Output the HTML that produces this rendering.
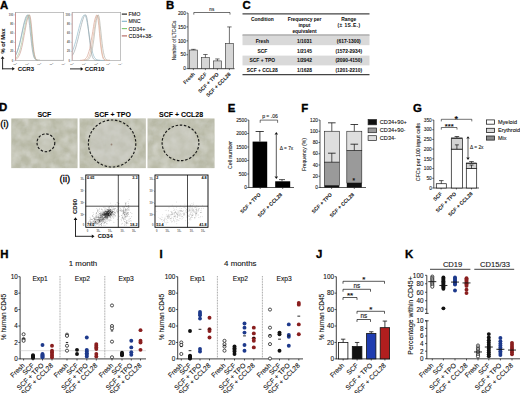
<!DOCTYPE html>
<html><head><meta charset="utf-8"><style>
html,body{margin:0;padding:0;background:#fff;}
svg{display:block;font-family:"Liberation Sans", sans-serif;}
</style></head><body>
<svg width="520" height="393" viewBox="0 0 520 393">
<rect width="520" height="393" fill="#fff"/>
<defs>
<filter id="tex" x="0" y="0" width="100%" height="100%">
<feTurbulence type="fractalNoise" baseFrequency="0.14" numOctaves="3" seed="7" result="n"/>
<feColorMatrix in="n" type="matrix" values="0 0 0 0 0.60  0 0 0 0 0.61  0 0 0 0 0.55  0 0 0 1.3 -0.5"/>
<feComposite in2="SourceGraphic" operator="in"/>
</filter>
<filter id="tex2" x="0" y="0" width="100%" height="100%">
<feTurbulence type="fractalNoise" baseFrequency="0.10" numOctaves="2" seed="21" result="n"/>
<feColorMatrix in="n" type="matrix" values="0 0 0 0 0.80  0 0 0 0 0.80  0 0 0 0 0.76  0 0 0 0.9 -0.3"/>
<feComposite in2="SourceGraphic" operator="in"/>
</filter>
<linearGradient id="ph" x1="0" y1="0" x2="1" y2="1">
<stop offset="0" stop-color="#b8bba6"/><stop offset="1" stop-color="#bec1ad"/>
</linearGradient>
</defs>
<text x="0.1" y="8.5" font-size="11.4" font-weight="bold" fill="#000" stroke="#000" stroke-width="0.35">A</text>
<rect x="15.3" y="12.6" width="48.400000000000006" height="48.1" fill="none" stroke="#9a9a9a" stroke-width="0.6"/>
<text x="13.3" y="15.8" font-size="2.7" text-anchor="end" font-weight="bold" fill="#555">100</text>
<line x1="13.9" y1="14.9" x2="15.3" y2="14.9" stroke="#999" stroke-width="0.4"/>
<text x="13.3" y="24.9" font-size="2.7" text-anchor="end" font-weight="bold" fill="#555">80</text>
<line x1="13.9" y1="24.0" x2="15.3" y2="24.0" stroke="#999" stroke-width="0.4"/>
<text x="13.3" y="34.1" font-size="2.7" text-anchor="end" font-weight="bold" fill="#555">60</text>
<line x1="13.9" y1="33.2" x2="15.3" y2="33.2" stroke="#999" stroke-width="0.4"/>
<text x="13.3" y="43.3" font-size="2.7" text-anchor="end" font-weight="bold" fill="#555">40</text>
<line x1="13.9" y1="42.4" x2="15.3" y2="42.4" stroke="#999" stroke-width="0.4"/>
<text x="13.3" y="52.4" font-size="2.7" text-anchor="end" font-weight="bold" fill="#555">20</text>
<line x1="13.9" y1="51.5" x2="15.3" y2="51.5" stroke="#999" stroke-width="0.4"/>
<text x="13.3" y="61.6" font-size="2.7" text-anchor="end" font-weight="bold" fill="#555">0</text>
<line x1="13.9" y1="60.7" x2="15.3" y2="60.7" stroke="#999" stroke-width="0.4"/>
<text x="15.0" y="64.6" font-size="2.5" text-anchor="middle" font-weight="bold" fill="#777">10<tspan dy="-0.8" font-size="1.6">0</tspan></text>
<text x="27.099999999999998" y="64.6" font-size="2.5" text-anchor="middle" font-weight="bold" fill="#777">10<tspan dy="-0.8" font-size="1.6">1</tspan></text>
<text x="39.2" y="64.6" font-size="2.5" text-anchor="middle" font-weight="bold" fill="#777">10<tspan dy="-0.8" font-size="1.6">2</tspan></text>
<text x="51.3" y="64.6" font-size="2.5" text-anchor="middle" font-weight="bold" fill="#777">10<tspan dy="-0.8" font-size="1.6">3</tspan></text>
<text x="63.400000000000006" y="64.6" font-size="2.5" text-anchor="middle" font-weight="bold" fill="#777">10<tspan dy="-0.8" font-size="1.6">4</tspan></text>
<rect x="72.1" y="12.6" width="48.60000000000001" height="48.1" fill="none" stroke="#9a9a9a" stroke-width="0.6"/>
<text x="70.1" y="15.8" font-size="2.7" text-anchor="end" font-weight="bold" fill="#555">100</text>
<line x1="70.69999999999999" y1="14.9" x2="72.1" y2="14.9" stroke="#999" stroke-width="0.4"/>
<text x="70.1" y="24.9" font-size="2.7" text-anchor="end" font-weight="bold" fill="#555">80</text>
<line x1="70.69999999999999" y1="24.0" x2="72.1" y2="24.0" stroke="#999" stroke-width="0.4"/>
<text x="70.1" y="34.1" font-size="2.7" text-anchor="end" font-weight="bold" fill="#555">60</text>
<line x1="70.69999999999999" y1="33.2" x2="72.1" y2="33.2" stroke="#999" stroke-width="0.4"/>
<text x="70.1" y="43.3" font-size="2.7" text-anchor="end" font-weight="bold" fill="#555">40</text>
<line x1="70.69999999999999" y1="42.4" x2="72.1" y2="42.4" stroke="#999" stroke-width="0.4"/>
<text x="70.1" y="52.4" font-size="2.7" text-anchor="end" font-weight="bold" fill="#555">20</text>
<line x1="70.69999999999999" y1="51.5" x2="72.1" y2="51.5" stroke="#999" stroke-width="0.4"/>
<text x="70.1" y="61.6" font-size="2.7" text-anchor="end" font-weight="bold" fill="#555">0</text>
<line x1="70.69999999999999" y1="60.7" x2="72.1" y2="60.7" stroke="#999" stroke-width="0.4"/>
<text x="71.8" y="64.6" font-size="2.5" text-anchor="middle" font-weight="bold" fill="#777">10<tspan dy="-0.8" font-size="1.6">0</tspan></text>
<text x="83.89999999999999" y="64.6" font-size="2.5" text-anchor="middle" font-weight="bold" fill="#777">10<tspan dy="-0.8" font-size="1.6">1</tspan></text>
<text x="96.0" y="64.6" font-size="2.5" text-anchor="middle" font-weight="bold" fill="#777">10<tspan dy="-0.8" font-size="1.6">2</tspan></text>
<text x="108.1" y="64.6" font-size="2.5" text-anchor="middle" font-weight="bold" fill="#777">10<tspan dy="-0.8" font-size="1.6">3</tspan></text>
<text x="120.2" y="64.6" font-size="2.5" text-anchor="middle" font-weight="bold" fill="#777">10<tspan dy="-0.8" font-size="1.6">4</tspan></text>
<path d="M15.6,55.6 L16.2,54.4 L16.8,53.0 L17.4,51.4 L18.0,49.5 L18.6,47.4 L19.3,45.1 L19.9,42.5 L20.5,39.8 L21.1,36.9 L21.7,34.0 L22.3,31.0 L22.9,28.1 L23.5,25.3 L24.1,22.7 L24.8,20.3 L25.4,18.3 L26.0,16.8 L26.6,15.6 L27.2,15.0 L27.8,15.0 L28.4,16.8 L29.0,20.5 L29.6,25.7 L30.2,31.6 L30.9,37.7 L31.5,43.3 L32.1,48.2 L32.7,52.1 L33.3,55.0 L33.9,57.1 L34.5,58.4 L35.1,59.3 L35.7,59.8 L36.3,60.1 L37.0,60.3 L37.6,60.3 L38.2,60.4 L38.8,60.4 L39.4,60.4 L40.0,60.4" stroke="#9aa0a4" stroke-width="0.8" fill="none" stroke-linejoin="round" opacity="0.85"/>
<path d="M15.6,54.9 L16.2,53.7 L16.8,52.3 L17.4,50.8 L18.0,49.0 L18.6,47.1 L19.3,44.9 L19.9,42.6 L20.5,40.2 L21.1,37.6 L21.7,34.9 L22.3,32.2 L22.9,29.5 L23.5,26.9 L24.1,24.4 L24.8,22.1 L25.4,20.0 L26.0,18.2 L26.6,16.8 L27.2,15.8 L27.8,15.1 L28.4,14.9 L29.0,16.1 L29.6,19.4 L30.2,24.4 L30.9,30.4 L31.5,36.6 L32.1,42.5 L32.7,47.6 L33.3,51.7 L33.9,54.8 L34.5,57.0 L35.1,58.4 L35.7,59.3 L36.3,59.8 L37.0,60.1 L37.6,60.3 L38.2,60.3 L38.8,60.4 L39.4,60.4 L40.0,60.4" stroke="#8fb8c8" stroke-width="0.8" fill="none" stroke-linejoin="round" opacity="0.85"/>
<path d="M15.6,58.5 L16.2,57.9 L16.8,57.1 L17.4,56.2 L18.0,55.0 L18.6,53.6 L19.3,52.0 L19.9,50.1 L20.5,47.9 L21.1,45.4 L21.7,42.8 L22.3,39.9 L22.9,36.8 L23.5,33.7 L24.1,30.5 L24.8,27.4 L25.4,24.4 L26.0,21.8 L26.6,19.4 L27.2,17.5 L27.8,16.1 L28.4,15.2 L29.0,14.9 L29.6,16.3 L30.2,20.0 L30.9,25.5 L31.5,31.9 L32.1,38.4 L32.7,44.4 L33.3,49.4 L33.9,53.3 L34.5,56.0 L35.1,57.9 L35.7,59.0 L36.3,59.7 L37.0,60.1 L37.6,60.2 L38.2,60.3 L38.8,60.4 L39.4,60.4 L40.0,60.4" stroke="#a9c9a0" stroke-width="0.8" fill="none" stroke-linejoin="round" opacity="0.85"/>
<path d="M15.6,59.6 L16.2,59.2 L16.8,58.8 L17.4,58.2 L18.0,57.4 L18.6,56.5 L19.3,55.3 L19.9,53.8 L20.5,52.1 L21.1,50.0 L21.7,47.7 L22.3,45.0 L22.9,42.1 L23.5,38.9 L24.1,35.6 L24.8,32.2 L25.4,28.9 L26.0,25.6 L26.6,22.6 L27.2,20.0 L27.8,17.8 L28.4,16.2 L29.0,15.2 L29.6,14.9 L30.2,16.5 L30.9,20.7 L31.5,26.7 L32.1,33.6 L32.7,40.4 L33.3,46.4 L33.9,51.2 L34.5,54.7 L35.1,57.1 L35.7,58.6 L36.3,59.5 L37.0,60.0 L37.6,60.2 L38.2,60.3 L38.8,60.4 L39.4,60.4 L40.0,60.4" stroke="#c99a90" stroke-width="0.8" fill="none" stroke-linejoin="round" opacity="0.85"/>
<line x1="63.7" y1="60.4" x2="38" y2="60.4" stroke="#bbb" stroke-width="0.8"/>
<line x1="15.5" y1="13" x2="15.5" y2="60.5" stroke="#c88" stroke-width="0.8"/>
<path d="M72.4,51.4 L73.2,49.3 L74.0,46.9 L74.8,44.2 L75.7,41.3 L76.5,38.2 L77.3,34.9 L78.1,31.6 L78.9,28.3 L79.7,25.2 L80.6,22.3 L81.4,19.8 L82.2,17.7 L83.0,16.2 L83.8,15.2 L84.6,14.9 L85.4,15.8 L86.3,18.2 L87.1,22.0 L87.9,26.7 L88.7,31.9 L89.5,37.1 L90.3,42.1 L91.1,46.6 L92.0,50.3 L92.8,53.3 L93.6,55.6 L94.4,57.3 L95.2,58.4 L96.0,59.2 L96.8,59.7 L97.7,60.0 L98.5,60.2 L99.3,60.3 L100.1,60.3 L100.9,60.4 L101.7,60.4 L102.6,60.4 L103.4,60.4 L104.2,60.4 L105.0,60.4" stroke="#8fb8c8" stroke-width="0.8" fill="none" stroke-linejoin="round" opacity="0.85"/>
<path d="M72.4,55.4 L73.1,54.2 L73.8,52.8 L74.5,51.1 L75.2,49.2 L75.9,47.0 L76.5,44.6 L77.2,42.0 L77.9,39.3 L78.6,36.4 L79.3,33.4 L80.0,30.4 L80.7,27.5 L81.4,24.7 L82.1,22.1 L82.8,19.8 L83.4,17.9 L84.1,16.4 L84.8,15.4 L85.5,14.9 L86.2,15.3 L86.9,17.9 L87.6,22.4 L88.3,28.2 L89.0,34.6 L89.7,40.8 L90.3,46.3 L91.0,50.7 L91.7,54.2 L92.4,56.6 L93.1,58.2 L93.8,59.2 L94.5,59.8 L95.2,60.1 L95.9,60.3 L96.5,60.3 L97.2,60.4 L97.9,60.4 L98.6,60.4 L99.3,60.4 L100.0,60.4" stroke="#9aa3a8" stroke-width="0.8" fill="none" stroke-linejoin="round" opacity="0.85"/>
<path d="M80.0,60.4 L80.8,60.3 L81.5,60.3 L82.2,60.2 L83.0,60.1 L83.8,59.9 L84.5,59.6 L85.2,59.1 L86.0,58.3 L86.8,57.3 L87.5,55.8 L88.2,53.9 L89.0,51.4 L89.8,48.4 L90.5,44.7 L91.2,40.6 L92.0,36.0 L92.8,31.3 L93.5,26.7 L94.2,22.5 L95.0,19.0 L95.8,16.4 L96.5,15.1 L97.2,15.3 L98.0,19.0 L98.8,25.5 L99.5,33.4 L100.2,41.3 L101.0,48.0 L101.8,53.0 L102.5,56.4 L103.2,58.4 L104.0,59.5 L104.8,60.0 L105.5,60.2 L106.2,60.3 L107.0,60.4 L107.8,60.4 L108.5,60.4 L109.2,60.4 L110.0,60.4" stroke="#d5a090" stroke-width="0.8" fill="none" stroke-linejoin="round" opacity="0.85"/>
<path d="M82.0,60.4 L82.7,60.4 L83.4,60.3 L84.1,60.3 L84.8,60.2 L85.5,60.0 L86.2,59.8 L86.9,59.4 L87.6,58.7 L88.3,57.8 L89.0,56.5 L89.7,54.6 L90.4,52.2 L91.1,49.1 L91.8,45.4 L92.5,41.1 L93.2,36.4 L93.9,31.5 L94.6,26.6 L95.3,22.2 L96.0,18.6 L96.7,16.1 L97.4,15.0 L98.1,15.9 L98.8,20.2 L99.5,27.1 L100.2,35.0 L100.9,42.7 L101.6,49.0 L102.3,53.7 L103.0,56.7 L103.7,58.6 L104.4,59.6 L105.1,60.0 L105.8,60.3 L106.5,60.4 L107.2,60.4 L107.9,60.4 L108.6,60.4 L109.3,60.4 L110.0,60.4" stroke="#e0b8a0" stroke-width="0.8" fill="none" stroke-linejoin="round" opacity="0.85"/>
<path d="M84.0,60.4 L84.7,60.4 L85.3,60.3 L86.0,60.3 L86.6,60.2 L87.2,60.0 L87.9,59.7 L88.5,59.3 L89.2,58.6 L89.8,57.6 L90.5,56.2 L91.2,54.2 L91.8,51.6 L92.5,48.3 L93.1,44.3 L93.8,39.8 L94.4,34.9 L95.0,29.8 L95.7,25.0 L96.3,20.7 L97.0,17.4 L97.7,15.4 L98.3,14.9 L99.0,16.5 L99.6,20.1 L100.2,25.4 L100.9,31.6 L101.5,37.8 L102.2,43.7 L102.8,48.6 L103.5,52.5 L104.2,55.4 L104.8,57.4 L105.5,58.7 L106.1,59.5 L106.8,59.9 L107.4,60.2 L108.0,60.3 L108.7,60.4 L109.3,60.4 L110.0,60.4" stroke="#b0b0a8" stroke-width="0.8" fill="none" stroke-linejoin="round" opacity="0.85"/>
<line x1="72.3" y1="13" x2="72.3" y2="60.5" stroke="#c99" stroke-width="0.6"/>
<line x1="121.8" y1="14.1" x2="127.0" y2="14.1" stroke="#111" stroke-width="1.1"/>
<text x="128.6" y="16.0" font-size="5.3" text-anchor="start" font-weight="normal" fill="#111" stroke="#111" stroke-width="0.1">FMO</text>
<line x1="121.8" y1="21.3" x2="127.0" y2="21.3" stroke="#7fb3c8" stroke-width="1.1"/>
<text x="128.6" y="23.2" font-size="5.3" text-anchor="start" font-weight="normal" fill="#111" stroke="#111" stroke-width="0.1">MNC</text>
<line x1="121.8" y1="28.6" x2="127.0" y2="28.6" stroke="#7cc66f" stroke-width="1.1"/>
<text x="128.6" y="30.5" font-size="5.3" text-anchor="start" font-weight="normal" fill="#111" stroke="#111" stroke-width="0.1">CD34+</text>
<line x1="121.8" y1="35.9" x2="127.0" y2="35.9" stroke="#b0605a" stroke-width="1.1"/>
<text x="128.6" y="37.8" font-size="5.3" text-anchor="start" font-weight="normal" fill="#111" stroke="#111" stroke-width="0.1">CD34+38-</text>
<text x="5.2" y="41" font-size="5.8" text-anchor="middle" font-weight="bold" fill="#111" stroke="#111" stroke-width="0.05" transform="rotate(-90 5.2 41)">% of Max</text>
<line x1="2.6" y1="69.3" x2="2.6" y2="58.5" stroke="#111" stroke-width="0.9"/>
<path d="M2.6,56.2 L0.7800000000000002,58.800000000000004 L4.42,58.800000000000004 Z" fill="#111"/>
<line x1="2.2" y1="68.8" x2="12.8" y2="68.8" stroke="#111" stroke-width="0.9"/>
<path d="M14.8,68.8 L12.200000000000001,66.98 L12.200000000000001,70.61999999999999 Z" fill="#111"/>
<text x="17.7" y="71.1" font-size="6.0" text-anchor="start" font-weight="bold" fill="#111" stroke="#111" stroke-width="0.05">CCR3</text>
<line x1="70.0" y1="68.9" x2="81.5" y2="68.9" stroke="#111" stroke-width="0.9"/>
<path d="M83.3,68.9 L80.7,67.08000000000001 L80.7,70.72 Z" fill="#111"/>
<text x="84.7" y="71.2" font-size="6.0" text-anchor="start" font-weight="bold" fill="#111" stroke="#111" stroke-width="0.05">CCR10</text>
<text x="166.0" y="8.5" font-size="11.4" font-weight="bold" fill="#000" stroke="#000" stroke-width="0.35">B</text>
<line x1="188" y1="13.0" x2="188" y2="69.0" stroke="#111" stroke-width="0.7"/>
<line x1="188" y1="68.7" x2="234.5" y2="68.7" stroke="#111" stroke-width="0.8"/>
<line x1="186.4" y1="68.7" x2="188" y2="68.7" stroke="#111" stroke-width="0.6"/>
<text x="185.9" y="70.4" font-size="4.8" text-anchor="end" font-weight="normal" fill="#222" stroke="#222" stroke-width="0.1">0</text>
<line x1="186.4" y1="54.775000000000006" x2="188" y2="54.775000000000006" stroke="#111" stroke-width="0.6"/>
<text x="185.9" y="56.47500000000001" font-size="4.8" text-anchor="end" font-weight="normal" fill="#222" stroke="#222" stroke-width="0.1">50</text>
<line x1="186.4" y1="40.85" x2="188" y2="40.85" stroke="#111" stroke-width="0.6"/>
<text x="185.9" y="42.550000000000004" font-size="4.8" text-anchor="end" font-weight="normal" fill="#222" stroke="#222" stroke-width="0.1">100</text>
<line x1="186.4" y1="26.925000000000004" x2="188" y2="26.925000000000004" stroke="#111" stroke-width="0.6"/>
<text x="185.9" y="28.625000000000004" font-size="4.8" text-anchor="end" font-weight="normal" fill="#222" stroke="#222" stroke-width="0.1">150</text>
<line x1="186.4" y1="13.0" x2="188" y2="13.0" stroke="#111" stroke-width="0.6"/>
<text x="185.9" y="14.7" font-size="4.8" text-anchor="end" font-weight="normal" fill="#222" stroke="#222" stroke-width="0.1">200</text>
<text x="175.5" y="40.5" font-size="4.6" text-anchor="middle" font-weight="normal" fill="#222" stroke="#222" stroke-width="0.1" transform="rotate(-90 175.5 40.5)">Number of LTC-ICs</text>
<rect x="189.3" y="50.0405" width="8.199999999999989" height="18.6595" fill="#d6d6d6" stroke="#333" stroke-width="0.6"/>
<line x1="193.4" y1="50.0405" x2="193.4" y2="49.34425" stroke="#111" stroke-width="0.6"/>
<line x1="191.20000000000002" y1="49.34425" x2="195.6" y2="49.34425" stroke="#111" stroke-width="0.6"/>
<rect x="201.3" y="57.56" width="8.199999999999989" height="11.14" fill="#d6d6d6" stroke="#333" stroke-width="0.6"/>
<line x1="205.4" y1="57.56" x2="205.4" y2="54.4965" stroke="#111" stroke-width="0.6"/>
<line x1="203.20000000000002" y1="54.4965" x2="207.6" y2="54.4965" stroke="#111" stroke-width="0.6"/>
<rect x="213.3" y="60.902" width="8.199999999999989" height="7.798000000000002" fill="#d6d6d6" stroke="#333" stroke-width="0.6"/>
<line x1="217.4" y1="60.902" x2="217.4" y2="58.9525" stroke="#111" stroke-width="0.6"/>
<line x1="215.20000000000002" y1="58.9525" x2="219.6" y2="58.9525" stroke="#111" stroke-width="0.6"/>
<rect x="225.3" y="43.356500000000004" width="8.199999999999989" height="25.3435" fill="#d6d6d6" stroke="#333" stroke-width="0.6"/>
<line x1="229.4" y1="43.356500000000004" x2="229.4" y2="26.925000000000004" stroke="#111" stroke-width="0.6"/>
<line x1="227.20000000000002" y1="26.925000000000004" x2="231.6" y2="26.925000000000004" stroke="#111" stroke-width="0.6"/>
<path d="M193.8,14.6 L193.8,12.5 L230,12.5 L230,14.6" stroke="#111" stroke-width="0.6" fill="none"/>
<text x="211.8" y="11.2" font-size="4.6" text-anchor="middle" font-weight="normal" fill="#222" stroke="#222" stroke-width="0.1">ns</text>
<text x="195.1" y="74.6" font-size="5.1" text-anchor="end" font-weight="bold" fill="#222" stroke="#222" stroke-width="0.05" transform="rotate(-45 195.1 74.6)">Fresh</text>
<text x="207.1" y="74.6" font-size="5.1" text-anchor="end" font-weight="bold" fill="#222" stroke="#222" stroke-width="0.05" transform="rotate(-45 207.1 74.6)">SCF</text>
<text x="219.1" y="74.6" font-size="5.1" text-anchor="end" font-weight="bold" fill="#222" stroke="#222" stroke-width="0.05" transform="rotate(-45 219.1 74.6)">SCF + TPO</text>
<text x="231.1" y="74.6" font-size="5.1" text-anchor="end" font-weight="bold" fill="#222" stroke="#222" stroke-width="0.05" transform="rotate(-45 231.1 74.6)">SCF + CCL28</text>
<line x1="193.4" y1="68.7" x2="193.4" y2="70.10000000000001" stroke="#111" stroke-width="0.6"/>
<line x1="205.4" y1="68.7" x2="205.4" y2="70.10000000000001" stroke="#111" stroke-width="0.6"/>
<line x1="217.4" y1="68.7" x2="217.4" y2="70.10000000000001" stroke="#111" stroke-width="0.6"/>
<line x1="229.4" y1="68.7" x2="229.4" y2="70.10000000000001" stroke="#111" stroke-width="0.6"/>
<text x="242.4" y="8.6" font-size="11.4" font-weight="bold" fill="#000" stroke="#000" stroke-width="0.35">C</text>
<line x1="242.5" y1="13.8" x2="369.5" y2="13.8" stroke="#444" stroke-width="1.3"/>
<text x="262.3" y="20.9" font-size="4.9" text-anchor="middle" font-weight="bold" fill="#111" stroke="#111" stroke-width="0.05">Condition</text>
<text x="304.5" y="20.9" font-size="4.9" text-anchor="middle" font-weight="bold" fill="#111" stroke="#111" stroke-width="0.05">Frequency per</text>
<text x="304.5" y="26.6" font-size="4.9" text-anchor="middle" font-weight="bold" fill="#111" stroke="#111" stroke-width="0.05">input</text>
<text x="304.5" y="32.8" font-size="4.9" text-anchor="middle" font-weight="bold" fill="#111" stroke="#111" stroke-width="0.05">equivalent</text>
<text x="348.8" y="20.9" font-size="4.9" text-anchor="middle" font-weight="bold" fill="#111" stroke="#111" stroke-width="0.05">Range</text>
<text x="348.8" y="26.6" font-size="4.9" text-anchor="middle" font-weight="bold" fill="#111" stroke="#111" stroke-width="0.05" textLength="22.5" lengthAdjust="spacing">(± 1S.E.)</text>
<line x1="242.5" y1="35.1" x2="369.5" y2="35.1" stroke="#555" stroke-width="0.9"/>
<rect x="242.5" y="35.6" width="127" height="9.6" fill="#d9d9d9" stroke="none" stroke-width="0.6"/>
<rect x="242.5" y="55.6" width="127" height="9.8" fill="#d9d9d9" stroke="none" stroke-width="0.6"/>
<text x="262.3" y="42.599999999999994" font-size="4.9" text-anchor="middle" font-weight="bold" fill="#111" stroke="#111" stroke-width="0.05">Fresh</text>
<text x="304.5" y="42.599999999999994" font-size="4.9" text-anchor="middle" font-weight="bold" fill="#111" stroke="#111" stroke-width="0.05">1/1031</text>
<text x="348.8" y="42.599999999999994" font-size="4.9" text-anchor="middle" font-weight="bold" fill="#111" stroke="#111" stroke-width="0.05">(617-1300)</text>
<text x="262.3" y="52.5" font-size="4.9" text-anchor="middle" font-weight="bold" fill="#111" stroke="#111" stroke-width="0.05">SCF</text>
<text x="304.5" y="52.5" font-size="4.9" text-anchor="middle" font-weight="bold" fill="#111" stroke="#111" stroke-width="0.05">1/2145</text>
<text x="348.8" y="52.5" font-size="4.9" text-anchor="middle" font-weight="bold" fill="#111" stroke="#111" stroke-width="0.05">(1572-2934)</text>
<text x="262.3" y="62.3" font-size="4.9" text-anchor="middle" font-weight="bold" fill="#111" stroke="#111" stroke-width="0.05">SCF + TPO</text>
<text x="304.5" y="62.3" font-size="4.9" text-anchor="middle" font-weight="bold" fill="#111" stroke="#111" stroke-width="0.05">1/2942</text>
<text x="348.8" y="62.3" font-size="4.9" text-anchor="middle" font-weight="bold" fill="#111" stroke="#111" stroke-width="0.05">(2090-4150)</text>
<text x="262.3" y="72.1" font-size="4.9" text-anchor="middle" font-weight="bold" fill="#111" stroke="#111" stroke-width="0.05">SCF + CCL28</text>
<text x="304.5" y="72.1" font-size="4.9" text-anchor="middle" font-weight="bold" fill="#111" stroke="#111" stroke-width="0.05">1/1628</text>
<text x="348.8" y="72.1" font-size="4.9" text-anchor="middle" font-weight="bold" fill="#111" stroke="#111" stroke-width="0.05">(1201-2210)</text>
<line x1="242.5" y1="74.6" x2="369.5" y2="74.6" stroke="#444" stroke-width="1.2"/>
<text x="-1.0" y="111.3" font-size="11.4" font-weight="bold" fill="#000" stroke="#000" stroke-width="0.35">D</text>
<text x="0.2" y="127.0" font-size="9.6" fill="#000" stroke="#000" stroke-width="0.3">(i)</text>
<text x="59.6" y="181.8" font-size="9.6" fill="#000" stroke="#000" stroke-width="0.3">(ii)</text>
<rect x="11.3" y="118.5" width="66.20" height="49.6" fill="#b8b9a6"/>
<rect x="11.3" y="118.5" width="66.20" height="49.6" fill="#b9bca8" filter="url(#tex)"/>
<rect x="11.3" y="118.5" width="66.20" height="49.6" fill="#b9bca8" filter="url(#tex2)"/>
<text x="44.4" y="116.8" font-size="7.0" text-anchor="middle" font-weight="bold" fill="#000" stroke="#000" stroke-width="0.05">SCF</text>
<rect x="79.6" y="118.5" width="66.20" height="49.6" fill="#b8b9a6"/>
<rect x="79.6" y="118.5" width="66.20" height="49.6" fill="#b9bca8" filter="url(#tex)"/>
<rect x="79.6" y="118.5" width="66.20" height="49.6" fill="#b9bca8" filter="url(#tex2)"/>
<text x="112.7" y="116.8" font-size="7.0" text-anchor="middle" font-weight="bold" fill="#000" stroke="#000" stroke-width="0.05">SCF + TPO</text>
<rect x="147.6" y="118.5" width="66.90" height="49.6" fill="#b8b9a6"/>
<rect x="147.6" y="118.5" width="66.90" height="49.6" fill="#b9bca8" filter="url(#tex)"/>
<rect x="147.6" y="118.5" width="66.90" height="49.6" fill="#b9bca8" filter="url(#tex2)"/>
<text x="181.05" y="116.8" font-size="7.0" text-anchor="middle" font-weight="bold" fill="#000" stroke="#000" stroke-width="0.05">SCF + CCL28</text>
<circle cx="112.1" cy="143.5" r="22" fill="#cfcfc9" opacity="0.45"/>
<circle cx="180.5" cy="142.9" r="17" fill="#cfd0c9" opacity="0.4"/>
<circle cx="45.9" cy="142.8" r="8" fill="#cfd0c9" opacity="0.3"/>
<circle cx="111.5" cy="144.5" r="0.9" fill="#7a5a4a" opacity="0.6"/>
<ellipse cx="45.9" cy="142.8" rx="8.9" ry="8.9" fill="none" stroke="#1a1a1a" stroke-width="1.15" stroke-dasharray="2.5 1.7"/>
<ellipse cx="112.1" cy="143.5" rx="23.7" ry="23.5" fill="none" stroke="#1a1a1a" stroke-width="1.15" stroke-dasharray="2.5 1.7"/>
<ellipse cx="180.5" cy="142.9" rx="18.4" ry="17.8" fill="none" stroke="#1a1a1a" stroke-width="1.15" stroke-dasharray="2.5 1.7"/>
<circle cx="105.6" cy="219.7" r="0.45" fill="#111" opacity="0.3"/>
<circle cx="98.9" cy="221.1" r="0.45" fill="#111" opacity="0.3"/>
<circle cx="103.3" cy="215.2" r="0.45" fill="#111" opacity="0.3"/>
<circle cx="117.3" cy="211.7" r="0.45" fill="#111" opacity="0.3"/>
<circle cx="104.7" cy="218.2" r="0.45" fill="#111" opacity="0.3"/>
<circle cx="112.3" cy="212.8" r="0.45" fill="#111" opacity="0.3"/>
<circle cx="108.8" cy="210.7" r="0.45" fill="#111" opacity="0.3"/>
<circle cx="102.6" cy="214.8" r="0.45" fill="#111" opacity="0.3"/>
<circle cx="96.3" cy="213.3" r="0.45" fill="#111" opacity="0.3"/>
<circle cx="94.4" cy="218.4" r="0.45" fill="#111" opacity="0.3"/>
<circle cx="103.9" cy="214.8" r="0.45" fill="#111" opacity="0.3"/>
<circle cx="105.4" cy="210.7" r="0.45" fill="#111" opacity="0.3"/>
<circle cx="104.5" cy="216.5" r="0.45" fill="#111" opacity="0.3"/>
<circle cx="109.9" cy="210.8" r="0.45" fill="#111" opacity="0.3"/>
<circle cx="102.4" cy="209.4" r="0.45" fill="#111" opacity="0.3"/>
<circle cx="101.7" cy="209.0" r="0.45" fill="#111" opacity="0.3"/>
<circle cx="95.8" cy="222.6" r="0.45" fill="#111" opacity="0.3"/>
<circle cx="90.7" cy="223.4" r="0.45" fill="#111" opacity="0.3"/>
<circle cx="107.1" cy="213.6" r="0.45" fill="#111" opacity="0.3"/>
<circle cx="108.0" cy="216.3" r="0.45" fill="#111" opacity="0.3"/>
<circle cx="111.8" cy="212.3" r="0.45" fill="#111" opacity="0.3"/>
<circle cx="101.2" cy="214.7" r="0.45" fill="#111" opacity="0.3"/>
<circle cx="98.6" cy="217.6" r="0.45" fill="#111" opacity="0.3"/>
<circle cx="99.9" cy="221.1" r="0.45" fill="#111" opacity="0.3"/>
<circle cx="92.8" cy="216.0" r="0.45" fill="#111" opacity="0.3"/>
<circle cx="98.8" cy="210.4" r="0.45" fill="#111" opacity="0.3"/>
<circle cx="117.4" cy="202.7" r="0.45" fill="#111" opacity="0.3"/>
<circle cx="103.2" cy="214.3" r="0.45" fill="#111" opacity="0.3"/>
<circle cx="115.8" cy="204.7" r="0.45" fill="#111" opacity="0.3"/>
<circle cx="112.0" cy="210.5" r="0.45" fill="#111" opacity="0.3"/>
<circle cx="104.0" cy="213.5" r="0.45" fill="#111" opacity="0.3"/>
<circle cx="109.2" cy="210.0" r="0.45" fill="#111" opacity="0.3"/>
<circle cx="104.5" cy="216.9" r="0.45" fill="#111" opacity="0.3"/>
<circle cx="117.0" cy="202.8" r="0.45" fill="#111" opacity="0.3"/>
<circle cx="114.9" cy="215.3" r="0.45" fill="#111" opacity="0.3"/>
<circle cx="101.9" cy="217.7" r="0.45" fill="#111" opacity="0.3"/>
<circle cx="102.0" cy="222.4" r="0.45" fill="#111" opacity="0.3"/>
<circle cx="106.4" cy="214.3" r="0.45" fill="#111" opacity="0.3"/>
<circle cx="103.5" cy="215.3" r="0.45" fill="#111" opacity="0.3"/>
<circle cx="103.9" cy="212.8" r="0.45" fill="#111" opacity="0.3"/>
<circle cx="118.4" cy="204.0" r="0.45" fill="#111" opacity="0.3"/>
<circle cx="104.0" cy="217.1" r="0.45" fill="#111" opacity="0.3"/>
<circle cx="103.7" cy="215.5" r="0.45" fill="#111" opacity="0.3"/>
<circle cx="107.2" cy="218.1" r="0.45" fill="#111" opacity="0.3"/>
<circle cx="102.1" cy="215.2" r="0.45" fill="#111" opacity="0.3"/>
<circle cx="117.6" cy="212.9" r="0.45" fill="#111" opacity="0.3"/>
<circle cx="98.6" cy="225.9" r="0.45" fill="#111" opacity="0.3"/>
<circle cx="110.0" cy="211.6" r="0.45" fill="#111" opacity="0.3"/>
<circle cx="97.4" cy="219.3" r="0.45" fill="#111" opacity="0.3"/>
<circle cx="99.6" cy="213.7" r="0.45" fill="#111" opacity="0.3"/>
<circle cx="96.6" cy="216.7" r="0.45" fill="#111" opacity="0.3"/>
<circle cx="112.2" cy="211.4" r="0.45" fill="#111" opacity="0.3"/>
<circle cx="95.6" cy="221.2" r="0.45" fill="#111" opacity="0.3"/>
<circle cx="105.4" cy="218.3" r="0.45" fill="#111" opacity="0.3"/>
<circle cx="112.8" cy="212.1" r="0.45" fill="#111" opacity="0.3"/>
<circle cx="104.1" cy="215.7" r="0.45" fill="#111" opacity="0.3"/>
<circle cx="97.6" cy="220.5" r="0.45" fill="#111" opacity="0.3"/>
<circle cx="113.9" cy="212.9" r="0.45" fill="#111" opacity="0.3"/>
<circle cx="103.5" cy="215.1" r="0.45" fill="#111" opacity="0.3"/>
<circle cx="99.9" cy="214.5" r="0.45" fill="#111" opacity="0.3"/>
<circle cx="102.4" cy="213.5" r="0.45" fill="#111" opacity="0.3"/>
<circle cx="102.2" cy="211.0" r="0.45" fill="#111" opacity="0.3"/>
<circle cx="107.3" cy="214.9" r="0.45" fill="#111" opacity="0.3"/>
<circle cx="97.5" cy="210.1" r="0.45" fill="#111" opacity="0.3"/>
<circle cx="104.9" cy="219.4" r="0.45" fill="#111" opacity="0.3"/>
<circle cx="100.2" cy="215.5" r="0.45" fill="#111" opacity="0.3"/>
<circle cx="101.3" cy="219.1" r="0.45" fill="#111" opacity="0.3"/>
<circle cx="99.0" cy="221.1" r="0.45" fill="#111" opacity="0.3"/>
<circle cx="103.0" cy="219.4" r="0.45" fill="#111" opacity="0.3"/>
<circle cx="105.2" cy="214.6" r="0.45" fill="#111" opacity="0.3"/>
<circle cx="95.4" cy="216.5" r="0.45" fill="#111" opacity="0.3"/>
<circle cx="103.3" cy="218.4" r="0.45" fill="#111" opacity="0.3"/>
<circle cx="106.6" cy="212.5" r="0.45" fill="#111" opacity="0.3"/>
<circle cx="107.7" cy="218.0" r="0.45" fill="#111" opacity="0.3"/>
<circle cx="104.0" cy="214.3" r="0.45" fill="#111" opacity="0.3"/>
<circle cx="102.4" cy="219.3" r="0.45" fill="#111" opacity="0.3"/>
<circle cx="108.5" cy="211.0" r="0.45" fill="#111" opacity="0.3"/>
<circle cx="107.4" cy="213.0" r="0.45" fill="#111" opacity="0.3"/>
<circle cx="100.1" cy="221.6" r="0.45" fill="#111" opacity="0.3"/>
<circle cx="110.3" cy="211.1" r="0.45" fill="#111" opacity="0.3"/>
<circle cx="105.5" cy="217.1" r="0.45" fill="#111" opacity="0.3"/>
<circle cx="100.8" cy="216.6" r="0.45" fill="#111" opacity="0.3"/>
<circle cx="109.3" cy="207.7" r="0.45" fill="#111" opacity="0.3"/>
<circle cx="107.1" cy="217.3" r="0.45" fill="#111" opacity="0.3"/>
<circle cx="108.3" cy="209.6" r="0.45" fill="#111" opacity="0.3"/>
<circle cx="107.1" cy="211.7" r="0.45" fill="#111" opacity="0.3"/>
<circle cx="108.7" cy="216.3" r="0.45" fill="#111" opacity="0.3"/>
<circle cx="106.4" cy="212.3" r="0.45" fill="#111" opacity="0.3"/>
<circle cx="101.2" cy="219.9" r="0.45" fill="#111" opacity="0.3"/>
<circle cx="99.2" cy="219.3" r="0.45" fill="#111" opacity="0.3"/>
<circle cx="108.3" cy="213.3" r="0.45" fill="#111" opacity="0.3"/>
<circle cx="120.6" cy="210.2" r="0.45" fill="#111" opacity="0.3"/>
<circle cx="119.0" cy="203.5" r="0.45" fill="#111" opacity="0.3"/>
<circle cx="90.4" cy="224.1" r="0.45" fill="#111" opacity="0.3"/>
<circle cx="109.1" cy="212.9" r="0.45" fill="#111" opacity="0.3"/>
<circle cx="104.7" cy="208.9" r="0.45" fill="#111" opacity="0.3"/>
<circle cx="100.9" cy="213.3" r="0.45" fill="#111" opacity="0.3"/>
<circle cx="103.6" cy="219.1" r="0.45" fill="#111" opacity="0.3"/>
<circle cx="105.3" cy="216.7" r="0.45" fill="#111" opacity="0.3"/>
<circle cx="100.5" cy="215.6" r="0.45" fill="#111" opacity="0.3"/>
<circle cx="105.7" cy="214.3" r="0.45" fill="#111" opacity="0.3"/>
<circle cx="113.2" cy="209.5" r="0.45" fill="#111" opacity="0.3"/>
<circle cx="117.3" cy="207.7" r="0.45" fill="#111" opacity="0.3"/>
<circle cx="111.9" cy="210.3" r="0.45" fill="#111" opacity="0.3"/>
<circle cx="115.7" cy="212.2" r="0.45" fill="#111" opacity="0.3"/>
<circle cx="107.6" cy="217.2" r="0.45" fill="#111" opacity="0.3"/>
<circle cx="100.9" cy="213.3" r="0.45" fill="#111" opacity="0.3"/>
<circle cx="91.8" cy="224.5" r="0.45" fill="#111" opacity="0.3"/>
<circle cx="100.5" cy="215.0" r="0.45" fill="#111" opacity="0.3"/>
<circle cx="104.8" cy="222.5" r="0.45" fill="#111" opacity="0.3"/>
<circle cx="93.8" cy="220.4" r="0.45" fill="#111" opacity="0.3"/>
<circle cx="102.4" cy="218.3" r="0.45" fill="#111" opacity="0.3"/>
<circle cx="93.3" cy="218.3" r="0.45" fill="#111" opacity="0.3"/>
<circle cx="110.5" cy="219.0" r="0.45" fill="#111" opacity="0.3"/>
<circle cx="115.4" cy="208.8" r="0.45" fill="#111" opacity="0.3"/>
<circle cx="105.4" cy="215.0" r="0.45" fill="#111" opacity="0.3"/>
<circle cx="96.1" cy="213.6" r="0.45" fill="#111" opacity="0.3"/>
<circle cx="109.9" cy="214.6" r="0.45" fill="#111" opacity="0.3"/>
<circle cx="104.1" cy="220.1" r="0.45" fill="#111" opacity="0.3"/>
<circle cx="98.5" cy="219.7" r="0.45" fill="#111" opacity="0.3"/>
<circle cx="105.1" cy="215.3" r="0.45" fill="#111" opacity="0.3"/>
<circle cx="108.2" cy="215.0" r="0.45" fill="#111" opacity="0.3"/>
<circle cx="106.7" cy="215.8" r="0.45" fill="#111" opacity="0.3"/>
<circle cx="117.6" cy="209.9" r="0.45" fill="#111" opacity="0.3"/>
<circle cx="111.6" cy="215.3" r="0.45" fill="#111" opacity="0.3"/>
<circle cx="102.7" cy="219.1" r="0.45" fill="#111" opacity="0.3"/>
<circle cx="99.4" cy="221.6" r="0.45" fill="#111" opacity="0.3"/>
<circle cx="99.7" cy="215.7" r="0.45" fill="#111" opacity="0.3"/>
<circle cx="107.1" cy="217.7" r="0.45" fill="#111" opacity="0.3"/>
<circle cx="110.9" cy="216.5" r="0.45" fill="#111" opacity="0.3"/>
<circle cx="103.7" cy="212.6" r="0.45" fill="#111" opacity="0.3"/>
<circle cx="108.6" cy="215.3" r="0.45" fill="#111" opacity="0.3"/>
<circle cx="98.8" cy="221.1" r="0.45" fill="#111" opacity="0.3"/>
<circle cx="106.3" cy="211.7" r="0.45" fill="#111" opacity="0.3"/>
<circle cx="107.9" cy="209.8" r="0.45" fill="#111" opacity="0.3"/>
<circle cx="99.3" cy="218.9" r="0.45" fill="#111" opacity="0.3"/>
<circle cx="94.9" cy="219.2" r="0.45" fill="#111" opacity="0.3"/>
<circle cx="96.2" cy="221.2" r="0.45" fill="#111" opacity="0.3"/>
<circle cx="100.3" cy="217.8" r="0.45" fill="#111" opacity="0.3"/>
<circle cx="95.2" cy="217.8" r="0.45" fill="#111" opacity="0.3"/>
<circle cx="111.2" cy="214.9" r="0.45" fill="#111" opacity="0.3"/>
<circle cx="93.0" cy="223.0" r="0.45" fill="#111" opacity="0.3"/>
<circle cx="110.8" cy="212.1" r="0.45" fill="#111" opacity="0.3"/>
<circle cx="114.2" cy="208.5" r="0.45" fill="#111" opacity="0.3"/>
<circle cx="104.4" cy="219.6" r="0.45" fill="#111" opacity="0.3"/>
<circle cx="113.5" cy="217.0" r="0.45" fill="#111" opacity="0.3"/>
<circle cx="97.9" cy="211.8" r="0.45" fill="#111" opacity="0.3"/>
<circle cx="107.5" cy="209.6" r="0.45" fill="#111" opacity="0.3"/>
<circle cx="104.1" cy="211.3" r="0.45" fill="#111" opacity="0.3"/>
<circle cx="111.9" cy="215.9" r="0.45" fill="#111" opacity="0.3"/>
<circle cx="108.6" cy="214.3" r="0.45" fill="#111" opacity="0.3"/>
<circle cx="105.3" cy="214.4" r="0.45" fill="#111" opacity="0.3"/>
<circle cx="107.5" cy="215.5" r="0.45" fill="#111" opacity="0.3"/>
<circle cx="108.0" cy="212.9" r="0.45" fill="#111" opacity="0.3"/>
<circle cx="117.3" cy="212.1" r="0.45" fill="#111" opacity="0.3"/>
<circle cx="114.1" cy="216.9" r="0.45" fill="#111" opacity="0.3"/>
<circle cx="99.3" cy="211.6" r="0.45" fill="#111" opacity="0.3"/>
<circle cx="113.2" cy="211.2" r="0.45" fill="#111" opacity="0.3"/>
<circle cx="105.5" cy="214.4" r="0.45" fill="#111" opacity="0.3"/>
<circle cx="105.8" cy="211.0" r="0.45" fill="#111" opacity="0.3"/>
<circle cx="104.3" cy="214.1" r="0.45" fill="#111" opacity="0.3"/>
<circle cx="104.9" cy="207.3" r="0.45" fill="#111" opacity="0.3"/>
<circle cx="110.3" cy="214.8" r="0.45" fill="#111" opacity="0.3"/>
<circle cx="93.8" cy="216.9" r="0.45" fill="#111" opacity="0.3"/>
<circle cx="105.2" cy="217.6" r="0.45" fill="#111" opacity="0.3"/>
<circle cx="105.0" cy="220.4" r="0.45" fill="#111" opacity="0.3"/>
<circle cx="105.1" cy="211.9" r="0.45" fill="#111" opacity="0.3"/>
<circle cx="100.6" cy="219.7" r="0.45" fill="#111" opacity="0.3"/>
<circle cx="101.0" cy="219.9" r="0.45" fill="#111" opacity="0.3"/>
<circle cx="111.6" cy="215.2" r="0.45" fill="#111" opacity="0.3"/>
<circle cx="111.6" cy="212.5" r="0.45" fill="#111" opacity="0.3"/>
<circle cx="104.9" cy="213.4" r="0.45" fill="#111" opacity="0.3"/>
<circle cx="101.0" cy="211.4" r="0.45" fill="#111" opacity="0.3"/>
<circle cx="101.4" cy="213.0" r="0.45" fill="#111" opacity="0.3"/>
<circle cx="95.7" cy="219.3" r="0.45" fill="#111" opacity="0.3"/>
<circle cx="108.0" cy="213.3" r="0.45" fill="#111" opacity="0.3"/>
<circle cx="113.9" cy="215.6" r="0.45" fill="#111" opacity="0.3"/>
<circle cx="111.8" cy="211.0" r="0.45" fill="#111" opacity="0.3"/>
<circle cx="95.3" cy="220.9" r="0.45" fill="#111" opacity="0.3"/>
<circle cx="107.0" cy="217.3" r="0.45" fill="#111" opacity="0.3"/>
<circle cx="107.7" cy="219.0" r="0.45" fill="#111" opacity="0.3"/>
<circle cx="103.1" cy="218.5" r="0.45" fill="#111" opacity="0.3"/>
<circle cx="99.2" cy="209.5" r="0.45" fill="#111" opacity="0.3"/>
<circle cx="102.1" cy="221.8" r="0.45" fill="#111" opacity="0.3"/>
<circle cx="94.1" cy="222.9" r="0.45" fill="#111" opacity="0.3"/>
<circle cx="100.6" cy="215.7" r="0.45" fill="#111" opacity="0.3"/>
<circle cx="105.3" cy="216.1" r="0.45" fill="#111" opacity="0.3"/>
<circle cx="98.7" cy="218.2" r="0.45" fill="#111" opacity="0.3"/>
<circle cx="107.9" cy="217.4" r="0.45" fill="#111" opacity="0.3"/>
<circle cx="100.1" cy="222.7" r="0.45" fill="#111" opacity="0.3"/>
<circle cx="117.4" cy="219.6" r="0.45" fill="#111" opacity="0.3"/>
<circle cx="96.3" cy="219.2" r="0.45" fill="#111" opacity="0.3"/>
<circle cx="92.9" cy="221.1" r="0.45" fill="#111" opacity="0.3"/>
<circle cx="108.6" cy="210.2" r="0.45" fill="#111" opacity="0.3"/>
<circle cx="94.7" cy="219.8" r="0.45" fill="#111" opacity="0.3"/>
<circle cx="109.1" cy="211.3" r="0.45" fill="#111" opacity="0.3"/>
<circle cx="103.3" cy="207.2" r="0.45" fill="#111" opacity="0.3"/>
<circle cx="100.4" cy="217.6" r="0.45" fill="#111" opacity="0.3"/>
<circle cx="106.0" cy="220.7" r="0.45" fill="#111" opacity="0.3"/>
<circle cx="97.6" cy="210.2" r="0.45" fill="#111" opacity="0.3"/>
<circle cx="107.9" cy="212.4" r="0.45" fill="#111" opacity="0.3"/>
<circle cx="106.9" cy="217.4" r="0.45" fill="#111" opacity="0.3"/>
<circle cx="108.9" cy="219.2" r="0.45" fill="#111" opacity="0.3"/>
<circle cx="113.8" cy="206.5" r="0.45" fill="#111" opacity="0.3"/>
<circle cx="104.6" cy="222.7" r="0.45" fill="#111" opacity="0.3"/>
<circle cx="102.4" cy="219.8" r="0.45" fill="#111" opacity="0.3"/>
<circle cx="104.6" cy="214.2" r="0.45" fill="#111" opacity="0.3"/>
<circle cx="115.3" cy="215.5" r="0.45" fill="#111" opacity="0.3"/>
<circle cx="103.4" cy="219.2" r="0.45" fill="#111" opacity="0.3"/>
<circle cx="96.5" cy="216.0" r="0.45" fill="#111" opacity="0.3"/>
<circle cx="110.9" cy="213.6" r="0.45" fill="#111" opacity="0.3"/>
<circle cx="98.1" cy="219.5" r="0.45" fill="#111" opacity="0.3"/>
<circle cx="107.1" cy="219.2" r="0.45" fill="#111" opacity="0.3"/>
<circle cx="111.2" cy="212.3" r="0.45" fill="#111" opacity="0.3"/>
<circle cx="101.9" cy="216.1" r="0.45" fill="#111" opacity="0.3"/>
<circle cx="103.5" cy="221.2" r="0.45" fill="#111" opacity="0.3"/>
<circle cx="115.3" cy="216.6" r="0.45" fill="#111" opacity="0.3"/>
<circle cx="107.5" cy="213.8" r="0.45" fill="#111" opacity="0.3"/>
<circle cx="110.9" cy="212.2" r="0.45" fill="#111" opacity="0.3"/>
<circle cx="106.5" cy="209.1" r="0.45" fill="#111" opacity="0.3"/>
<circle cx="102.2" cy="221.5" r="0.45" fill="#111" opacity="0.3"/>
<circle cx="98.3" cy="212.6" r="0.45" fill="#111" opacity="0.3"/>
<circle cx="103.9" cy="221.7" r="0.45" fill="#111" opacity="0.3"/>
<circle cx="114.4" cy="210.9" r="0.45" fill="#111" opacity="0.3"/>
<circle cx="101.9" cy="216.2" r="0.45" fill="#111" opacity="0.3"/>
<circle cx="98.9" cy="217.8" r="0.45" fill="#111" opacity="0.3"/>
<circle cx="103.0" cy="211.0" r="0.45" fill="#111" opacity="0.3"/>
<circle cx="101.2" cy="215.9" r="0.45" fill="#111" opacity="0.3"/>
<circle cx="99.4" cy="213.6" r="0.45" fill="#111" opacity="0.3"/>
<circle cx="110.9" cy="220.1" r="0.45" fill="#111" opacity="0.3"/>
<circle cx="103.1" cy="214.7" r="0.45" fill="#111" opacity="0.3"/>
<circle cx="108.3" cy="213.5" r="0.45" fill="#111" opacity="0.3"/>
<circle cx="99.9" cy="222.2" r="0.45" fill="#111" opacity="0.3"/>
<circle cx="98.2" cy="215.3" r="0.45" fill="#111" opacity="0.3"/>
<circle cx="100.7" cy="213.9" r="0.45" fill="#111" opacity="0.3"/>
<circle cx="103.5" cy="218.1" r="0.45" fill="#111" opacity="0.3"/>
<circle cx="114.4" cy="214.5" r="0.45" fill="#111" opacity="0.3"/>
<circle cx="105.2" cy="211.0" r="0.45" fill="#111" opacity="0.3"/>
<circle cx="104.6" cy="212.3" r="0.45" fill="#111" opacity="0.3"/>
<circle cx="104.4" cy="219.2" r="0.45" fill="#111" opacity="0.3"/>
<circle cx="106.3" cy="214.3" r="0.45" fill="#111" opacity="0.3"/>
<circle cx="100.1" cy="217.2" r="0.45" fill="#111" opacity="0.3"/>
<circle cx="105.7" cy="212.0" r="0.45" fill="#111" opacity="0.3"/>
<circle cx="101.7" cy="219.8" r="0.45" fill="#111" opacity="0.3"/>
<circle cx="94.2" cy="217.8" r="0.45" fill="#111" opacity="0.3"/>
<circle cx="97.4" cy="223.6" r="0.45" fill="#111" opacity="0.3"/>
<circle cx="108.9" cy="215.9" r="0.45" fill="#111" opacity="0.3"/>
<circle cx="107.6" cy="215.6" r="0.45" fill="#111" opacity="0.3"/>
<circle cx="106.9" cy="209.3" r="0.45" fill="#111" opacity="0.3"/>
<circle cx="106.7" cy="217.0" r="0.45" fill="#111" opacity="0.3"/>
<circle cx="95.7" cy="221.7" r="0.45" fill="#111" opacity="0.3"/>
<circle cx="109.3" cy="208.6" r="0.45" fill="#111" opacity="0.3"/>
<circle cx="101.9" cy="215.5" r="0.45" fill="#111" opacity="0.3"/>
<circle cx="101.6" cy="218.1" r="0.45" fill="#111" opacity="0.3"/>
<circle cx="96.7" cy="217.7" r="0.45" fill="#111" opacity="0.3"/>
<circle cx="106.5" cy="217.5" r="0.45" fill="#111" opacity="0.3"/>
<circle cx="105.3" cy="214.5" r="0.45" fill="#111" opacity="0.3"/>
<circle cx="109.5" cy="206.9" r="0.45" fill="#111" opacity="0.3"/>
<circle cx="111.1" cy="212.3" r="0.45" fill="#111" opacity="0.3"/>
<circle cx="96.9" cy="216.9" r="0.45" fill="#111" opacity="0.3"/>
<circle cx="93.1" cy="212.6" r="0.45" fill="#111" opacity="0.3"/>
<circle cx="102.9" cy="213.5" r="0.45" fill="#111" opacity="0.3"/>
<circle cx="109.8" cy="210.7" r="0.45" fill="#111" opacity="0.3"/>
<circle cx="96.6" cy="215.1" r="0.45" fill="#111" opacity="0.3"/>
<circle cx="116.2" cy="211.6" r="0.45" fill="#111" opacity="0.3"/>
<circle cx="101.0" cy="213.4" r="0.45" fill="#111" opacity="0.3"/>
<circle cx="97.9" cy="217.5" r="0.45" fill="#111" opacity="0.3"/>
<circle cx="107.8" cy="218.6" r="0.45" fill="#111" opacity="0.3"/>
<circle cx="112.5" cy="213.8" r="0.45" fill="#111" opacity="0.3"/>
<circle cx="100.7" cy="214.0" r="0.45" fill="#111" opacity="0.3"/>
<circle cx="90.0" cy="217.3" r="0.45" fill="#111" opacity="0.3"/>
<circle cx="107.7" cy="213.3" r="0.45" fill="#111" opacity="0.3"/>
<circle cx="107.4" cy="209.9" r="0.45" fill="#111" opacity="0.3"/>
<circle cx="110.8" cy="214.5" r="0.45" fill="#111" opacity="0.3"/>
<circle cx="105.3" cy="216.8" r="0.45" fill="#111" opacity="0.3"/>
<circle cx="90.5" cy="218.7" r="0.45" fill="#111" opacity="0.3"/>
<circle cx="99.2" cy="223.9" r="0.45" fill="#111" opacity="0.3"/>
<circle cx="103.8" cy="214.2" r="0.45" fill="#111" opacity="0.3"/>
<circle cx="110.5" cy="209.8" r="0.45" fill="#111" opacity="0.3"/>
<circle cx="114.2" cy="209.7" r="0.45" fill="#111" opacity="0.3"/>
<circle cx="104.6" cy="212.4" r="0.45" fill="#111" opacity="0.3"/>
<circle cx="110.3" cy="206.0" r="0.45" fill="#111" opacity="0.3"/>
<circle cx="109.5" cy="211.0" r="0.45" fill="#111" opacity="0.3"/>
<circle cx="105.3" cy="211.3" r="0.45" fill="#111" opacity="0.3"/>
<circle cx="106.5" cy="215.6" r="0.45" fill="#111" opacity="0.3"/>
<circle cx="108.8" cy="215.2" r="0.45" fill="#111" opacity="0.3"/>
<circle cx="109.1" cy="217.5" r="0.45" fill="#111" opacity="0.3"/>
<circle cx="102.5" cy="212.3" r="0.45" fill="#111" opacity="0.3"/>
<circle cx="96.7" cy="220.8" r="0.45" fill="#111" opacity="0.3"/>
<circle cx="102.6" cy="220.1" r="0.45" fill="#111" opacity="0.3"/>
<circle cx="105.3" cy="211.8" r="0.45" fill="#111" opacity="0.3"/>
<circle cx="110.9" cy="220.2" r="0.45" fill="#111" opacity="0.3"/>
<circle cx="103.8" cy="212.6" r="0.45" fill="#111" opacity="0.3"/>
<circle cx="99.5" cy="220.6" r="0.45" fill="#111" opacity="0.3"/>
<circle cx="101.2" cy="215.4" r="0.45" fill="#111" opacity="0.3"/>
<circle cx="109.5" cy="214.0" r="0.45" fill="#111" opacity="0.3"/>
<circle cx="105.7" cy="213.3" r="0.45" fill="#111" opacity="0.3"/>
<circle cx="100.8" cy="217.6" r="0.45" fill="#111" opacity="0.3"/>
<circle cx="106.0" cy="217.2" r="0.45" fill="#111" opacity="0.3"/>
<circle cx="101.8" cy="217.9" r="0.45" fill="#111" opacity="0.3"/>
<circle cx="108.1" cy="214.7" r="0.45" fill="#111" opacity="0.3"/>
<circle cx="108.7" cy="217.7" r="0.45" fill="#111" opacity="0.3"/>
<circle cx="106.3" cy="215.3" r="0.45" fill="#111" opacity="0.3"/>
<circle cx="98.7" cy="218.9" r="0.45" fill="#111" opacity="0.3"/>
<circle cx="104.4" cy="214.6" r="0.45" fill="#111" opacity="0.3"/>
<circle cx="99.6" cy="219.4" r="0.45" fill="#111" opacity="0.3"/>
<circle cx="121.6" cy="211.1" r="0.45" fill="#111" opacity="0.3"/>
<circle cx="105.6" cy="216.8" r="0.45" fill="#111" opacity="0.3"/>
<circle cx="101.1" cy="217.2" r="0.45" fill="#111" opacity="0.3"/>
<circle cx="100.7" cy="214.8" r="0.45" fill="#111" opacity="0.3"/>
<circle cx="106.5" cy="215.8" r="0.45" fill="#111" opacity="0.3"/>
<circle cx="104.3" cy="213.0" r="0.45" fill="#111" opacity="0.3"/>
<circle cx="106.7" cy="211.1" r="0.45" fill="#111" opacity="0.3"/>
<circle cx="110.0" cy="212.5" r="0.45" fill="#111" opacity="0.3"/>
<circle cx="105.0" cy="218.3" r="0.45" fill="#111" opacity="0.3"/>
<circle cx="108.6" cy="209.7" r="0.45" fill="#111" opacity="0.3"/>
<circle cx="103.4" cy="217.4" r="0.45" fill="#111" opacity="0.3"/>
<circle cx="97.9" cy="209.6" r="0.45" fill="#111" opacity="0.3"/>
<circle cx="104.5" cy="215.5" r="0.45" fill="#111" opacity="0.3"/>
<circle cx="107.8" cy="214.8" r="0.45" fill="#111" opacity="0.3"/>
<circle cx="105.9" cy="216.0" r="0.45" fill="#111" opacity="0.3"/>
<circle cx="113.9" cy="214.0" r="0.45" fill="#111" opacity="0.3"/>
<circle cx="108.5" cy="212.9" r="0.45" fill="#111" opacity="0.3"/>
<circle cx="112.3" cy="212.3" r="0.45" fill="#111" opacity="0.3"/>
<circle cx="109.8" cy="206.4" r="0.45" fill="#111" opacity="0.3"/>
<circle cx="106.6" cy="214.6" r="0.45" fill="#111" opacity="0.3"/>
<circle cx="102.0" cy="221.1" r="0.45" fill="#111" opacity="0.3"/>
<circle cx="107.6" cy="214.1" r="0.45" fill="#111" opacity="0.3"/>
<circle cx="101.6" cy="223.3" r="0.45" fill="#111" opacity="0.3"/>
<circle cx="109.9" cy="216.1" r="0.45" fill="#111" opacity="0.3"/>
<circle cx="100.0" cy="221.8" r="0.45" fill="#111" opacity="0.3"/>
<circle cx="108.6" cy="213.3" r="0.45" fill="#111" opacity="0.3"/>
<circle cx="104.3" cy="210.0" r="0.45" fill="#111" opacity="0.3"/>
<circle cx="109.2" cy="210.2" r="0.45" fill="#111" opacity="0.3"/>
<circle cx="110.5" cy="212.0" r="0.45" fill="#111" opacity="0.3"/>
<circle cx="101.0" cy="218.2" r="0.45" fill="#111" opacity="0.3"/>
<circle cx="106.4" cy="211.1" r="0.45" fill="#111" opacity="0.3"/>
<circle cx="104.5" cy="217.8" r="0.45" fill="#111" opacity="0.3"/>
<circle cx="103.4" cy="211.4" r="0.45" fill="#111" opacity="0.3"/>
<circle cx="103.4" cy="212.7" r="0.45" fill="#111" opacity="0.3"/>
<circle cx="101.3" cy="217.0" r="0.45" fill="#111" opacity="0.3"/>
<circle cx="104.7" cy="214.9" r="0.45" fill="#111" opacity="0.3"/>
<circle cx="94.3" cy="220.5" r="0.45" fill="#111" opacity="0.3"/>
<circle cx="103.7" cy="214.5" r="0.45" fill="#111" opacity="0.3"/>
<circle cx="106.0" cy="221.9" r="0.45" fill="#111" opacity="0.3"/>
<circle cx="96.6" cy="212.9" r="0.45" fill="#111" opacity="0.3"/>
<circle cx="109.9" cy="211.0" r="0.45" fill="#111" opacity="0.3"/>
<circle cx="113.4" cy="209.1" r="0.45" fill="#111" opacity="0.3"/>
<circle cx="101.9" cy="219.5" r="0.45" fill="#111" opacity="0.3"/>
<circle cx="110.9" cy="215.0" r="0.45" fill="#111" opacity="0.3"/>
<circle cx="107.9" cy="214.0" r="0.45" fill="#111" opacity="0.3"/>
<circle cx="102.1" cy="215.8" r="0.45" fill="#111" opacity="0.3"/>
<circle cx="113.2" cy="215.0" r="0.45" fill="#111" opacity="0.3"/>
<circle cx="105.1" cy="216.6" r="0.45" fill="#111" opacity="0.3"/>
<circle cx="110.4" cy="217.7" r="0.45" fill="#111" opacity="0.3"/>
<circle cx="104.1" cy="215.5" r="0.45" fill="#111" opacity="0.3"/>
<circle cx="107.1" cy="223.8" r="0.45" fill="#111" opacity="0.3"/>
<circle cx="106.6" cy="219.4" r="0.45" fill="#111" opacity="0.3"/>
<circle cx="95.1" cy="222.0" r="0.45" fill="#111" opacity="0.3"/>
<circle cx="95.9" cy="215.0" r="0.45" fill="#111" opacity="0.3"/>
<circle cx="100.9" cy="216.5" r="0.45" fill="#111" opacity="0.3"/>
<circle cx="106.2" cy="216.4" r="0.45" fill="#111" opacity="0.3"/>
<circle cx="106.5" cy="213.5" r="0.45" fill="#111" opacity="0.3"/>
<circle cx="121.7" cy="210.9" r="0.45" fill="#111" opacity="0.3"/>
<circle cx="109.3" cy="221.0" r="0.45" fill="#111" opacity="0.3"/>
<circle cx="111.2" cy="215.3" r="0.45" fill="#111" opacity="0.3"/>
<circle cx="107.1" cy="221.3" r="0.45" fill="#111" opacity="0.3"/>
<circle cx="98.0" cy="214.6" r="0.45" fill="#111" opacity="0.3"/>
<circle cx="105.9" cy="208.1" r="0.45" fill="#111" opacity="0.3"/>
<circle cx="100.0" cy="221.2" r="0.45" fill="#111" opacity="0.3"/>
<circle cx="102.0" cy="217.1" r="0.45" fill="#111" opacity="0.3"/>
<circle cx="109.5" cy="209.9" r="0.45" fill="#111" opacity="0.3"/>
<circle cx="106.7" cy="212.7" r="0.45" fill="#111" opacity="0.3"/>
<circle cx="98.0" cy="217.0" r="0.45" fill="#111" opacity="0.3"/>
<circle cx="104.6" cy="214.2" r="0.45" fill="#111" opacity="0.3"/>
<circle cx="100.7" cy="220.3" r="0.45" fill="#111" opacity="0.3"/>
<circle cx="112.4" cy="214.8" r="0.45" fill="#111" opacity="0.3"/>
<circle cx="104.4" cy="212.1" r="0.45" fill="#111" opacity="0.3"/>
<circle cx="99.7" cy="213.5" r="0.45" fill="#111" opacity="0.3"/>
<circle cx="106.3" cy="218.2" r="0.45" fill="#111" opacity="0.3"/>
<circle cx="110.9" cy="213.3" r="0.45" fill="#111" opacity="0.3"/>
<circle cx="102.5" cy="217.0" r="0.45" fill="#111" opacity="0.3"/>
<circle cx="105.8" cy="217.3" r="0.45" fill="#111" opacity="0.3"/>
<circle cx="114.5" cy="209.8" r="0.45" fill="#111" opacity="0.3"/>
<circle cx="118.5" cy="203.4" r="0.45" fill="#111" opacity="0.3"/>
<circle cx="93.5" cy="214.3" r="0.45" fill="#111" opacity="0.3"/>
<circle cx="98.4" cy="217.0" r="0.45" fill="#111" opacity="0.3"/>
<circle cx="118.3" cy="208.3" r="0.45" fill="#111" opacity="0.3"/>
<circle cx="112.1" cy="211.7" r="0.45" fill="#111" opacity="0.3"/>
<circle cx="106.0" cy="211.6" r="0.45" fill="#111" opacity="0.3"/>
<circle cx="119.6" cy="210.2" r="0.45" fill="#111" opacity="0.3"/>
<circle cx="101.0" cy="224.8" r="0.45" fill="#111" opacity="0.3"/>
<circle cx="106.2" cy="216.5" r="0.45" fill="#111" opacity="0.3"/>
<circle cx="104.1" cy="212.9" r="0.45" fill="#111" opacity="0.3"/>
<circle cx="95.8" cy="218.2" r="0.45" fill="#111" opacity="0.3"/>
<circle cx="115.4" cy="213.3" r="0.45" fill="#111" opacity="0.3"/>
<circle cx="103.9" cy="219.6" r="0.45" fill="#111" opacity="0.3"/>
<circle cx="99.0" cy="222.4" r="0.45" fill="#111" opacity="0.3"/>
<circle cx="104.9" cy="212.7" r="0.45" fill="#111" opacity="0.3"/>
<circle cx="109.4" cy="215.7" r="0.45" fill="#111" opacity="0.3"/>
<circle cx="102.8" cy="217.0" r="0.45" fill="#111" opacity="0.3"/>
<circle cx="111.3" cy="218.1" r="0.45" fill="#111" opacity="0.3"/>
<circle cx="99.5" cy="208.3" r="0.45" fill="#111" opacity="0.3"/>
<circle cx="118.2" cy="209.9" r="0.45" fill="#111" opacity="0.3"/>
<circle cx="102.3" cy="217.9" r="0.45" fill="#111" opacity="0.3"/>
<circle cx="102.2" cy="220.1" r="0.45" fill="#111" opacity="0.3"/>
<circle cx="97.0" cy="217.6" r="0.45" fill="#111" opacity="0.3"/>
<circle cx="96.9" cy="223.7" r="0.45" fill="#111" opacity="0.3"/>
<circle cx="103.4" cy="219.9" r="0.45" fill="#111" opacity="0.3"/>
<circle cx="113.9" cy="208.2" r="0.45" fill="#111" opacity="0.3"/>
<circle cx="103.6" cy="218.5" r="0.45" fill="#111" opacity="0.3"/>
<circle cx="105.3" cy="214.9" r="0.45" fill="#111" opacity="0.3"/>
<circle cx="110.4" cy="216.7" r="0.45" fill="#111" opacity="0.3"/>
<circle cx="101.2" cy="216.4" r="0.45" fill="#111" opacity="0.3"/>
<circle cx="109.2" cy="214.8" r="0.45" fill="#111" opacity="0.3"/>
<circle cx="105.9" cy="211.3" r="0.45" fill="#111" opacity="0.3"/>
<circle cx="116.3" cy="210.7" r="0.45" fill="#111" opacity="0.3"/>
<circle cx="106.7" cy="214.8" r="0.45" fill="#111" opacity="0.3"/>
<circle cx="105.4" cy="215.9" r="0.45" fill="#111" opacity="0.3"/>
<circle cx="99.6" cy="218.7" r="0.45" fill="#111" opacity="0.3"/>
<circle cx="112.7" cy="214.1" r="0.45" fill="#111" opacity="0.3"/>
<circle cx="109.7" cy="215.5" r="0.45" fill="#111" opacity="0.3"/>
<circle cx="105.2" cy="221.7" r="0.45" fill="#111" opacity="0.3"/>
<circle cx="100.6" cy="218.4" r="0.45" fill="#111" opacity="0.3"/>
<circle cx="111.6" cy="214.2" r="0.45" fill="#111" opacity="0.3"/>
<circle cx="98.2" cy="214.1" r="0.45" fill="#111" opacity="0.3"/>
<circle cx="115.1" cy="208.6" r="0.45" fill="#111" opacity="0.3"/>
<circle cx="105.1" cy="217.4" r="0.45" fill="#111" opacity="0.3"/>
<circle cx="105.6" cy="209.1" r="0.45" fill="#111" opacity="0.3"/>
<circle cx="92.8" cy="219.5" r="0.45" fill="#111" opacity="0.3"/>
<circle cx="100.0" cy="216.4" r="0.45" fill="#111" opacity="0.3"/>
<circle cx="105.6" cy="215.9" r="0.45" fill="#111" opacity="0.3"/>
<circle cx="96.4" cy="212.7" r="0.45" fill="#111" opacity="0.3"/>
<circle cx="111.1" cy="211.2" r="0.45" fill="#111" opacity="0.3"/>
<circle cx="97.4" cy="211.2" r="0.45" fill="#111" opacity="0.3"/>
<circle cx="108.5" cy="209.9" r="0.45" fill="#111" opacity="0.3"/>
<circle cx="98.3" cy="220.1" r="0.45" fill="#111" opacity="0.3"/>
<circle cx="107.0" cy="216.8" r="0.45" fill="#111" opacity="0.3"/>
<circle cx="96.8" cy="208.4" r="0.45" fill="#111" opacity="0.3"/>
<circle cx="98.6" cy="216.7" r="0.45" fill="#111" opacity="0.3"/>
<circle cx="100.7" cy="220.1" r="0.45" fill="#111" opacity="0.3"/>
<circle cx="107.3" cy="211.0" r="0.45" fill="#111" opacity="0.3"/>
<circle cx="108.7" cy="213.7" r="0.45" fill="#111" opacity="0.3"/>
<circle cx="101.9" cy="220.5" r="0.45" fill="#111" opacity="0.3"/>
<circle cx="94.2" cy="222.9" r="0.45" fill="#111" opacity="0.3"/>
<circle cx="112.0" cy="205.8" r="0.45" fill="#111" opacity="0.3"/>
<circle cx="103.8" cy="215.4" r="0.45" fill="#111" opacity="0.3"/>
<circle cx="97.7" cy="216.1" r="0.45" fill="#111" opacity="0.3"/>
<circle cx="99.7" cy="217.6" r="0.45" fill="#111" opacity="0.3"/>
<circle cx="101.4" cy="209.3" r="0.45" fill="#111" opacity="0.3"/>
<circle cx="112.7" cy="215.9" r="0.45" fill="#111" opacity="0.3"/>
<circle cx="99.6" cy="220.5" r="0.45" fill="#111" opacity="0.3"/>
<circle cx="118.1" cy="205.4" r="0.45" fill="#111" opacity="0.3"/>
<circle cx="102.3" cy="214.6" r="0.45" fill="#111" opacity="0.3"/>
<circle cx="108.6" cy="213.2" r="0.45" fill="#111" opacity="0.3"/>
<circle cx="95.9" cy="223.1" r="0.45" fill="#111" opacity="0.3"/>
<circle cx="102.9" cy="218.8" r="0.45" fill="#111" opacity="0.3"/>
<circle cx="119.8" cy="207.6" r="0.45" fill="#111" opacity="0.3"/>
<circle cx="102.3" cy="219.6" r="0.45" fill="#111" opacity="0.3"/>
<circle cx="104.3" cy="217.6" r="0.45" fill="#111" opacity="0.3"/>
<circle cx="105.0" cy="225.3" r="0.45" fill="#111" opacity="0.3"/>
<circle cx="109.1" cy="215.2" r="0.45" fill="#111" opacity="0.3"/>
<circle cx="105.8" cy="216.6" r="0.45" fill="#111" opacity="0.3"/>
<circle cx="94.4" cy="218.3" r="0.45" fill="#111" opacity="0.3"/>
<circle cx="109.8" cy="209.6" r="0.45" fill="#111" opacity="0.3"/>
<circle cx="105.3" cy="215.1" r="0.45" fill="#111" opacity="0.3"/>
<circle cx="101.7" cy="225.4" r="0.45" fill="#111" opacity="0.3"/>
<circle cx="109.7" cy="215.0" r="0.45" fill="#111" opacity="0.3"/>
<circle cx="99.9" cy="217.6" r="0.45" fill="#111" opacity="0.3"/>
<circle cx="103.1" cy="215.9" r="0.45" fill="#111" opacity="0.3"/>
<circle cx="106.4" cy="223.8" r="0.45" fill="#111" opacity="0.3"/>
<circle cx="113.7" cy="218.4" r="0.45" fill="#111" opacity="0.3"/>
<circle cx="113.9" cy="222.2" r="0.45" fill="#111" opacity="0.3"/>
<circle cx="100.7" cy="212.5" r="0.45" fill="#111" opacity="0.3"/>
<circle cx="106.4" cy="215.9" r="0.45" fill="#111" opacity="0.3"/>
<circle cx="105.2" cy="213.2" r="0.45" fill="#111" opacity="0.3"/>
<circle cx="109.5" cy="220.0" r="0.45" fill="#111" opacity="0.3"/>
<circle cx="106.5" cy="214.2" r="0.45" fill="#111" opacity="0.3"/>
<circle cx="112.8" cy="211.7" r="0.45" fill="#111" opacity="0.3"/>
<circle cx="102.7" cy="217.4" r="0.45" fill="#111" opacity="0.3"/>
<circle cx="104.3" cy="217.6" r="0.45" fill="#111" opacity="0.3"/>
<circle cx="107.1" cy="216.2" r="0.45" fill="#111" opacity="0.3"/>
<circle cx="96.3" cy="224.8" r="0.45" fill="#111" opacity="0.3"/>
<circle cx="108.8" cy="215.2" r="0.45" fill="#111" opacity="0.3"/>
<circle cx="125.5" cy="203.8" r="0.45" fill="#111" opacity="0.3"/>
<circle cx="109.8" cy="213.4" r="0.45" fill="#111" opacity="0.3"/>
<circle cx="95.3" cy="225.8" r="0.45" fill="#111" opacity="0.3"/>
<circle cx="94.9" cy="219.6" r="0.45" fill="#111" opacity="0.3"/>
<circle cx="104.5" cy="216.4" r="0.45" fill="#111" opacity="0.3"/>
<circle cx="98.9" cy="222.5" r="0.45" fill="#111" opacity="0.3"/>
<circle cx="106.7" cy="210.4" r="0.45" fill="#111" opacity="0.3"/>
<circle cx="97.1" cy="219.3" r="0.45" fill="#111" opacity="0.3"/>
<circle cx="97.5" cy="219.7" r="0.45" fill="#111" opacity="0.3"/>
<circle cx="107.2" cy="212.7" r="0.45" fill="#111" opacity="0.3"/>
<circle cx="92.5" cy="215.4" r="0.45" fill="#111" opacity="0.3"/>
<circle cx="107.4" cy="212.9" r="0.45" fill="#111" opacity="0.3"/>
<circle cx="117.1" cy="209.7" r="0.45" fill="#111" opacity="0.3"/>
<circle cx="107.5" cy="217.0" r="0.45" fill="#111" opacity="0.3"/>
<circle cx="105.6" cy="216.4" r="0.45" fill="#111" opacity="0.3"/>
<circle cx="111.6" cy="212.7" r="0.45" fill="#111" opacity="0.3"/>
<circle cx="107.2" cy="213.5" r="0.45" fill="#111" opacity="0.3"/>
<circle cx="118.1" cy="211.5" r="0.45" fill="#111" opacity="0.3"/>
<circle cx="110.5" cy="203.1" r="0.45" fill="#111" opacity="0.3"/>
<circle cx="101.9" cy="212.7" r="0.45" fill="#111" opacity="0.3"/>
<circle cx="105.3" cy="213.9" r="0.45" fill="#111" opacity="0.3"/>
<circle cx="98.2" cy="217.0" r="0.45" fill="#111" opacity="0.3"/>
<circle cx="110.3" cy="217.4" r="0.45" fill="#111" opacity="0.3"/>
<circle cx="101.6" cy="220.5" r="0.45" fill="#111" opacity="0.3"/>
<circle cx="101.0" cy="219.1" r="0.45" fill="#111" opacity="0.3"/>
<circle cx="99.5" cy="221.2" r="0.45" fill="#111" opacity="0.3"/>
<circle cx="120.1" cy="209.1" r="0.45" fill="#111" opacity="0.3"/>
<circle cx="113.0" cy="207.6" r="0.45" fill="#111" opacity="0.3"/>
<circle cx="104.6" cy="217.4" r="0.45" fill="#111" opacity="0.3"/>
<circle cx="94.4" cy="219.2" r="0.45" fill="#111" opacity="0.3"/>
<circle cx="99.9" cy="221.5" r="0.45" fill="#111" opacity="0.3"/>
<circle cx="101.6" cy="225.7" r="0.45" fill="#111" opacity="0.3"/>
<circle cx="97.9" cy="219.2" r="0.45" fill="#111" opacity="0.3"/>
<circle cx="102.4" cy="214.5" r="0.45" fill="#111" opacity="0.45"/>
<circle cx="111.4" cy="212.2" r="0.45" fill="#111" opacity="0.45"/>
<circle cx="104.4" cy="215.6" r="0.45" fill="#111" opacity="0.45"/>
<circle cx="110.7" cy="213.6" r="0.45" fill="#111" opacity="0.45"/>
<circle cx="110.8" cy="209.8" r="0.45" fill="#111" opacity="0.45"/>
<circle cx="113.1" cy="213.3" r="0.45" fill="#111" opacity="0.45"/>
<circle cx="102.1" cy="219.1" r="0.45" fill="#111" opacity="0.45"/>
<circle cx="106.7" cy="215.0" r="0.45" fill="#111" opacity="0.45"/>
<circle cx="102.5" cy="214.0" r="0.45" fill="#111" opacity="0.45"/>
<circle cx="102.9" cy="216.8" r="0.45" fill="#111" opacity="0.45"/>
<circle cx="107.4" cy="211.8" r="0.45" fill="#111" opacity="0.45"/>
<circle cx="107.0" cy="216.1" r="0.45" fill="#111" opacity="0.45"/>
<circle cx="105.8" cy="215.3" r="0.45" fill="#111" opacity="0.45"/>
<circle cx="104.7" cy="211.2" r="0.45" fill="#111" opacity="0.45"/>
<circle cx="106.6" cy="213.4" r="0.45" fill="#111" opacity="0.45"/>
<circle cx="108.5" cy="215.2" r="0.45" fill="#111" opacity="0.45"/>
<circle cx="106.8" cy="213.1" r="0.45" fill="#111" opacity="0.45"/>
<circle cx="110.1" cy="213.7" r="0.45" fill="#111" opacity="0.45"/>
<circle cx="107.9" cy="214.0" r="0.45" fill="#111" opacity="0.45"/>
<circle cx="101.9" cy="214.3" r="0.45" fill="#111" opacity="0.45"/>
<circle cx="103.5" cy="214.2" r="0.45" fill="#111" opacity="0.45"/>
<circle cx="110.5" cy="209.3" r="0.45" fill="#111" opacity="0.45"/>
<circle cx="110.6" cy="211.6" r="0.45" fill="#111" opacity="0.45"/>
<circle cx="107.4" cy="212.8" r="0.45" fill="#111" opacity="0.45"/>
<circle cx="110.0" cy="211.5" r="0.45" fill="#111" opacity="0.45"/>
<circle cx="102.2" cy="216.0" r="0.45" fill="#111" opacity="0.45"/>
<circle cx="107.6" cy="214.9" r="0.45" fill="#111" opacity="0.45"/>
<circle cx="109.7" cy="210.5" r="0.45" fill="#111" opacity="0.45"/>
<circle cx="108.6" cy="213.6" r="0.45" fill="#111" opacity="0.45"/>
<circle cx="107.8" cy="213.8" r="0.45" fill="#111" opacity="0.45"/>
<circle cx="108.9" cy="212.1" r="0.45" fill="#111" opacity="0.45"/>
<circle cx="107.6" cy="215.6" r="0.45" fill="#111" opacity="0.45"/>
<circle cx="105.0" cy="214.3" r="0.45" fill="#111" opacity="0.45"/>
<circle cx="105.2" cy="212.3" r="0.45" fill="#111" opacity="0.45"/>
<circle cx="106.8" cy="214.2" r="0.45" fill="#111" opacity="0.45"/>
<circle cx="112.3" cy="211.8" r="0.45" fill="#111" opacity="0.45"/>
<circle cx="110.6" cy="213.8" r="0.45" fill="#111" opacity="0.45"/>
<circle cx="108.2" cy="207.2" r="0.45" fill="#111" opacity="0.45"/>
<circle cx="108.4" cy="213.5" r="0.45" fill="#111" opacity="0.45"/>
<circle cx="105.1" cy="214.7" r="0.45" fill="#111" opacity="0.45"/>
<circle cx="112.1" cy="209.9" r="0.45" fill="#111" opacity="0.45"/>
<circle cx="106.6" cy="215.8" r="0.45" fill="#111" opacity="0.45"/>
<circle cx="103.0" cy="213.0" r="0.45" fill="#111" opacity="0.45"/>
<circle cx="108.8" cy="215.2" r="0.45" fill="#111" opacity="0.45"/>
<circle cx="111.4" cy="214.0" r="0.45" fill="#111" opacity="0.45"/>
<circle cx="114.5" cy="212.3" r="0.45" fill="#111" opacity="0.45"/>
<circle cx="104.4" cy="214.2" r="0.45" fill="#111" opacity="0.45"/>
<circle cx="109.8" cy="213.7" r="0.45" fill="#111" opacity="0.45"/>
<circle cx="102.6" cy="216.0" r="0.45" fill="#111" opacity="0.45"/>
<circle cx="105.8" cy="213.8" r="0.45" fill="#111" opacity="0.45"/>
<circle cx="112.1" cy="211.9" r="0.45" fill="#111" opacity="0.45"/>
<circle cx="106.1" cy="213.8" r="0.45" fill="#111" opacity="0.45"/>
<circle cx="106.2" cy="218.2" r="0.45" fill="#111" opacity="0.45"/>
<circle cx="110.3" cy="214.6" r="0.45" fill="#111" opacity="0.45"/>
<circle cx="106.1" cy="212.8" r="0.45" fill="#111" opacity="0.45"/>
<circle cx="108.7" cy="208.9" r="0.45" fill="#111" opacity="0.45"/>
<circle cx="110.9" cy="210.0" r="0.45" fill="#111" opacity="0.45"/>
<circle cx="108.3" cy="214.1" r="0.45" fill="#111" opacity="0.45"/>
<circle cx="105.8" cy="214.9" r="0.45" fill="#111" opacity="0.45"/>
<circle cx="110.0" cy="216.7" r="0.45" fill="#111" opacity="0.45"/>
<circle cx="109.1" cy="216.8" r="0.45" fill="#111" opacity="0.45"/>
<circle cx="109.3" cy="212.7" r="0.45" fill="#111" opacity="0.45"/>
<circle cx="110.4" cy="211.7" r="0.45" fill="#111" opacity="0.45"/>
<circle cx="108.4" cy="214.6" r="0.45" fill="#111" opacity="0.45"/>
<circle cx="111.2" cy="213.1" r="0.45" fill="#111" opacity="0.45"/>
<circle cx="103.9" cy="217.4" r="0.45" fill="#111" opacity="0.45"/>
<circle cx="108.5" cy="212.8" r="0.45" fill="#111" opacity="0.45"/>
<circle cx="105.7" cy="215.4" r="0.45" fill="#111" opacity="0.45"/>
<circle cx="108.9" cy="214.6" r="0.45" fill="#111" opacity="0.45"/>
<circle cx="107.6" cy="216.7" r="0.45" fill="#111" opacity="0.45"/>
<circle cx="107.3" cy="214.6" r="0.45" fill="#111" opacity="0.45"/>
<circle cx="108.6" cy="215.5" r="0.45" fill="#111" opacity="0.45"/>
<circle cx="106.1" cy="213.5" r="0.45" fill="#111" opacity="0.45"/>
<circle cx="107.4" cy="212.4" r="0.45" fill="#111" opacity="0.45"/>
<circle cx="106.2" cy="211.6" r="0.45" fill="#111" opacity="0.45"/>
<circle cx="110.1" cy="215.8" r="0.45" fill="#111" opacity="0.45"/>
<circle cx="105.3" cy="215.9" r="0.45" fill="#111" opacity="0.45"/>
<circle cx="104.8" cy="212.9" r="0.45" fill="#111" opacity="0.45"/>
<circle cx="107.1" cy="214.0" r="0.45" fill="#111" opacity="0.45"/>
<circle cx="109.3" cy="209.2" r="0.45" fill="#111" opacity="0.45"/>
<circle cx="104.3" cy="214.8" r="0.45" fill="#111" opacity="0.45"/>
<circle cx="107.3" cy="218.0" r="0.45" fill="#111" opacity="0.45"/>
<circle cx="107.2" cy="212.4" r="0.45" fill="#111" opacity="0.45"/>
<circle cx="111.4" cy="207.1" r="0.45" fill="#111" opacity="0.45"/>
<circle cx="102.8" cy="220.6" r="0.45" fill="#111" opacity="0.45"/>
<circle cx="106.3" cy="214.2" r="0.45" fill="#111" opacity="0.45"/>
<circle cx="107.5" cy="211.9" r="0.45" fill="#111" opacity="0.45"/>
<circle cx="107.6" cy="211.0" r="0.45" fill="#111" opacity="0.45"/>
<circle cx="110.7" cy="214.2" r="0.45" fill="#111" opacity="0.45"/>
<circle cx="109.9" cy="211.1" r="0.45" fill="#111" opacity="0.45"/>
<circle cx="102.6" cy="214.2" r="0.45" fill="#111" opacity="0.45"/>
<circle cx="104.9" cy="215.2" r="0.45" fill="#111" opacity="0.45"/>
<circle cx="103.5" cy="213.1" r="0.45" fill="#111" opacity="0.45"/>
<circle cx="108.4" cy="214.2" r="0.45" fill="#111" opacity="0.45"/>
<circle cx="108.2" cy="210.9" r="0.45" fill="#111" opacity="0.45"/>
<circle cx="106.1" cy="218.1" r="0.45" fill="#111" opacity="0.45"/>
<circle cx="110.6" cy="211.0" r="0.45" fill="#111" opacity="0.45"/>
<circle cx="113.3" cy="211.6" r="0.45" fill="#111" opacity="0.45"/>
<circle cx="108.0" cy="211.8" r="0.45" fill="#111" opacity="0.45"/>
<circle cx="112.2" cy="212.4" r="0.45" fill="#111" opacity="0.45"/>
<circle cx="107.8" cy="211.7" r="0.45" fill="#111" opacity="0.45"/>
<circle cx="104.4" cy="215.0" r="0.45" fill="#111" opacity="0.45"/>
<circle cx="108.0" cy="216.6" r="0.45" fill="#111" opacity="0.45"/>
<circle cx="105.4" cy="213.5" r="0.45" fill="#111" opacity="0.45"/>
<circle cx="110.7" cy="214.3" r="0.45" fill="#111" opacity="0.45"/>
<circle cx="106.1" cy="217.0" r="0.45" fill="#111" opacity="0.45"/>
<circle cx="109.3" cy="214.9" r="0.45" fill="#111" opacity="0.45"/>
<circle cx="109.0" cy="215.1" r="0.45" fill="#111" opacity="0.45"/>
<circle cx="106.8" cy="213.4" r="0.45" fill="#111" opacity="0.45"/>
<circle cx="111.0" cy="213.3" r="0.45" fill="#111" opacity="0.45"/>
<circle cx="109.0" cy="215.5" r="0.45" fill="#111" opacity="0.45"/>
<circle cx="108.6" cy="214.1" r="0.45" fill="#111" opacity="0.45"/>
<circle cx="101.8" cy="214.4" r="0.45" fill="#111" opacity="0.45"/>
<circle cx="110.3" cy="211.0" r="0.45" fill="#111" opacity="0.45"/>
<circle cx="107.2" cy="214.2" r="0.45" fill="#111" opacity="0.45"/>
<circle cx="107.6" cy="215.4" r="0.45" fill="#111" opacity="0.45"/>
<circle cx="109.3" cy="212.7" r="0.45" fill="#111" opacity="0.45"/>
<circle cx="111.0" cy="211.8" r="0.45" fill="#111" opacity="0.45"/>
<circle cx="106.0" cy="214.8" r="0.45" fill="#111" opacity="0.45"/>
<circle cx="109.7" cy="212.6" r="0.45" fill="#111" opacity="0.45"/>
<circle cx="105.0" cy="213.4" r="0.45" fill="#111" opacity="0.45"/>
<circle cx="108.6" cy="214.7" r="0.45" fill="#111" opacity="0.45"/>
<circle cx="112.9" cy="211.6" r="0.45" fill="#111" opacity="0.45"/>
<circle cx="107.4" cy="209.4" r="0.45" fill="#111" opacity="0.45"/>
<circle cx="111.6" cy="214.2" r="0.45" fill="#111" opacity="0.45"/>
<circle cx="108.0" cy="212.1" r="0.45" fill="#111" opacity="0.45"/>
<circle cx="100.7" cy="217.3" r="0.45" fill="#111" opacity="0.45"/>
<circle cx="105.8" cy="217.2" r="0.45" fill="#111" opacity="0.45"/>
<circle cx="110.1" cy="215.4" r="0.45" fill="#111" opacity="0.45"/>
<circle cx="107.6" cy="216.0" r="0.45" fill="#111" opacity="0.45"/>
<circle cx="104.1" cy="217.7" r="0.45" fill="#111" opacity="0.45"/>
<circle cx="107.9" cy="211.1" r="0.45" fill="#111" opacity="0.45"/>
<circle cx="106.9" cy="211.9" r="0.45" fill="#111" opacity="0.45"/>
<circle cx="108.7" cy="211.8" r="0.45" fill="#111" opacity="0.45"/>
<circle cx="104.4" cy="213.9" r="0.45" fill="#111" opacity="0.45"/>
<circle cx="107.3" cy="214.1" r="0.45" fill="#111" opacity="0.45"/>
<circle cx="109.9" cy="215.4" r="0.45" fill="#111" opacity="0.45"/>
<circle cx="109.1" cy="216.4" r="0.45" fill="#111" opacity="0.45"/>
<circle cx="101.1" cy="215.5" r="0.45" fill="#111" opacity="0.45"/>
<circle cx="110.6" cy="210.0" r="0.45" fill="#111" opacity="0.45"/>
<circle cx="107.4" cy="214.1" r="0.45" fill="#111" opacity="0.45"/>
<circle cx="103.7" cy="213.7" r="0.45" fill="#111" opacity="0.45"/>
<circle cx="109.7" cy="212.3" r="0.45" fill="#111" opacity="0.45"/>
<circle cx="112.3" cy="216.9" r="0.45" fill="#111" opacity="0.45"/>
<circle cx="107.8" cy="211.3" r="0.45" fill="#111" opacity="0.45"/>
<circle cx="107.9" cy="212.4" r="0.45" fill="#111" opacity="0.45"/>
<circle cx="104.0" cy="213.9" r="0.45" fill="#111" opacity="0.45"/>
<circle cx="106.7" cy="213.2" r="0.45" fill="#111" opacity="0.45"/>
<circle cx="110.6" cy="214.8" r="0.45" fill="#111" opacity="0.45"/>
<circle cx="109.1" cy="212.4" r="0.45" fill="#111" opacity="0.45"/>
<circle cx="109.2" cy="213.2" r="0.45" fill="#111" opacity="0.45"/>
<circle cx="108.6" cy="211.3" r="0.45" fill="#111" opacity="0.45"/>
<circle cx="99.4" cy="218.0" r="0.45" fill="#111" opacity="0.45"/>
<circle cx="106.3" cy="213.0" r="0.45" fill="#111" opacity="0.45"/>
<circle cx="107.9" cy="213.4" r="0.45" fill="#111" opacity="0.45"/>
<circle cx="107.1" cy="216.8" r="0.45" fill="#111" opacity="0.45"/>
<circle cx="108.3" cy="213.8" r="0.45" fill="#111" opacity="0.45"/>
<circle cx="105.5" cy="214.1" r="0.45" fill="#111" opacity="0.45"/>
<circle cx="109.3" cy="212.9" r="0.45" fill="#111" opacity="0.45"/>
<circle cx="108.9" cy="211.3" r="0.45" fill="#111" opacity="0.45"/>
<circle cx="109.0" cy="211.1" r="0.45" fill="#111" opacity="0.45"/>
<circle cx="106.8" cy="212.3" r="0.45" fill="#111" opacity="0.45"/>
<circle cx="108.5" cy="215.5" r="0.45" fill="#111" opacity="0.45"/>
<circle cx="108.8" cy="211.5" r="0.45" fill="#111" opacity="0.45"/>
<circle cx="108.4" cy="215.5" r="0.45" fill="#111" opacity="0.45"/>
<circle cx="110.0" cy="213.9" r="0.45" fill="#111" opacity="0.45"/>
<circle cx="104.8" cy="213.4" r="0.45" fill="#111" opacity="0.45"/>
<circle cx="106.1" cy="213.1" r="0.45" fill="#111" opacity="0.45"/>
<circle cx="108.6" cy="213.4" r="0.45" fill="#111" opacity="0.45"/>
<circle cx="107.0" cy="214.9" r="0.45" fill="#111" opacity="0.45"/>
<circle cx="106.0" cy="213.5" r="0.45" fill="#111" opacity="0.45"/>
<circle cx="108.3" cy="210.7" r="0.45" fill="#111" opacity="0.45"/>
<circle cx="105.6" cy="211.4" r="0.45" fill="#111" opacity="0.45"/>
<circle cx="105.1" cy="214.1" r="0.45" fill="#111" opacity="0.45"/>
<circle cx="107.6" cy="214.3" r="0.45" fill="#111" opacity="0.45"/>
<circle cx="108.9" cy="210.9" r="0.45" fill="#111" opacity="0.45"/>
<circle cx="113.2" cy="214.6" r="0.45" fill="#111" opacity="0.45"/>
<circle cx="104.6" cy="213.2" r="0.45" fill="#111" opacity="0.45"/>
<circle cx="106.7" cy="214.3" r="0.45" fill="#111" opacity="0.45"/>
<circle cx="109.7" cy="213.0" r="0.45" fill="#111" opacity="0.45"/>
<circle cx="100.9" cy="221.5" r="0.45" fill="#111" opacity="0.45"/>
<circle cx="110.4" cy="214.4" r="0.45" fill="#111" opacity="0.45"/>
<circle cx="105.9" cy="214.4" r="0.45" fill="#111" opacity="0.45"/>
<circle cx="110.6" cy="211.7" r="0.45" fill="#111" opacity="0.45"/>
<circle cx="111.2" cy="212.7" r="0.45" fill="#111" opacity="0.45"/>
<circle cx="112.4" cy="212.2" r="0.45" fill="#111" opacity="0.45"/>
<circle cx="112.1" cy="209.0" r="0.45" fill="#111" opacity="0.45"/>
<circle cx="112.0" cy="213.1" r="0.45" fill="#111" opacity="0.45"/>
<circle cx="106.9" cy="216.0" r="0.45" fill="#111" opacity="0.45"/>
<circle cx="107.3" cy="215.4" r="0.45" fill="#111" opacity="0.45"/>
<circle cx="110.6" cy="214.8" r="0.45" fill="#111" opacity="0.45"/>
<circle cx="114.1" cy="214.3" r="0.45" fill="#111" opacity="0.45"/>
<circle cx="114.9" cy="212.7" r="0.45" fill="#111" opacity="0.45"/>
<circle cx="108.4" cy="214.2" r="0.45" fill="#111" opacity="0.45"/>
<circle cx="107.9" cy="211.1" r="0.45" fill="#111" opacity="0.45"/>
<circle cx="108.4" cy="211.0" r="0.45" fill="#111" opacity="0.45"/>
<circle cx="107.2" cy="213.1" r="0.45" fill="#111" opacity="0.45"/>
<circle cx="106.5" cy="211.8" r="0.45" fill="#111" opacity="0.45"/>
<circle cx="108.3" cy="213.4" r="0.45" fill="#111" opacity="0.45"/>
<circle cx="111.8" cy="213.6" r="0.45" fill="#111" opacity="0.45"/>
<circle cx="100.7" cy="219.9" r="0.45" fill="#111" opacity="0.3"/>
<circle cx="94.4" cy="219.1" r="0.45" fill="#111" opacity="0.3"/>
<circle cx="91.7" cy="223.6" r="0.45" fill="#111" opacity="0.3"/>
<circle cx="95.0" cy="221.3" r="0.45" fill="#111" opacity="0.3"/>
<circle cx="93.2" cy="225.1" r="0.45" fill="#111" opacity="0.3"/>
<circle cx="95.7" cy="223.9" r="0.45" fill="#111" opacity="0.3"/>
<circle cx="95.8" cy="223.5" r="0.45" fill="#111" opacity="0.3"/>
<circle cx="91.2" cy="219.3" r="0.45" fill="#111" opacity="0.3"/>
<circle cx="101.5" cy="220.1" r="0.45" fill="#111" opacity="0.3"/>
<circle cx="97.3" cy="223.1" r="0.45" fill="#111" opacity="0.3"/>
<circle cx="99.5" cy="221.6" r="0.45" fill="#111" opacity="0.3"/>
<circle cx="90.1" cy="220.8" r="0.45" fill="#111" opacity="0.3"/>
<circle cx="96.2" cy="222.8" r="0.45" fill="#111" opacity="0.3"/>
<circle cx="98.6" cy="221.9" r="0.45" fill="#111" opacity="0.3"/>
<circle cx="92.2" cy="222.0" r="0.45" fill="#111" opacity="0.3"/>
<circle cx="100.8" cy="219.1" r="0.45" fill="#111" opacity="0.3"/>
<circle cx="93.1" cy="223.8" r="0.45" fill="#111" opacity="0.3"/>
<circle cx="103.9" cy="221.3" r="0.45" fill="#111" opacity="0.3"/>
<circle cx="96.0" cy="219.5" r="0.45" fill="#111" opacity="0.3"/>
<circle cx="95.4" cy="219.9" r="0.45" fill="#111" opacity="0.3"/>
<circle cx="96.7" cy="222.9" r="0.45" fill="#111" opacity="0.3"/>
<circle cx="98.2" cy="223.9" r="0.45" fill="#111" opacity="0.3"/>
<circle cx="90.9" cy="219.5" r="0.45" fill="#111" opacity="0.3"/>
<circle cx="102.8" cy="222.8" r="0.45" fill="#111" opacity="0.3"/>
<circle cx="91.2" cy="222.4" r="0.45" fill="#111" opacity="0.3"/>
<circle cx="90.7" cy="222.2" r="0.45" fill="#111" opacity="0.3"/>
<circle cx="97.5" cy="223.3" r="0.45" fill="#111" opacity="0.3"/>
<circle cx="91.2" cy="219.5" r="0.45" fill="#111" opacity="0.3"/>
<circle cx="98.8" cy="220.4" r="0.45" fill="#111" opacity="0.3"/>
<circle cx="103.0" cy="218.2" r="0.45" fill="#111" opacity="0.3"/>
<circle cx="92.8" cy="216.2" r="0.45" fill="#111" opacity="0.3"/>
<circle cx="101.6" cy="223.5" r="0.45" fill="#111" opacity="0.3"/>
<circle cx="98.1" cy="220.6" r="0.45" fill="#111" opacity="0.3"/>
<circle cx="93.4" cy="225.8" r="0.45" fill="#111" opacity="0.3"/>
<circle cx="100.4" cy="219.7" r="0.45" fill="#111" opacity="0.3"/>
<circle cx="98.1" cy="222.4" r="0.45" fill="#111" opacity="0.3"/>
<circle cx="98.5" cy="219.2" r="0.45" fill="#111" opacity="0.3"/>
<circle cx="93.8" cy="223.9" r="0.45" fill="#111" opacity="0.3"/>
<circle cx="99.4" cy="220.3" r="0.45" fill="#111" opacity="0.3"/>
<circle cx="108.1" cy="220.5" r="0.45" fill="#111" opacity="0.3"/>
<circle cx="94.0" cy="223.7" r="0.45" fill="#111" opacity="0.3"/>
<circle cx="100.0" cy="220.7" r="0.45" fill="#111" opacity="0.3"/>
<circle cx="105.0" cy="222.6" r="0.45" fill="#111" opacity="0.3"/>
<circle cx="96.1" cy="223.0" r="0.45" fill="#111" opacity="0.3"/>
<circle cx="99.3" cy="220.5" r="0.45" fill="#111" opacity="0.3"/>
<circle cx="99.7" cy="219.9" r="0.45" fill="#111" opacity="0.3"/>
<circle cx="94.9" cy="223.0" r="0.45" fill="#111" opacity="0.3"/>
<circle cx="89.8" cy="221.6" r="0.45" fill="#111" opacity="0.3"/>
<circle cx="91.2" cy="223.6" r="0.45" fill="#111" opacity="0.3"/>
<circle cx="93.2" cy="225.7" r="0.45" fill="#111" opacity="0.3"/>
<circle cx="103.7" cy="219.1" r="0.45" fill="#111" opacity="0.3"/>
<circle cx="96.8" cy="220.7" r="0.45" fill="#111" opacity="0.3"/>
<circle cx="96.0" cy="222.9" r="0.45" fill="#111" opacity="0.3"/>
<circle cx="103.4" cy="225.1" r="0.45" fill="#111" opacity="0.3"/>
<circle cx="105.2" cy="217.7" r="0.45" fill="#111" opacity="0.3"/>
<circle cx="93.7" cy="221.4" r="0.45" fill="#111" opacity="0.3"/>
<circle cx="94.5" cy="222.0" r="0.45" fill="#111" opacity="0.3"/>
<circle cx="99.2" cy="220.1" r="0.45" fill="#111" opacity="0.3"/>
<circle cx="99.5" cy="225.6" r="0.45" fill="#111" opacity="0.3"/>
<circle cx="93.2" cy="224.7" r="0.45" fill="#111" opacity="0.3"/>
<circle cx="104.4" cy="223.2" r="0.45" fill="#111" opacity="0.3"/>
<circle cx="92.3" cy="223.1" r="0.45" fill="#111" opacity="0.3"/>
<circle cx="92.2" cy="219.7" r="0.45" fill="#111" opacity="0.3"/>
<circle cx="96.0" cy="222.6" r="0.45" fill="#111" opacity="0.3"/>
<circle cx="95.0" cy="221.4" r="0.45" fill="#111" opacity="0.3"/>
<circle cx="99.2" cy="219.7" r="0.45" fill="#111" opacity="0.3"/>
<circle cx="98.2" cy="222.9" r="0.45" fill="#111" opacity="0.3"/>
<circle cx="99.3" cy="222.3" r="0.45" fill="#111" opacity="0.3"/>
<circle cx="91.1" cy="221.6" r="0.45" fill="#111" opacity="0.3"/>
<circle cx="93.9" cy="223.3" r="0.45" fill="#111" opacity="0.3"/>
<circle cx="87.3" cy="223.0" r="0.45" fill="#111" opacity="0.3"/>
<circle cx="88.1" cy="223.9" r="0.45" fill="#111" opacity="0.3"/>
<circle cx="93.5" cy="221.9" r="0.45" fill="#111" opacity="0.3"/>
<circle cx="100.7" cy="224.5" r="0.45" fill="#111" opacity="0.3"/>
<circle cx="91.1" cy="222.4" r="0.45" fill="#111" opacity="0.3"/>
<circle cx="92.6" cy="223.3" r="0.45" fill="#111" opacity="0.3"/>
<circle cx="95.5" cy="221.8" r="0.45" fill="#111" opacity="0.3"/>
<circle cx="90.5" cy="221.6" r="0.45" fill="#111" opacity="0.3"/>
<circle cx="90.5" cy="222.3" r="0.45" fill="#111" opacity="0.3"/>
<circle cx="88.2" cy="223.1" r="0.45" fill="#111" opacity="0.3"/>
<circle cx="103.5" cy="223.3" r="0.45" fill="#111" opacity="0.3"/>
<circle cx="100.0" cy="224.3" r="0.45" fill="#111" opacity="0.3"/>
<circle cx="95.9" cy="222.4" r="0.45" fill="#111" opacity="0.3"/>
<circle cx="101.8" cy="217.2" r="0.45" fill="#111" opacity="0.3"/>
<circle cx="97.6" cy="221.2" r="0.45" fill="#111" opacity="0.3"/>
<circle cx="94.3" cy="222.4" r="0.45" fill="#111" opacity="0.3"/>
<circle cx="96.2" cy="219.2" r="0.45" fill="#111" opacity="0.3"/>
<circle cx="95.7" cy="217.8" r="0.45" fill="#111" opacity="0.3"/>
<circle cx="103.5" cy="220.5" r="0.45" fill="#111" opacity="0.3"/>
<circle cx="100.5" cy="219.0" r="0.45" fill="#111" opacity="0.3"/>
<circle cx="105.2" cy="222.4" r="0.45" fill="#111" opacity="0.3"/>
<circle cx="97.8" cy="221.7" r="0.45" fill="#111" opacity="0.3"/>
<circle cx="98.0" cy="219.8" r="0.45" fill="#111" opacity="0.3"/>
<circle cx="95.4" cy="221.2" r="0.45" fill="#111" opacity="0.3"/>
<circle cx="97.9" cy="224.5" r="0.45" fill="#111" opacity="0.3"/>
<circle cx="101.8" cy="221.3" r="0.45" fill="#111" opacity="0.3"/>
<circle cx="99.2" cy="220.5" r="0.45" fill="#111" opacity="0.3"/>
<circle cx="93.7" cy="218.5" r="0.45" fill="#111" opacity="0.3"/>
<circle cx="89.8" cy="219.9" r="0.45" fill="#111" opacity="0.3"/>
<circle cx="95.7" cy="221.2" r="0.45" fill="#111" opacity="0.3"/>
<circle cx="98.2" cy="223.6" r="0.45" fill="#111" opacity="0.3"/>
<circle cx="99.4" cy="220.8" r="0.45" fill="#111" opacity="0.3"/>
<circle cx="93.8" cy="221.2" r="0.45" fill="#111" opacity="0.3"/>
<circle cx="99.1" cy="219.2" r="0.45" fill="#111" opacity="0.3"/>
<circle cx="88.6" cy="222.0" r="0.45" fill="#111" opacity="0.3"/>
<circle cx="101.3" cy="223.4" r="0.45" fill="#111" opacity="0.3"/>
<circle cx="99.1" cy="217.1" r="0.45" fill="#111" opacity="0.3"/>
<circle cx="95.3" cy="223.1" r="0.45" fill="#111" opacity="0.3"/>
<circle cx="101.5" cy="224.7" r="0.45" fill="#111" opacity="0.3"/>
<circle cx="91.4" cy="222.9" r="0.45" fill="#111" opacity="0.3"/>
<circle cx="88.3" cy="222.1" r="0.45" fill="#111" opacity="0.3"/>
<circle cx="94.1" cy="223.5" r="0.45" fill="#111" opacity="0.3"/>
<circle cx="96.9" cy="217.8" r="0.45" fill="#111" opacity="0.3"/>
<circle cx="95.4" cy="222.4" r="0.45" fill="#111" opacity="0.3"/>
<circle cx="103.3" cy="219.1" r="0.45" fill="#111" opacity="0.3"/>
<circle cx="123.5" cy="210.9" r="0.45" fill="#111" opacity="0.3"/>
<circle cx="128.0" cy="212.5" r="0.45" fill="#111" opacity="0.3"/>
<circle cx="125.7" cy="216.5" r="0.45" fill="#111" opacity="0.3"/>
<circle cx="123.6" cy="220.0" r="0.45" fill="#111" opacity="0.3"/>
<circle cx="121.7" cy="224.0" r="0.45" fill="#111" opacity="0.3"/>
<circle cx="123.9" cy="209.1" r="0.45" fill="#111" opacity="0.3"/>
<circle cx="123.8" cy="207.7" r="0.45" fill="#111" opacity="0.3"/>
<circle cx="123.4" cy="209.7" r="0.45" fill="#111" opacity="0.3"/>
<circle cx="122.7" cy="213.1" r="0.45" fill="#111" opacity="0.3"/>
<circle cx="126.3" cy="210.9" r="0.45" fill="#111" opacity="0.3"/>
<circle cx="125.9" cy="209.5" r="0.45" fill="#111" opacity="0.3"/>
<circle cx="126.0" cy="212.3" r="0.45" fill="#111" opacity="0.3"/>
<circle cx="122.9" cy="214.6" r="0.45" fill="#111" opacity="0.3"/>
<circle cx="125.1" cy="210.4" r="0.45" fill="#111" opacity="0.3"/>
<circle cx="125.4" cy="216.9" r="0.45" fill="#111" opacity="0.3"/>
<circle cx="122.6" cy="211.3" r="0.45" fill="#111" opacity="0.3"/>
<circle cx="127.0" cy="214.0" r="0.45" fill="#111" opacity="0.3"/>
<circle cx="122.5" cy="216.0" r="0.45" fill="#111" opacity="0.3"/>
<circle cx="124.6" cy="221.8" r="0.45" fill="#111" opacity="0.3"/>
<circle cx="126.9" cy="206.4" r="0.45" fill="#111" opacity="0.3"/>
<circle cx="128.1" cy="214.1" r="0.45" fill="#111" opacity="0.3"/>
<circle cx="124.8" cy="214.1" r="0.45" fill="#111" opacity="0.3"/>
<circle cx="126.0" cy="209.3" r="0.45" fill="#111" opacity="0.3"/>
<circle cx="124.6" cy="221.4" r="0.45" fill="#111" opacity="0.3"/>
<circle cx="123.1" cy="210.7" r="0.45" fill="#111" opacity="0.3"/>
<circle cx="127.3" cy="208.9" r="0.45" fill="#111" opacity="0.3"/>
<circle cx="125.0" cy="215.7" r="0.45" fill="#111" opacity="0.3"/>
<circle cx="123.3" cy="212.3" r="0.45" fill="#111" opacity="0.3"/>
<circle cx="123.3" cy="212.8" r="0.45" fill="#111" opacity="0.3"/>
<circle cx="126.2" cy="214.1" r="0.45" fill="#111" opacity="0.3"/>
<circle cx="126.1" cy="216.0" r="0.45" fill="#111" opacity="0.3"/>
<circle cx="127.4" cy="208.2" r="0.45" fill="#111" opacity="0.3"/>
<circle cx="125.8" cy="222.6" r="0.45" fill="#111" opacity="0.3"/>
<circle cx="124.9" cy="212.5" r="0.45" fill="#111" opacity="0.3"/>
<circle cx="125.5" cy="210.0" r="0.45" fill="#111" opacity="0.3"/>
<circle cx="126.8" cy="213.9" r="0.45" fill="#111" opacity="0.3"/>
<circle cx="125.1" cy="218.1" r="0.45" fill="#111" opacity="0.3"/>
<circle cx="128.4" cy="206.3" r="0.45" fill="#111" opacity="0.3"/>
<circle cx="124.3" cy="212.5" r="0.45" fill="#111" opacity="0.3"/>
<circle cx="122.1" cy="217.7" r="0.45" fill="#111" opacity="0.3"/>
<circle cx="130.6" cy="218.4" r="0.45" fill="#111" opacity="0.3"/>
<circle cx="128.5" cy="203.3" r="0.45" fill="#111" opacity="0.3"/>
<circle cx="124.4" cy="206.8" r="0.45" fill="#111" opacity="0.3"/>
<circle cx="127.4" cy="213.3" r="0.45" fill="#111" opacity="0.3"/>
<circle cx="125.1" cy="216.7" r="0.45" fill="#111" opacity="0.3"/>
<circle cx="127.3" cy="222.9" r="0.45" fill="#111" opacity="0.3"/>
<circle cx="128.8" cy="219.1" r="0.45" fill="#111" opacity="0.3"/>
<circle cx="121.6" cy="220.8" r="0.45" fill="#111" opacity="0.3"/>
<circle cx="125.7" cy="205.6" r="0.45" fill="#111" opacity="0.3"/>
<circle cx="125.9" cy="212.7" r="0.45" fill="#111" opacity="0.3"/>
<circle cx="125.3" cy="219.2" r="0.45" fill="#111" opacity="0.3"/>
<circle cx="122.3" cy="217.5" r="0.45" fill="#111" opacity="0.3"/>
<circle cx="128.4" cy="207.8" r="0.45" fill="#111" opacity="0.3"/>
<circle cx="128.8" cy="210.3" r="0.45" fill="#111" opacity="0.3"/>
<circle cx="123.7" cy="219.1" r="0.45" fill="#111" opacity="0.3"/>
<circle cx="125.5" cy="203.9" r="0.45" fill="#111" opacity="0.3"/>
<circle cx="124.0" cy="217.8" r="0.45" fill="#111" opacity="0.3"/>
<circle cx="124.2" cy="211.4" r="0.45" fill="#111" opacity="0.3"/>
<circle cx="125.5" cy="214.0" r="0.45" fill="#111" opacity="0.3"/>
<circle cx="123.9" cy="208.9" r="0.45" fill="#111" opacity="0.3"/>
<circle cx="126.6" cy="220.7" r="0.45" fill="#111" opacity="0.3"/>
<circle cx="119.4" cy="216.3" r="0.45" fill="#111" opacity="0.3"/>
<circle cx="127.9" cy="209.2" r="0.45" fill="#111" opacity="0.3"/>
<circle cx="128.9" cy="205.8" r="0.45" fill="#111" opacity="0.3"/>
<circle cx="127.8" cy="222.9" r="0.45" fill="#111" opacity="0.3"/>
<circle cx="129.2" cy="199.4" r="0.45" fill="#111" opacity="0.3"/>
<circle cx="125.6" cy="208.5" r="0.45" fill="#111" opacity="0.3"/>
<circle cx="126.4" cy="221.7" r="0.45" fill="#111" opacity="0.3"/>
<circle cx="126.5" cy="223.0" r="0.45" fill="#111" opacity="0.3"/>
<circle cx="121.5" cy="209.4" r="0.45" fill="#111" opacity="0.3"/>
<circle cx="124.2" cy="217.7" r="0.45" fill="#111" opacity="0.3"/>
<circle cx="128.4" cy="209.4" r="0.45" fill="#111" opacity="0.3"/>
<circle cx="123.3" cy="218.9" r="0.45" fill="#111" opacity="0.3"/>
<circle cx="122.3" cy="217.1" r="0.45" fill="#111" opacity="0.3"/>
<circle cx="123.5" cy="213.5" r="0.45" fill="#111" opacity="0.3"/>
<circle cx="130.5" cy="212.5" r="0.45" fill="#111" opacity="0.3"/>
<circle cx="125.6" cy="209.6" r="0.45" fill="#111" opacity="0.3"/>
<circle cx="126.8" cy="222.4" r="0.45" fill="#111" opacity="0.3"/>
<circle cx="127.0" cy="206.8" r="0.45" fill="#111" opacity="0.3"/>
<circle cx="126.4" cy="222.6" r="0.45" fill="#111" opacity="0.3"/>
<circle cx="123.2" cy="213.2" r="0.45" fill="#111" opacity="0.3"/>
<circle cx="123.3" cy="210.8" r="0.45" fill="#111" opacity="0.3"/>
<circle cx="123.1" cy="206.6" r="0.45" fill="#111" opacity="0.3"/>
<circle cx="126.7" cy="213.7" r="0.45" fill="#111" opacity="0.3"/>
<circle cx="120.3" cy="208.3" r="0.45" fill="#111" opacity="0.3"/>
<circle cx="123.8" cy="208.0" r="0.45" fill="#111" opacity="0.3"/>
<circle cx="125.9" cy="212.9" r="0.45" fill="#111" opacity="0.3"/>
<circle cx="126.4" cy="206.6" r="0.45" fill="#111" opacity="0.3"/>
<circle cx="123.7" cy="211.6" r="0.45" fill="#111" opacity="0.3"/>
<circle cx="124.6" cy="212.1" r="0.45" fill="#111" opacity="0.3"/>
<circle cx="123.7" cy="213.3" r="0.45" fill="#111" opacity="0.3"/>
<circle cx="129.4" cy="209.9" r="0.45" fill="#111" opacity="0.3"/>
<circle cx="121.5" cy="215.6" r="0.45" fill="#111" opacity="0.3"/>
<circle cx="123.3" cy="218.4" r="0.45" fill="#111" opacity="0.3"/>
<circle cx="128.0" cy="223.2" r="0.45" fill="#111" opacity="0.3"/>
<circle cx="125.9" cy="204.7" r="0.45" fill="#111" opacity="0.3"/>
<circle cx="129.3" cy="219.1" r="0.45" fill="#111" opacity="0.3"/>
<circle cx="128.6" cy="214.5" r="0.45" fill="#111" opacity="0.3"/>
<circle cx="124.7" cy="214.1" r="0.45" fill="#111" opacity="0.3"/>
<circle cx="121.1" cy="219.4" r="0.45" fill="#111" opacity="0.3"/>
<circle cx="124.0" cy="210.6" r="0.45" fill="#111" opacity="0.3"/>
<circle cx="126.4" cy="209.3" r="0.45" fill="#111" opacity="0.3"/>
<circle cx="127.4" cy="210.6" r="0.45" fill="#111" opacity="0.3"/>
<circle cx="131.2" cy="220.9" r="0.45" fill="#111" opacity="0.3"/>
<circle cx="127.2" cy="215.8" r="0.45" fill="#111" opacity="0.3"/>
<circle cx="125.7" cy="211.3" r="0.45" fill="#111" opacity="0.3"/>
<circle cx="120.9" cy="211.0" r="0.45" fill="#111" opacity="0.3"/>
<circle cx="123.6" cy="211.3" r="0.45" fill="#111" opacity="0.3"/>
<circle cx="125.7" cy="203.7" r="0.45" fill="#111" opacity="0.3"/>
<circle cx="122.5" cy="210.3" r="0.45" fill="#111" opacity="0.3"/>
<circle cx="124.4" cy="219.1" r="0.45" fill="#111" opacity="0.3"/>
<circle cx="131.9" cy="213.2" r="0.45" fill="#111" opacity="0.3"/>
<circle cx="127.1" cy="214.0" r="0.45" fill="#111" opacity="0.3"/>
<circle cx="126.2" cy="223.6" r="0.45" fill="#111" opacity="0.3"/>
<circle cx="125.9" cy="217.2" r="0.45" fill="#111" opacity="0.3"/>
<circle cx="125.6" cy="210.7" r="0.45" fill="#111" opacity="0.3"/>
<circle cx="128.1" cy="213.1" r="0.45" fill="#111" opacity="0.3"/>
<circle cx="129.1" cy="207.9" r="0.45" fill="#111" opacity="0.3"/>
<circle cx="126.6" cy="223.3" r="0.45" fill="#111" opacity="0.3"/>
<circle cx="124.0" cy="216.0" r="0.45" fill="#111" opacity="0.3"/>
<circle cx="129.1" cy="216.4" r="0.45" fill="#111" opacity="0.3"/>
<circle cx="123.6" cy="212.3" r="0.45" fill="#111" opacity="0.3"/>
<circle cx="126.3" cy="210.8" r="0.45" fill="#111" opacity="0.3"/>
<circle cx="124.5" cy="214.8" r="0.45" fill="#111" opacity="0.3"/>
<circle cx="122.6" cy="223.2" r="0.45" fill="#111" opacity="0.3"/>
<circle cx="124.1" cy="214.0" r="0.45" fill="#111" opacity="0.3"/>
<circle cx="125.8" cy="221.9" r="0.45" fill="#111" opacity="0.3"/>
<circle cx="124.6" cy="225.3" r="0.45" fill="#111" opacity="0.3"/>
<circle cx="130.0" cy="218.1" r="0.45" fill="#111" opacity="0.3"/>
<circle cx="122.3" cy="206.9" r="0.45" fill="#111" opacity="0.3"/>
<circle cx="124.9" cy="215.7" r="0.45" fill="#111" opacity="0.3"/>
<circle cx="127.1" cy="220.8" r="0.45" fill="#111" opacity="0.3"/>
<circle cx="126.6" cy="214.4" r="0.45" fill="#111" opacity="0.3"/>
<circle cx="126.5" cy="202.9" r="0.45" fill="#111" opacity="0.3"/>
<circle cx="128.3" cy="205.8" r="0.45" fill="#111" opacity="0.3"/>
<circle cx="120.9" cy="210.2" r="0.45" fill="#111" opacity="0.3"/>
<circle cx="124.5" cy="207.4" r="0.45" fill="#111" opacity="0.3"/>
<circle cx="125.0" cy="214.5" r="0.45" fill="#111" opacity="0.3"/>
<circle cx="127.0" cy="216.2" r="0.45" fill="#111" opacity="0.3"/>
<circle cx="124.3" cy="214.7" r="0.45" fill="#111" opacity="0.3"/>
<circle cx="128.6" cy="212.7" r="0.45" fill="#111" opacity="0.3"/>
<circle cx="125.2" cy="202.4" r="0.45" fill="#111" opacity="0.3"/>
<circle cx="126.2" cy="225.3" r="0.45" fill="#111" opacity="0.3"/>
<circle cx="127.3" cy="212.9" r="0.45" fill="#111" opacity="0.3"/>
<circle cx="128.5" cy="221.0" r="0.45" fill="#111" opacity="0.3"/>
<circle cx="128.8" cy="207.7" r="0.45" fill="#111" opacity="0.3"/>
<circle cx="122.8" cy="218.1" r="0.45" fill="#111" opacity="0.3"/>
<circle cx="126.8" cy="216.6" r="0.45" fill="#111" opacity="0.3"/>
<circle cx="122.0" cy="218.4" r="0.45" fill="#111" opacity="0.3"/>
<circle cx="130.2" cy="220.7" r="0.45" fill="#111" opacity="0.3"/>
<circle cx="131.7" cy="216.7" r="0.45" fill="#111" opacity="0.3"/>
<circle cx="125.9" cy="224.1" r="0.45" fill="#111" opacity="0.3"/>
<circle cx="128.0" cy="201.6" r="0.45" fill="#111" opacity="0.3"/>
<circle cx="121.8" cy="215.6" r="0.45" fill="#111" opacity="0.3"/>
<circle cx="124.3" cy="224.0" r="0.45" fill="#111" opacity="0.3"/>
<circle cx="129.4" cy="221.2" r="0.45" fill="#111" opacity="0.3"/>
<circle cx="124.8" cy="212.9" r="0.45" fill="#111" opacity="0.3"/>
<circle cx="127.5" cy="212.3" r="0.45" fill="#111" opacity="0.3"/>
<circle cx="127.2" cy="215.8" r="0.45" fill="#111" opacity="0.3"/>
<rect x="85.8" y="175.0" width="53.0" height="52.3" fill="none" stroke="#000" stroke-width="0.9"/>
<line x1="118.3" y1="175" x2="118.3" y2="227.3" stroke="#000" stroke-width="0.7"/>
<line x1="85.8" y1="206.2" x2="138.8" y2="206.2" stroke="#000" stroke-width="0.7"/>
<text x="87.1" y="179.0" font-size="3.8" text-anchor="start" font-weight="bold" fill="#111" stroke="#111" stroke-width="0.05">0.65</text>
<text x="137.5" y="179.0" font-size="3.8" text-anchor="end" font-weight="bold" fill="#111" stroke="#111" stroke-width="0.05">3.3</text>
<text x="87.1" y="225.9" font-size="3.8" text-anchor="start" font-weight="bold" fill="#111" stroke="#111" stroke-width="0.05">78.0</text>
<text x="137.5" y="225.9" font-size="3.8" text-anchor="end" font-weight="bold" fill="#111" stroke="#111" stroke-width="0.05">18.2</text>
<text x="84.2" y="180.3" font-size="2.6" text-anchor="end" font-weight="bold" fill="#555">10<tspan dy="-0.8" font-size="1.6">5</tspan></text>
<line x1="85.0" y1="179.5" x2="85.8" y2="179.5" stroke="#333" stroke-width="0.5"/>
<text x="84.2" y="192.10000000000002" font-size="2.6" text-anchor="end" font-weight="bold" fill="#555">10<tspan dy="-0.8" font-size="1.6">4</tspan></text>
<line x1="85.0" y1="191.3" x2="85.8" y2="191.3" stroke="#333" stroke-width="0.5"/>
<text x="84.2" y="204.10000000000002" font-size="2.6" text-anchor="end" font-weight="bold" fill="#555">10<tspan dy="-0.8" font-size="1.6">3</tspan></text>
<line x1="85.0" y1="203.3" x2="85.8" y2="203.3" stroke="#333" stroke-width="0.5"/>
<text x="84.2" y="215.8" font-size="2.6" text-anchor="end" font-weight="bold" fill="#555">10<tspan dy="-0.8" font-size="1.6">2</tspan></text>
<line x1="85.0" y1="215.0" x2="85.8" y2="215.0" stroke="#333" stroke-width="0.5"/>
<text x="84.2" y="225.8" font-size="2.6" text-anchor="end" font-weight="bold" fill="#555">0</text>
<text x="87.5" y="232.3" font-size="2.6" text-anchor="middle" font-weight="bold" fill="#555">0</text>
<text x="98.3" y="232.3" font-size="2.6" text-anchor="middle" font-weight="bold" fill="#555">10<tspan dy="-0.8" font-size="1.6">2</tspan></text>
<text x="110.0" y="232.3" font-size="2.6" text-anchor="middle" font-weight="bold" fill="#555">10<tspan dy="-0.8" font-size="1.6">3</tspan></text>
<text x="122.5" y="232.3" font-size="2.6" text-anchor="middle" font-weight="bold" fill="#555">10<tspan dy="-0.8" font-size="1.6">4</tspan></text>
<text x="133.8" y="232.3" font-size="2.6" text-anchor="middle" font-weight="bold" fill="#555">10<tspan dy="-0.8" font-size="1.6">5</tspan></text>
<circle cx="182.2" cy="213.6" r="0.45" fill="#111" opacity="0.22"/>
<circle cx="172.2" cy="205.1" r="0.45" fill="#111" opacity="0.22"/>
<circle cx="168.4" cy="210.6" r="0.45" fill="#111" opacity="0.22"/>
<circle cx="181.5" cy="208.5" r="0.45" fill="#111" opacity="0.22"/>
<circle cx="173.3" cy="216.3" r="0.45" fill="#111" opacity="0.22"/>
<circle cx="181.6" cy="216.8" r="0.45" fill="#111" opacity="0.22"/>
<circle cx="180.0" cy="218.8" r="0.45" fill="#111" opacity="0.22"/>
<circle cx="173.3" cy="218.6" r="0.45" fill="#111" opacity="0.22"/>
<circle cx="168.2" cy="214.1" r="0.45" fill="#111" opacity="0.22"/>
<circle cx="179.8" cy="215.7" r="0.45" fill="#111" opacity="0.22"/>
<circle cx="175.3" cy="212.1" r="0.45" fill="#111" opacity="0.22"/>
<circle cx="169.0" cy="207.7" r="0.45" fill="#111" opacity="0.22"/>
<circle cx="164.3" cy="221.5" r="0.45" fill="#111" opacity="0.22"/>
<circle cx="165.2" cy="210.6" r="0.45" fill="#111" opacity="0.22"/>
<circle cx="166.3" cy="214.8" r="0.45" fill="#111" opacity="0.22"/>
<circle cx="175.2" cy="212.3" r="0.45" fill="#111" opacity="0.22"/>
<circle cx="168.5" cy="214.9" r="0.45" fill="#111" opacity="0.22"/>
<circle cx="167.7" cy="216.6" r="0.45" fill="#111" opacity="0.22"/>
<circle cx="186.7" cy="209.2" r="0.45" fill="#111" opacity="0.22"/>
<circle cx="178.4" cy="212.1" r="0.45" fill="#111" opacity="0.22"/>
<circle cx="174.4" cy="209.9" r="0.45" fill="#111" opacity="0.22"/>
<circle cx="177.4" cy="213.8" r="0.45" fill="#111" opacity="0.22"/>
<circle cx="185.3" cy="220.7" r="0.45" fill="#111" opacity="0.22"/>
<circle cx="169.9" cy="218.9" r="0.45" fill="#111" opacity="0.22"/>
<circle cx="171.5" cy="213.1" r="0.45" fill="#111" opacity="0.22"/>
<circle cx="169.3" cy="216.9" r="0.45" fill="#111" opacity="0.22"/>
<circle cx="185.0" cy="212.3" r="0.45" fill="#111" opacity="0.22"/>
<circle cx="178.4" cy="211.0" r="0.45" fill="#111" opacity="0.22"/>
<circle cx="174.9" cy="209.9" r="0.45" fill="#111" opacity="0.22"/>
<circle cx="176.4" cy="207.2" r="0.45" fill="#111" opacity="0.22"/>
<circle cx="191.9" cy="215.8" r="0.45" fill="#111" opacity="0.22"/>
<circle cx="173.1" cy="213.0" r="0.45" fill="#111" opacity="0.22"/>
<circle cx="174.1" cy="214.8" r="0.45" fill="#111" opacity="0.22"/>
<circle cx="178.5" cy="220.1" r="0.45" fill="#111" opacity="0.22"/>
<circle cx="173.8" cy="208.0" r="0.45" fill="#111" opacity="0.22"/>
<circle cx="178.6" cy="215.1" r="0.45" fill="#111" opacity="0.22"/>
<circle cx="171.5" cy="217.6" r="0.45" fill="#111" opacity="0.22"/>
<circle cx="175.7" cy="211.5" r="0.45" fill="#111" opacity="0.22"/>
<circle cx="176.3" cy="209.7" r="0.45" fill="#111" opacity="0.22"/>
<circle cx="174.2" cy="220.2" r="0.45" fill="#111" opacity="0.22"/>
<circle cx="184.8" cy="214.7" r="0.45" fill="#111" opacity="0.22"/>
<circle cx="177.7" cy="214.8" r="0.45" fill="#111" opacity="0.22"/>
<circle cx="169.2" cy="215.8" r="0.45" fill="#111" opacity="0.22"/>
<circle cx="172.2" cy="212.7" r="0.45" fill="#111" opacity="0.22"/>
<circle cx="187.3" cy="209.8" r="0.45" fill="#111" opacity="0.22"/>
<circle cx="177.4" cy="214.2" r="0.45" fill="#111" opacity="0.22"/>
<circle cx="183.5" cy="212.1" r="0.45" fill="#111" opacity="0.22"/>
<circle cx="180.2" cy="214.8" r="0.45" fill="#111" opacity="0.22"/>
<circle cx="175.8" cy="212.2" r="0.45" fill="#111" opacity="0.22"/>
<circle cx="170.2" cy="218.7" r="0.45" fill="#111" opacity="0.22"/>
<circle cx="171.3" cy="218.8" r="0.45" fill="#111" opacity="0.22"/>
<circle cx="187.9" cy="210.3" r="0.45" fill="#111" opacity="0.22"/>
<circle cx="170.7" cy="211.6" r="0.45" fill="#111" opacity="0.22"/>
<circle cx="173.6" cy="219.0" r="0.45" fill="#111" opacity="0.22"/>
<circle cx="171.9" cy="211.2" r="0.45" fill="#111" opacity="0.22"/>
<circle cx="166.2" cy="216.1" r="0.45" fill="#111" opacity="0.22"/>
<circle cx="179.9" cy="218.6" r="0.45" fill="#111" opacity="0.22"/>
<circle cx="178.7" cy="213.6" r="0.45" fill="#111" opacity="0.22"/>
<circle cx="176.8" cy="223.8" r="0.45" fill="#111" opacity="0.22"/>
<circle cx="187.4" cy="215.4" r="0.45" fill="#111" opacity="0.22"/>
<circle cx="174.8" cy="213.7" r="0.45" fill="#111" opacity="0.22"/>
<circle cx="176.4" cy="213.8" r="0.45" fill="#111" opacity="0.22"/>
<circle cx="180.2" cy="211.2" r="0.45" fill="#111" opacity="0.22"/>
<circle cx="189.3" cy="208.7" r="0.45" fill="#111" opacity="0.22"/>
<circle cx="181.3" cy="215.9" r="0.45" fill="#111" opacity="0.22"/>
<circle cx="183.3" cy="217.6" r="0.45" fill="#111" opacity="0.22"/>
<circle cx="179.1" cy="214.4" r="0.45" fill="#111" opacity="0.22"/>
<circle cx="186.6" cy="216.9" r="0.45" fill="#111" opacity="0.22"/>
<circle cx="177.1" cy="216.9" r="0.45" fill="#111" opacity="0.22"/>
<circle cx="169.2" cy="216.7" r="0.45" fill="#111" opacity="0.22"/>
<circle cx="163.5" cy="220.4" r="0.45" fill="#111" opacity="0.22"/>
<circle cx="173.0" cy="217.8" r="0.45" fill="#111" opacity="0.22"/>
<circle cx="180.1" cy="211.6" r="0.45" fill="#111" opacity="0.22"/>
<circle cx="182.7" cy="218.7" r="0.45" fill="#111" opacity="0.22"/>
<circle cx="171.5" cy="221.3" r="0.45" fill="#111" opacity="0.22"/>
<circle cx="179.7" cy="210.7" r="0.45" fill="#111" opacity="0.22"/>
<circle cx="175.5" cy="215.6" r="0.45" fill="#111" opacity="0.22"/>
<circle cx="181.9" cy="210.6" r="0.45" fill="#111" opacity="0.22"/>
<circle cx="174.8" cy="216.1" r="0.45" fill="#111" opacity="0.22"/>
<circle cx="179.0" cy="220.4" r="0.45" fill="#111" opacity="0.22"/>
<circle cx="182.6" cy="216.2" r="0.45" fill="#111" opacity="0.22"/>
<circle cx="171.4" cy="212.0" r="0.45" fill="#111" opacity="0.22"/>
<circle cx="170.5" cy="215.0" r="0.45" fill="#111" opacity="0.22"/>
<circle cx="181.3" cy="219.1" r="0.45" fill="#111" opacity="0.22"/>
<circle cx="183.7" cy="210.3" r="0.45" fill="#111" opacity="0.22"/>
<circle cx="176.8" cy="221.4" r="0.45" fill="#111" opacity="0.22"/>
<circle cx="178.2" cy="215.8" r="0.45" fill="#111" opacity="0.22"/>
<circle cx="168.4" cy="210.9" r="0.45" fill="#111" opacity="0.22"/>
<circle cx="174.2" cy="213.7" r="0.45" fill="#111" opacity="0.22"/>
<circle cx="180.8" cy="213.1" r="0.45" fill="#111" opacity="0.22"/>
<circle cx="166.2" cy="224.0" r="0.45" fill="#111" opacity="0.22"/>
<circle cx="179.9" cy="208.1" r="0.45" fill="#111" opacity="0.22"/>
<circle cx="188.3" cy="215.2" r="0.45" fill="#111" opacity="0.22"/>
<circle cx="176.2" cy="214.4" r="0.45" fill="#111" opacity="0.22"/>
<circle cx="180.6" cy="205.9" r="0.45" fill="#111" opacity="0.22"/>
<circle cx="183.8" cy="214.0" r="0.45" fill="#111" opacity="0.22"/>
<circle cx="181.8" cy="211.5" r="0.45" fill="#111" opacity="0.22"/>
<circle cx="173.3" cy="220.1" r="0.45" fill="#111" opacity="0.22"/>
<circle cx="184.9" cy="207.5" r="0.45" fill="#111" opacity="0.22"/>
<circle cx="175.9" cy="212.1" r="0.45" fill="#111" opacity="0.22"/>
<circle cx="173.7" cy="210.5" r="0.45" fill="#111" opacity="0.22"/>
<circle cx="168.6" cy="215.8" r="0.45" fill="#111" opacity="0.22"/>
<circle cx="175.5" cy="216.3" r="0.45" fill="#111" opacity="0.22"/>
<circle cx="182.3" cy="211.5" r="0.45" fill="#111" opacity="0.22"/>
<circle cx="191.0" cy="217.4" r="0.45" fill="#111" opacity="0.22"/>
<circle cx="167.3" cy="215.2" r="0.45" fill="#111" opacity="0.22"/>
<circle cx="175.0" cy="215.9" r="0.45" fill="#111" opacity="0.22"/>
<circle cx="170.9" cy="220.5" r="0.45" fill="#111" opacity="0.22"/>
<circle cx="174.9" cy="221.6" r="0.45" fill="#111" opacity="0.22"/>
<circle cx="172.4" cy="221.5" r="0.45" fill="#111" opacity="0.22"/>
<circle cx="180.0" cy="216.8" r="0.45" fill="#111" opacity="0.22"/>
<circle cx="179.5" cy="215.0" r="0.45" fill="#111" opacity="0.22"/>
<circle cx="170.9" cy="214.5" r="0.45" fill="#111" opacity="0.22"/>
<circle cx="172.6" cy="214.2" r="0.45" fill="#111" opacity="0.22"/>
<circle cx="174.9" cy="217.1" r="0.45" fill="#111" opacity="0.22"/>
<circle cx="179.1" cy="212.8" r="0.45" fill="#111" opacity="0.22"/>
<circle cx="166.0" cy="219.1" r="0.45" fill="#111" opacity="0.22"/>
<circle cx="172.5" cy="213.6" r="0.45" fill="#111" opacity="0.22"/>
<circle cx="180.1" cy="213.5" r="0.45" fill="#111" opacity="0.22"/>
<circle cx="177.8" cy="214.3" r="0.45" fill="#111" opacity="0.22"/>
<circle cx="165.1" cy="218.4" r="0.45" fill="#111" opacity="0.22"/>
<circle cx="175.9" cy="216.9" r="0.45" fill="#111" opacity="0.22"/>
<circle cx="177.8" cy="212.6" r="0.45" fill="#111" opacity="0.22"/>
<circle cx="186.5" cy="213.0" r="0.45" fill="#111" opacity="0.22"/>
<circle cx="183.8" cy="215.1" r="0.45" fill="#111" opacity="0.22"/>
<circle cx="182.4" cy="216.7" r="0.45" fill="#111" opacity="0.22"/>
<circle cx="181.2" cy="210.4" r="0.45" fill="#111" opacity="0.22"/>
<circle cx="175.7" cy="218.8" r="0.45" fill="#111" opacity="0.22"/>
<circle cx="176.3" cy="213.0" r="0.45" fill="#111" opacity="0.22"/>
<circle cx="177.4" cy="217.2" r="0.45" fill="#111" opacity="0.22"/>
<circle cx="171.8" cy="214.7" r="0.45" fill="#111" opacity="0.22"/>
<circle cx="174.3" cy="212.3" r="0.45" fill="#111" opacity="0.22"/>
<circle cx="182.0" cy="211.4" r="0.45" fill="#111" opacity="0.22"/>
<circle cx="177.5" cy="215.3" r="0.45" fill="#111" opacity="0.22"/>
<circle cx="180.2" cy="215.1" r="0.45" fill="#111" opacity="0.22"/>
<circle cx="182.0" cy="210.9" r="0.45" fill="#111" opacity="0.22"/>
<circle cx="161.6" cy="219.5" r="0.45" fill="#111" opacity="0.22"/>
<circle cx="187.8" cy="211.1" r="0.45" fill="#111" opacity="0.22"/>
<circle cx="177.4" cy="216.9" r="0.45" fill="#111" opacity="0.22"/>
<circle cx="172.0" cy="214.7" r="0.45" fill="#111" opacity="0.22"/>
<circle cx="174.4" cy="216.3" r="0.45" fill="#111" opacity="0.22"/>
<circle cx="177.6" cy="219.4" r="0.45" fill="#111" opacity="0.22"/>
<circle cx="171.4" cy="212.7" r="0.45" fill="#111" opacity="0.22"/>
<circle cx="168.2" cy="216.2" r="0.45" fill="#111" opacity="0.22"/>
<circle cx="176.4" cy="213.4" r="0.45" fill="#111" opacity="0.22"/>
<circle cx="181.0" cy="210.3" r="0.45" fill="#111" opacity="0.22"/>
<circle cx="168.0" cy="222.5" r="0.45" fill="#111" opacity="0.22"/>
<circle cx="177.3" cy="210.9" r="0.45" fill="#111" opacity="0.22"/>
<circle cx="183.9" cy="213.4" r="0.45" fill="#111" opacity="0.22"/>
<circle cx="171.1" cy="216.1" r="0.45" fill="#111" opacity="0.22"/>
<circle cx="184.0" cy="215.4" r="0.45" fill="#111" opacity="0.22"/>
<circle cx="176.7" cy="219.7" r="0.45" fill="#111" opacity="0.22"/>
<circle cx="171.7" cy="214.4" r="0.45" fill="#111" opacity="0.22"/>
<circle cx="180.3" cy="210.2" r="0.45" fill="#111" opacity="0.22"/>
<circle cx="181.5" cy="214.6" r="0.45" fill="#111" opacity="0.22"/>
<circle cx="183.5" cy="214.1" r="0.45" fill="#111" opacity="0.22"/>
<circle cx="190.0" cy="207.6" r="0.45" fill="#111" opacity="0.22"/>
<circle cx="174.8" cy="212.8" r="0.45" fill="#111" opacity="0.22"/>
<circle cx="177.3" cy="216.2" r="0.45" fill="#111" opacity="0.22"/>
<circle cx="170.5" cy="218.5" r="0.45" fill="#111" opacity="0.22"/>
<circle cx="184.5" cy="213.3" r="0.45" fill="#111" opacity="0.22"/>
<circle cx="168.5" cy="217.6" r="0.45" fill="#111" opacity="0.22"/>
<circle cx="180.0" cy="210.5" r="0.45" fill="#111" opacity="0.22"/>
<circle cx="172.9" cy="213.1" r="0.45" fill="#111" opacity="0.22"/>
<circle cx="168.1" cy="216.8" r="0.45" fill="#111" opacity="0.22"/>
<circle cx="184.4" cy="214.1" r="0.45" fill="#111" opacity="0.22"/>
<circle cx="172.9" cy="214.6" r="0.45" fill="#111" opacity="0.22"/>
<circle cx="177.1" cy="220.2" r="0.45" fill="#111" opacity="0.22"/>
<circle cx="174.5" cy="216.2" r="0.45" fill="#111" opacity="0.22"/>
<circle cx="191.8" cy="217.2" r="0.45" fill="#111" opacity="0.22"/>
<circle cx="189.6" cy="214.7" r="0.45" fill="#111" opacity="0.22"/>
<circle cx="191.6" cy="215.0" r="0.45" fill="#111" opacity="0.22"/>
<circle cx="186.9" cy="212.3" r="0.45" fill="#111" opacity="0.22"/>
<circle cx="198.1" cy="215.3" r="0.45" fill="#111" opacity="0.22"/>
<circle cx="188.6" cy="222.9" r="0.45" fill="#111" opacity="0.22"/>
<circle cx="195.2" cy="211.7" r="0.45" fill="#111" opacity="0.22"/>
<circle cx="191.6" cy="209.0" r="0.45" fill="#111" opacity="0.22"/>
<circle cx="200.0" cy="217.8" r="0.45" fill="#111" opacity="0.22"/>
<circle cx="199.6" cy="208.7" r="0.45" fill="#111" opacity="0.22"/>
<circle cx="184.9" cy="204.1" r="0.45" fill="#111" opacity="0.22"/>
<circle cx="186.7" cy="210.4" r="0.45" fill="#111" opacity="0.22"/>
<circle cx="187.9" cy="206.0" r="0.45" fill="#111" opacity="0.22"/>
<circle cx="195.4" cy="209.8" r="0.45" fill="#111" opacity="0.22"/>
<circle cx="194.5" cy="217.4" r="0.45" fill="#111" opacity="0.22"/>
<circle cx="189.4" cy="210.5" r="0.45" fill="#111" opacity="0.22"/>
<circle cx="198.6" cy="206.5" r="0.45" fill="#111" opacity="0.22"/>
<circle cx="190.8" cy="207.9" r="0.45" fill="#111" opacity="0.22"/>
<circle cx="192.0" cy="210.0" r="0.45" fill="#111" opacity="0.22"/>
<circle cx="193.8" cy="210.5" r="0.45" fill="#111" opacity="0.22"/>
<circle cx="198.2" cy="209.3" r="0.45" fill="#111" opacity="0.22"/>
<circle cx="192.5" cy="215.1" r="0.45" fill="#111" opacity="0.22"/>
<circle cx="188.9" cy="209.9" r="0.45" fill="#111" opacity="0.22"/>
<circle cx="192.3" cy="210.8" r="0.45" fill="#111" opacity="0.22"/>
<circle cx="196.4" cy="209.5" r="0.45" fill="#111" opacity="0.22"/>
<circle cx="186.2" cy="214.9" r="0.45" fill="#111" opacity="0.22"/>
<circle cx="189.2" cy="209.8" r="0.45" fill="#111" opacity="0.22"/>
<circle cx="191.7" cy="216.8" r="0.45" fill="#111" opacity="0.22"/>
<circle cx="196.4" cy="213.1" r="0.45" fill="#111" opacity="0.22"/>
<circle cx="194.0" cy="210.7" r="0.45" fill="#111" opacity="0.22"/>
<circle cx="200.5" cy="216.5" r="0.45" fill="#111" opacity="0.22"/>
<circle cx="189.1" cy="216.0" r="0.45" fill="#111" opacity="0.22"/>
<circle cx="186.9" cy="209.2" r="0.45" fill="#111" opacity="0.22"/>
<circle cx="189.8" cy="218.7" r="0.45" fill="#111" opacity="0.22"/>
<circle cx="201.7" cy="212.5" r="0.45" fill="#111" opacity="0.22"/>
<circle cx="190.7" cy="217.7" r="0.45" fill="#111" opacity="0.22"/>
<circle cx="190.5" cy="218.8" r="0.45" fill="#111" opacity="0.22"/>
<circle cx="188.6" cy="216.3" r="0.45" fill="#111" opacity="0.22"/>
<circle cx="189.3" cy="219.3" r="0.45" fill="#111" opacity="0.22"/>
<circle cx="193.5" cy="209.9" r="0.45" fill="#111" opacity="0.22"/>
<circle cx="193.4" cy="202.9" r="0.45" fill="#111" opacity="0.22"/>
<circle cx="193.2" cy="215.1" r="0.45" fill="#111" opacity="0.22"/>
<circle cx="203.5" cy="208.2" r="0.45" fill="#111" opacity="0.22"/>
<circle cx="198.3" cy="217.5" r="0.45" fill="#111" opacity="0.22"/>
<circle cx="196.2" cy="211.2" r="0.45" fill="#111" opacity="0.22"/>
<circle cx="193.7" cy="209.2" r="0.45" fill="#111" opacity="0.22"/>
<circle cx="194.2" cy="207.9" r="0.45" fill="#111" opacity="0.22"/>
<circle cx="190.7" cy="212.9" r="0.45" fill="#111" opacity="0.22"/>
<circle cx="189.0" cy="207.4" r="0.45" fill="#111" opacity="0.22"/>
<circle cx="192.7" cy="213.7" r="0.45" fill="#111" opacity="0.22"/>
<circle cx="195.9" cy="214.2" r="0.45" fill="#111" opacity="0.22"/>
<circle cx="200.4" cy="212.4" r="0.45" fill="#111" opacity="0.22"/>
<circle cx="198.9" cy="208.5" r="0.45" fill="#111" opacity="0.22"/>
<circle cx="196.0" cy="215.4" r="0.45" fill="#111" opacity="0.22"/>
<circle cx="201.4" cy="210.1" r="0.45" fill="#111" opacity="0.22"/>
<circle cx="201.3" cy="212.1" r="0.45" fill="#111" opacity="0.22"/>
<circle cx="191.1" cy="205.9" r="0.45" fill="#111" opacity="0.22"/>
<circle cx="197.1" cy="210.3" r="0.45" fill="#111" opacity="0.22"/>
<circle cx="196.8" cy="213.2" r="0.45" fill="#111" opacity="0.22"/>
<circle cx="196.6" cy="212.8" r="0.45" fill="#111" opacity="0.22"/>
<circle cx="190.0" cy="210.8" r="0.45" fill="#111" opacity="0.22"/>
<circle cx="193.0" cy="214.3" r="0.45" fill="#111" opacity="0.22"/>
<circle cx="189.6" cy="216.2" r="0.45" fill="#111" opacity="0.22"/>
<circle cx="183.9" cy="207.3" r="0.45" fill="#111" opacity="0.22"/>
<circle cx="196.1" cy="213.8" r="0.45" fill="#111" opacity="0.22"/>
<circle cx="202.2" cy="216.8" r="0.45" fill="#111" opacity="0.22"/>
<circle cx="188.6" cy="208.2" r="0.45" fill="#111" opacity="0.22"/>
<circle cx="193.1" cy="212.2" r="0.45" fill="#111" opacity="0.22"/>
<circle cx="196.3" cy="210.4" r="0.45" fill="#111" opacity="0.22"/>
<circle cx="189.8" cy="209.6" r="0.45" fill="#111" opacity="0.22"/>
<circle cx="192.9" cy="209.1" r="0.45" fill="#111" opacity="0.22"/>
<circle cx="192.4" cy="215.5" r="0.45" fill="#111" opacity="0.22"/>
<circle cx="192.2" cy="208.1" r="0.45" fill="#111" opacity="0.22"/>
<circle cx="195.4" cy="215.6" r="0.45" fill="#111" opacity="0.22"/>
<circle cx="189.0" cy="210.9" r="0.45" fill="#111" opacity="0.22"/>
<circle cx="185.8" cy="208.3" r="0.45" fill="#111" opacity="0.22"/>
<circle cx="187.8" cy="207.0" r="0.45" fill="#111" opacity="0.22"/>
<circle cx="190.0" cy="220.1" r="0.45" fill="#111" opacity="0.22"/>
<circle cx="198.1" cy="210.7" r="0.45" fill="#111" opacity="0.22"/>
<circle cx="194.9" cy="212.7" r="0.45" fill="#111" opacity="0.22"/>
<circle cx="193.4" cy="204.5" r="0.45" fill="#111" opacity="0.22"/>
<circle cx="192.1" cy="207.8" r="0.45" fill="#111" opacity="0.22"/>
<circle cx="190.8" cy="212.0" r="0.45" fill="#111" opacity="0.22"/>
<circle cx="176.5" cy="202.0" r="0.45" fill="#111" opacity="0.22"/>
<circle cx="194.7" cy="217.8" r="0.45" fill="#111" opacity="0.22"/>
<circle cx="196.9" cy="207.8" r="0.45" fill="#111" opacity="0.22"/>
<circle cx="191.0" cy="214.9" r="0.45" fill="#111" opacity="0.22"/>
<circle cx="191.9" cy="203.4" r="0.45" fill="#111" opacity="0.22"/>
<circle cx="196.3" cy="209.7" r="0.45" fill="#111" opacity="0.22"/>
<circle cx="192.7" cy="205.2" r="0.45" fill="#111" opacity="0.22"/>
<circle cx="187.6" cy="217.2" r="0.45" fill="#111" opacity="0.22"/>
<circle cx="190.7" cy="214.3" r="0.45" fill="#111" opacity="0.22"/>
<circle cx="200.2" cy="212.5" r="0.45" fill="#111" opacity="0.22"/>
<circle cx="193.0" cy="211.3" r="0.45" fill="#111" opacity="0.22"/>
<circle cx="196.6" cy="213.8" r="0.45" fill="#111" opacity="0.22"/>
<circle cx="194.9" cy="218.8" r="0.45" fill="#111" opacity="0.22"/>
<circle cx="195.2" cy="217.4" r="0.45" fill="#111" opacity="0.22"/>
<circle cx="189.0" cy="211.3" r="0.45" fill="#111" opacity="0.22"/>
<circle cx="196.0" cy="209.1" r="0.45" fill="#111" opacity="0.22"/>
<circle cx="186.4" cy="212.1" r="0.45" fill="#111" opacity="0.22"/>
<circle cx="190.6" cy="213.9" r="0.45" fill="#111" opacity="0.22"/>
<circle cx="200.2" cy="210.6" r="0.45" fill="#111" opacity="0.22"/>
<circle cx="187.9" cy="211.2" r="0.45" fill="#111" opacity="0.22"/>
<circle cx="190.2" cy="210.3" r="0.45" fill="#111" opacity="0.22"/>
<circle cx="198.1" cy="214.7" r="0.45" fill="#111" opacity="0.22"/>
<circle cx="194.7" cy="211.4" r="0.45" fill="#111" opacity="0.22"/>
<circle cx="197.3" cy="212.0" r="0.45" fill="#111" opacity="0.22"/>
<circle cx="200.7" cy="212.4" r="0.45" fill="#111" opacity="0.22"/>
<circle cx="192.6" cy="215.2" r="0.45" fill="#111" opacity="0.22"/>
<circle cx="202.6" cy="205.3" r="0.45" fill="#111" opacity="0.22"/>
<circle cx="195.0" cy="207.5" r="0.45" fill="#111" opacity="0.22"/>
<circle cx="185.4" cy="210.6" r="0.45" fill="#111" opacity="0.22"/>
<circle cx="196.8" cy="205.7" r="0.45" fill="#111" opacity="0.22"/>
<circle cx="191.0" cy="219.8" r="0.45" fill="#111" opacity="0.22"/>
<circle cx="198.6" cy="211.0" r="0.45" fill="#111" opacity="0.22"/>
<circle cx="195.9" cy="212.7" r="0.45" fill="#111" opacity="0.22"/>
<circle cx="190.2" cy="209.1" r="0.45" fill="#111" opacity="0.22"/>
<circle cx="198.6" cy="209.7" r="0.45" fill="#111" opacity="0.22"/>
<circle cx="192.2" cy="210.3" r="0.45" fill="#111" opacity="0.22"/>
<circle cx="186.0" cy="211.5" r="0.45" fill="#111" opacity="0.22"/>
<circle cx="201.4" cy="208.2" r="0.45" fill="#111" opacity="0.22"/>
<circle cx="192.5" cy="217.2" r="0.45" fill="#111" opacity="0.22"/>
<circle cx="194.9" cy="212.3" r="0.45" fill="#111" opacity="0.22"/>
<circle cx="195.6" cy="213.6" r="0.45" fill="#111" opacity="0.22"/>
<circle cx="192.5" cy="209.0" r="0.45" fill="#111" opacity="0.22"/>
<circle cx="190.8" cy="205.3" r="0.45" fill="#111" opacity="0.22"/>
<circle cx="193.5" cy="211.4" r="0.45" fill="#111" opacity="0.22"/>
<circle cx="190.0" cy="205.9" r="0.45" fill="#111" opacity="0.22"/>
<circle cx="190.4" cy="204.9" r="0.45" fill="#111" opacity="0.22"/>
<circle cx="195.6" cy="207.5" r="0.45" fill="#111" opacity="0.22"/>
<circle cx="196.8" cy="208.8" r="0.45" fill="#111" opacity="0.22"/>
<circle cx="195.9" cy="214.6" r="0.45" fill="#111" opacity="0.22"/>
<circle cx="196.7" cy="211.0" r="0.45" fill="#111" opacity="0.22"/>
<circle cx="184.0" cy="214.0" r="0.45" fill="#111" opacity="0.22"/>
<circle cx="189.9" cy="206.0" r="0.45" fill="#111" opacity="0.22"/>
<circle cx="187.7" cy="213.4" r="0.45" fill="#111" opacity="0.22"/>
<circle cx="195.7" cy="213.7" r="0.45" fill="#111" opacity="0.22"/>
<circle cx="196.0" cy="216.7" r="0.45" fill="#111" opacity="0.22"/>
<circle cx="191.3" cy="212.2" r="0.45" fill="#111" opacity="0.22"/>
<circle cx="191.6" cy="211.1" r="0.45" fill="#111" opacity="0.22"/>
<circle cx="164.3" cy="219.5" r="0.45" fill="#111" opacity="0.18"/>
<circle cx="162.8" cy="219.3" r="0.45" fill="#111" opacity="0.18"/>
<circle cx="168.5" cy="218.0" r="0.45" fill="#111" opacity="0.18"/>
<circle cx="167.1" cy="216.2" r="0.45" fill="#111" opacity="0.18"/>
<circle cx="161.4" cy="224.1" r="0.45" fill="#111" opacity="0.18"/>
<circle cx="164.3" cy="222.6" r="0.45" fill="#111" opacity="0.18"/>
<circle cx="156.8" cy="211.6" r="0.45" fill="#111" opacity="0.18"/>
<circle cx="164.6" cy="218.1" r="0.45" fill="#111" opacity="0.18"/>
<circle cx="167.3" cy="216.7" r="0.45" fill="#111" opacity="0.18"/>
<circle cx="167.2" cy="220.7" r="0.45" fill="#111" opacity="0.18"/>
<circle cx="165.1" cy="217.1" r="0.45" fill="#111" opacity="0.18"/>
<circle cx="167.4" cy="217.5" r="0.45" fill="#111" opacity="0.18"/>
<circle cx="162.7" cy="214.7" r="0.45" fill="#111" opacity="0.18"/>
<circle cx="165.2" cy="222.6" r="0.45" fill="#111" opacity="0.18"/>
<circle cx="162.8" cy="217.3" r="0.45" fill="#111" opacity="0.18"/>
<circle cx="159.5" cy="218.2" r="0.45" fill="#111" opacity="0.18"/>
<circle cx="168.2" cy="218.4" r="0.45" fill="#111" opacity="0.18"/>
<circle cx="167.2" cy="222.2" r="0.45" fill="#111" opacity="0.18"/>
<circle cx="161.2" cy="217.0" r="0.45" fill="#111" opacity="0.18"/>
<circle cx="167.3" cy="218.0" r="0.45" fill="#111" opacity="0.18"/>
<circle cx="160.5" cy="218.8" r="0.45" fill="#111" opacity="0.18"/>
<circle cx="166.4" cy="222.1" r="0.45" fill="#111" opacity="0.18"/>
<circle cx="161.3" cy="219.9" r="0.45" fill="#111" opacity="0.18"/>
<circle cx="166.7" cy="210.3" r="0.45" fill="#111" opacity="0.18"/>
<circle cx="167.8" cy="218.6" r="0.45" fill="#111" opacity="0.18"/>
<circle cx="158.2" cy="224.3" r="0.45" fill="#111" opacity="0.18"/>
<circle cx="166.5" cy="219.6" r="0.45" fill="#111" opacity="0.18"/>
<circle cx="174.3" cy="222.0" r="0.45" fill="#111" opacity="0.18"/>
<circle cx="160.7" cy="218.9" r="0.45" fill="#111" opacity="0.18"/>
<circle cx="171.8" cy="222.6" r="0.45" fill="#111" opacity="0.18"/>
<circle cx="171.1" cy="218.8" r="0.45" fill="#111" opacity="0.18"/>
<circle cx="169.4" cy="217.0" r="0.45" fill="#111" opacity="0.18"/>
<circle cx="164.1" cy="220.7" r="0.45" fill="#111" opacity="0.18"/>
<circle cx="164.2" cy="220.6" r="0.45" fill="#111" opacity="0.18"/>
<circle cx="164.2" cy="219.7" r="0.45" fill="#111" opacity="0.18"/>
<circle cx="173.3" cy="220.6" r="0.45" fill="#111" opacity="0.18"/>
<circle cx="169.2" cy="214.5" r="0.45" fill="#111" opacity="0.18"/>
<circle cx="162.4" cy="221.6" r="0.45" fill="#111" opacity="0.18"/>
<circle cx="158.2" cy="217.6" r="0.45" fill="#111" opacity="0.18"/>
<rect x="155.0" y="175.0" width="53.0" height="52.3" fill="none" stroke="#000" stroke-width="0.9"/>
<line x1="187.5" y1="175" x2="187.5" y2="227.3" stroke="#000" stroke-width="0.7"/>
<line x1="155.0" y1="206.2" x2="208.0" y2="206.2" stroke="#000" stroke-width="0.7"/>
<text x="156.3" y="179.0" font-size="3.8" text-anchor="start" font-weight="bold" fill="#111" stroke="#111" stroke-width="0.05">2</text>
<text x="206.7" y="179.0" font-size="3.8" text-anchor="end" font-weight="bold" fill="#111" stroke="#111" stroke-width="0.05">4.8</text>
<text x="156.3" y="225.9" font-size="3.8" text-anchor="start" font-weight="bold" fill="#111" stroke="#111" stroke-width="0.05">53.4</text>
<text x="206.7" y="225.9" font-size="3.8" text-anchor="end" font-weight="bold" fill="#111" stroke="#111" stroke-width="0.05">41.8</text>
<text x="153.4" y="180.3" font-size="2.6" text-anchor="end" font-weight="bold" fill="#555">10<tspan dy="-0.8" font-size="1.6">5</tspan></text>
<line x1="154.2" y1="179.5" x2="155.0" y2="179.5" stroke="#333" stroke-width="0.5"/>
<text x="153.4" y="192.10000000000002" font-size="2.6" text-anchor="end" font-weight="bold" fill="#555">10<tspan dy="-0.8" font-size="1.6">4</tspan></text>
<line x1="154.2" y1="191.3" x2="155.0" y2="191.3" stroke="#333" stroke-width="0.5"/>
<text x="153.4" y="204.10000000000002" font-size="2.6" text-anchor="end" font-weight="bold" fill="#555">10<tspan dy="-0.8" font-size="1.6">3</tspan></text>
<line x1="154.2" y1="203.3" x2="155.0" y2="203.3" stroke="#333" stroke-width="0.5"/>
<text x="153.4" y="215.8" font-size="2.6" text-anchor="end" font-weight="bold" fill="#555">10<tspan dy="-0.8" font-size="1.6">2</tspan></text>
<line x1="154.2" y1="215.0" x2="155.0" y2="215.0" stroke="#333" stroke-width="0.5"/>
<text x="153.4" y="225.8" font-size="2.6" text-anchor="end" font-weight="bold" fill="#555">0</text>
<text x="156.7" y="232.3" font-size="2.6" text-anchor="middle" font-weight="bold" fill="#555">0</text>
<text x="167.5" y="232.3" font-size="2.6" text-anchor="middle" font-weight="bold" fill="#555">10<tspan dy="-0.8" font-size="1.6">2</tspan></text>
<text x="179.2" y="232.3" font-size="2.6" text-anchor="middle" font-weight="bold" fill="#555">10<tspan dy="-0.8" font-size="1.6">3</tspan></text>
<text x="191.7" y="232.3" font-size="2.6" text-anchor="middle" font-weight="bold" fill="#555">10<tspan dy="-0.8" font-size="1.6">4</tspan></text>
<text x="203.0" y="232.3" font-size="2.6" text-anchor="middle" font-weight="bold" fill="#555">10<tspan dy="-0.8" font-size="1.6">5</tspan></text>
<text x="76.9" y="206.5" font-size="5.9" text-anchor="middle" font-weight="bold" fill="#111" stroke="#111" stroke-width="0.05" transform="rotate(-90 76.9 206.5)">CD90</text>
<line x1="75.5" y1="236.6" x2="75.5" y2="219.6" stroke="#111" stroke-width="0.9"/>
<path d="M75.5,217.3 L73.61,220.0 L77.39,220.0 Z" fill="#111"/>
<line x1="75.0" y1="236.3" x2="92.0" y2="236.3" stroke="#111" stroke-width="0.9"/>
<path d="M94.5,236.3 L91.8,234.41000000000003 L91.8,238.19 Z" fill="#111"/>
<text x="97.8" y="238.4" font-size="5.9" text-anchor="start" font-weight="bold" fill="#111" stroke="#111" stroke-width="0.05">CD34</text>
<text x="227.8" y="111.5" font-size="11.4" font-weight="bold" fill="#000" stroke="#000" stroke-width="0.35">E</text>
<line x1="248.8" y1="120.0" x2="248.8" y2="187.8" stroke="#111" stroke-width="0.7"/>
<line x1="248.8" y1="187.5" x2="294.0" y2="187.5" stroke="#111" stroke-width="0.7"/>
<line x1="247.20000000000002" y1="187.5" x2="248.8" y2="187.5" stroke="#111" stroke-width="0.6"/>
<text x="246.8" y="189.2" font-size="4.8" text-anchor="end" font-weight="normal" fill="#222" stroke="#222" stroke-width="0.1">0</text>
<line x1="247.20000000000002" y1="174.0" x2="248.8" y2="174.0" stroke="#111" stroke-width="0.6"/>
<text x="246.8" y="175.7" font-size="4.8" text-anchor="end" font-weight="normal" fill="#222" stroke="#222" stroke-width="0.1">500</text>
<line x1="247.20000000000002" y1="160.5" x2="248.8" y2="160.5" stroke="#111" stroke-width="0.6"/>
<text x="246.8" y="162.2" font-size="4.8" text-anchor="end" font-weight="normal" fill="#222" stroke="#222" stroke-width="0.1">1000</text>
<line x1="247.20000000000002" y1="147.0" x2="248.8" y2="147.0" stroke="#111" stroke-width="0.6"/>
<text x="246.8" y="148.7" font-size="4.8" text-anchor="end" font-weight="normal" fill="#222" stroke="#222" stroke-width="0.1">1500</text>
<line x1="247.20000000000002" y1="133.5" x2="248.8" y2="133.5" stroke="#111" stroke-width="0.6"/>
<text x="246.8" y="135.2" font-size="4.8" text-anchor="end" font-weight="normal" fill="#222" stroke="#222" stroke-width="0.1">2000</text>
<line x1="247.20000000000002" y1="120.0" x2="248.8" y2="120.0" stroke="#111" stroke-width="0.6"/>
<text x="246.8" y="121.7" font-size="4.8" text-anchor="end" font-weight="normal" fill="#222" stroke="#222" stroke-width="0.1">2500</text>
<text x="232.1" y="155.0" font-size="5.2" text-anchor="middle" font-weight="normal" fill="#222" stroke="#222" stroke-width="0.1" transform="rotate(-90 232.1 155.0)">Cell number</text>
<rect x="252.6" y="141.6" width="14.6" height="45.900000000000006" fill="#000" stroke="none" stroke-width="0.6"/>
<line x1="259.9" y1="141.6" x2="259.9" y2="131.5" stroke="#111" stroke-width="0.8"/>
<line x1="255.6" y1="131.5" x2="263.8" y2="131.5" stroke="#111" stroke-width="0.8"/>
<rect x="275.2" y="181.3" width="15.0" height="6.199999999999989" fill="#000" stroke="none" stroke-width="0.6"/>
<line x1="282.0" y1="181.3" x2="282.0" y2="179.6" stroke="#111" stroke-width="0.7"/>
<line x1="279" y1="179.6" x2="285" y2="179.6" stroke="#111" stroke-width="0.7"/>
<path d="M260.2,122.8 L260.2,120.1 L277.6,120.1 L277.6,122.8" stroke="#111" stroke-width="0.6" fill="none"/>
<text x="270.0" y="118.0" font-size="5.1" text-anchor="middle" font-weight="normal" fill="#222" stroke="#222" stroke-width="0.1">p = .06</text>
<line x1="276.3" y1="134.5" x2="276.3" y2="176.5" stroke="#111" stroke-width="0.7"/>
<path d="M276.3,132.0 L274.55,134.5 L278.05,134.5 Z" fill="#111"/>
<path d="M276.3,179.0 L274.55,176.5 L278.05,176.5 Z" fill="#111"/>
<text x="279.8" y="149.7" font-size="4.8" text-anchor="start" font-weight="normal" fill="#222" stroke="#222" stroke-width="0.1">Δ = 7x</text>
<text x="261.0" y="195.0" font-size="5.1" text-anchor="end" font-weight="bold" fill="#222" stroke="#222" stroke-width="0.05" transform="rotate(-45 261.0 195.0)">SCF + TPO</text>
<text x="282.5" y="195.0" font-size="5.1" text-anchor="end" font-weight="bold" fill="#222" stroke="#222" stroke-width="0.05" transform="rotate(-45 282.5 195.0)">SCF + CCL28</text>
<line x1="260.2" y1="187.5" x2="260.2" y2="189.0" stroke="#111" stroke-width="0.6"/>
<line x1="282.7" y1="187.5" x2="282.7" y2="189.0" stroke="#111" stroke-width="0.6"/>
<text x="301.2" y="111.7" font-size="11.4" font-weight="bold" fill="#000" stroke="#000" stroke-width="0.35">F</text>
<line x1="320.0" y1="120.0" x2="320.0" y2="187.8" stroke="#111" stroke-width="0.7"/>
<line x1="320.0" y1="187.5" x2="366.0" y2="187.5" stroke="#111" stroke-width="0.7"/>
<line x1="318.4" y1="187.5" x2="320.0" y2="187.5" stroke="#111" stroke-width="0.6"/>
<text x="318.0" y="189.2" font-size="4.8" text-anchor="end" font-weight="normal" fill="#222" stroke="#222" stroke-width="0.1">0</text>
<line x1="318.4" y1="176.25" x2="320.0" y2="176.25" stroke="#111" stroke-width="0.6"/>
<text x="318.0" y="177.95" font-size="4.8" text-anchor="end" font-weight="normal" fill="#222" stroke="#222" stroke-width="0.1">20</text>
<line x1="318.4" y1="165.0" x2="320.0" y2="165.0" stroke="#111" stroke-width="0.6"/>
<text x="318.0" y="166.7" font-size="4.8" text-anchor="end" font-weight="normal" fill="#222" stroke="#222" stroke-width="0.1">40</text>
<line x1="318.4" y1="153.75" x2="320.0" y2="153.75" stroke="#111" stroke-width="0.6"/>
<text x="318.0" y="155.45" font-size="4.8" text-anchor="end" font-weight="normal" fill="#222" stroke="#222" stroke-width="0.1">60</text>
<line x1="318.4" y1="142.5" x2="320.0" y2="142.5" stroke="#111" stroke-width="0.6"/>
<text x="318.0" y="144.2" font-size="4.8" text-anchor="end" font-weight="normal" fill="#222" stroke="#222" stroke-width="0.1">80</text>
<line x1="318.4" y1="131.25" x2="320.0" y2="131.25" stroke="#111" stroke-width="0.6"/>
<text x="318.0" y="132.95" font-size="4.8" text-anchor="end" font-weight="normal" fill="#222" stroke="#222" stroke-width="0.1">100</text>
<line x1="318.4" y1="120.0" x2="320.0" y2="120.0" stroke="#111" stroke-width="0.6"/>
<text x="318.0" y="121.7" font-size="4.8" text-anchor="end" font-weight="normal" fill="#222" stroke="#222" stroke-width="0.1">120</text>
<text x="306.3" y="154.5" font-size="5.0" text-anchor="middle" font-weight="normal" fill="#222" stroke="#222" stroke-width="0.1" transform="rotate(-90 306.3 154.5)">Frequency (%)</text>
<rect x="324.3" y="131.25" width="15.0" height="30.9375" fill="#dedede" stroke="#222" stroke-width="0.6"/>
<rect x="324.3" y="162.1875" width="15.0" height="23.34375" fill="#9a9a9a" stroke="#222" stroke-width="0.6"/>
<rect x="324.3" y="185.53125" width="15.0" height="1.96875" fill="#111" stroke="none" stroke-width="0.6"/>
<line x1="331.8" y1="131.25" x2="331.8" y2="122.8125" stroke="#111" stroke-width="0.7"/>
<line x1="328.0" y1="122.8125" x2="335.6" y2="122.8125" stroke="#111" stroke-width="0.8"/>
<line x1="331.8" y1="162.1875" x2="331.8" y2="153.1875" stroke="#111" stroke-width="0.7"/>
<line x1="328.0" y1="153.1875" x2="335.6" y2="153.1875" stroke="#111" stroke-width="0.8"/>
<rect x="346.8" y="131.25" width="15.0" height="19.125" fill="#dedede" stroke="#222" stroke-width="0.6"/>
<rect x="346.8" y="150.375" width="15.0" height="32.625" fill="#9a9a9a" stroke="#222" stroke-width="0.6"/>
<rect x="346.8" y="183.0" width="15.0" height="4.5" fill="#111" stroke="none" stroke-width="0.6"/>
<line x1="354.3" y1="131.25" x2="354.3" y2="124.5" stroke="#111" stroke-width="0.7"/>
<line x1="350.5" y1="124.5" x2="358.1" y2="124.5" stroke="#111" stroke-width="0.8"/>
<line x1="354.3" y1="150.375" x2="354.3" y2="144.1875" stroke="#111" stroke-width="0.7"/>
<line x1="350.5" y1="144.1875" x2="358.1" y2="144.1875" stroke="#111" stroke-width="0.8"/>
<text x="353.8" y="183.0" font-size="6.5" text-anchor="middle" font-weight="bold" fill="#111" stroke="#111" stroke-width="0.05">*</text>
<rect x="368.1" y="119.6" width="8.5" height="5.2" fill="#111" stroke="#222" stroke-width="0.7"/>
<text x="379.8" y="124.19999999999999" font-size="5.6" text-anchor="start" font-weight="normal" fill="#111" stroke="#111" stroke-width="0.1">CD34+90+</text>
<rect x="368.1" y="128.0" width="8.5" height="4.7" fill="#9a9a9a" stroke="#222" stroke-width="0.7"/>
<text x="379.8" y="132.35" font-size="5.6" text-anchor="start" font-weight="normal" fill="#111" stroke="#111" stroke-width="0.1">CD34+90-</text>
<rect x="368.1" y="135.7" width="8.5" height="4.9" fill="#dedede" stroke="#222" stroke-width="0.7"/>
<text x="379.8" y="140.14999999999998" font-size="5.6" text-anchor="start" font-weight="normal" fill="#111" stroke="#111" stroke-width="0.1">CD34-</text>
<text x="332.4" y="195.0" font-size="5.1" text-anchor="end" font-weight="bold" fill="#222" stroke="#222" stroke-width="0.05" transform="rotate(-45 332.4 195.0)">SCF + TPO</text>
<text x="354.4" y="195.0" font-size="5.1" text-anchor="end" font-weight="bold" fill="#222" stroke="#222" stroke-width="0.05" transform="rotate(-45 354.4 195.0)">SCF + CCL28</text>
<line x1="331.6" y1="187.5" x2="331.6" y2="189.0" stroke="#111" stroke-width="0.6"/>
<line x1="354.3" y1="187.5" x2="354.3" y2="189.0" stroke="#111" stroke-width="0.6"/>
<text x="413.1" y="111.9" font-size="11.4" font-weight="bold" fill="#000" stroke="#000" stroke-width="0.35">G</text>
<line x1="433.8" y1="120.0" x2="433.8" y2="188.3" stroke="#111" stroke-width="0.7"/>
<line x1="433.8" y1="188.0" x2="479.0" y2="188.0" stroke="#111" stroke-width="0.7"/>
<line x1="432.2" y1="188.0" x2="433.8" y2="188.0" stroke="#111" stroke-width="0.6"/>
<text x="431.8" y="189.7" font-size="4.8" text-anchor="end" font-weight="normal" fill="#222" stroke="#222" stroke-width="0.1">0</text>
<line x1="432.2" y1="178.28571428571428" x2="433.8" y2="178.28571428571428" stroke="#111" stroke-width="0.6"/>
<text x="431.8" y="179.98571428571427" font-size="4.8" text-anchor="end" font-weight="normal" fill="#222" stroke="#222" stroke-width="0.1">50</text>
<line x1="432.2" y1="168.57142857142858" x2="433.8" y2="168.57142857142858" stroke="#111" stroke-width="0.6"/>
<text x="431.8" y="170.27142857142857" font-size="4.8" text-anchor="end" font-weight="normal" fill="#222" stroke="#222" stroke-width="0.1">100</text>
<line x1="432.2" y1="158.85714285714286" x2="433.8" y2="158.85714285714286" stroke="#111" stroke-width="0.6"/>
<text x="431.8" y="160.55714285714285" font-size="4.8" text-anchor="end" font-weight="normal" fill="#222" stroke="#222" stroke-width="0.1">150</text>
<line x1="432.2" y1="149.14285714285714" x2="433.8" y2="149.14285714285714" stroke="#111" stroke-width="0.6"/>
<text x="431.8" y="150.84285714285713" font-size="4.8" text-anchor="end" font-weight="normal" fill="#222" stroke="#222" stroke-width="0.1">200</text>
<line x1="432.2" y1="139.42857142857144" x2="433.8" y2="139.42857142857144" stroke="#111" stroke-width="0.6"/>
<text x="431.8" y="141.12857142857143" font-size="4.8" text-anchor="end" font-weight="normal" fill="#222" stroke="#222" stroke-width="0.1">250</text>
<line x1="432.2" y1="129.71428571428572" x2="433.8" y2="129.71428571428572" stroke="#111" stroke-width="0.6"/>
<text x="431.8" y="131.4142857142857" font-size="4.8" text-anchor="end" font-weight="normal" fill="#222" stroke="#222" stroke-width="0.1">300</text>
<line x1="432.2" y1="120.0" x2="433.8" y2="120.0" stroke="#111" stroke-width="0.6"/>
<text x="431.8" y="121.7" font-size="4.8" text-anchor="end" font-weight="normal" fill="#222" stroke="#222" stroke-width="0.1">350</text>
<text x="420.0" y="152.2" font-size="5.3" text-anchor="middle" font-weight="normal" fill="#222" stroke="#222" stroke-width="0.1" transform="rotate(-90 420.0 152.2)">CFCs per 100 input cells</text>
<rect x="436.3" y="183.72571428571428" width="10.0" height="4.274285714285725" fill="#fff" stroke="#111" stroke-width="0.7"/>
<line x1="441.3" y1="183.72571428571428" x2="441.3" y2="180.61714285714285" stroke="#111" stroke-width="0.7"/>
<line x1="439.0" y1="180.61714285714285" x2="443.6" y2="180.61714285714285" stroke="#111" stroke-width="0.7"/>
<rect x="451.3" y="149.14285714285714" width="11.2" height="38.85714285714286" fill="#fff" stroke="#111" stroke-width="0.7"/>
<rect x="451.3" y="138.65142857142857" width="11.2" height="10.491428571428571" fill="#d3d3d3" stroke="#111" stroke-width="0.7"/>
<rect x="451.3" y="137.87428571428572" width="11.2" height="0.7771428571428487" fill="#777" stroke="#111" stroke-width="0.5"/>
<line x1="456.9" y1="137.87428571428572" x2="456.9" y2="136.5142857142857" stroke="#111" stroke-width="0.7"/>
<line x1="454.6" y1="136.5142857142857" x2="459.2" y2="136.5142857142857" stroke="#111" stroke-width="0.7"/>
<line x1="456.9" y1="149.14285714285714" x2="456.9" y2="144.86857142857144" stroke="#111" stroke-width="0.7"/>
<line x1="454.9" y1="144.86857142857144" x2="458.9" y2="144.86857142857144" stroke="#111" stroke-width="0.7"/>
<rect x="466.3" y="168.57142857142858" width="10.4" height="19.428571428571416" fill="#fff" stroke="#111" stroke-width="0.7"/>
<rect x="466.3" y="163.52" width="10.4" height="5.051428571428573" fill="#d3d3d3" stroke="#111" stroke-width="0.7"/>
<rect x="466.3" y="162.93714285714285" width="10.4" height="0.582857142857165" fill="#777" stroke="#111" stroke-width="0.5"/>
<line x1="471.5" y1="162.93714285714285" x2="471.5" y2="161.57714285714286" stroke="#111" stroke-width="0.7"/>
<line x1="469.2" y1="161.57714285714286" x2="473.8" y2="161.57714285714286" stroke="#111" stroke-width="0.7"/>
<line x1="471.5" y1="168.57142857142858" x2="471.5" y2="165.0742857142857" stroke="#111" stroke-width="0.7"/>
<line x1="469.5" y1="165.0742857142857" x2="473.5" y2="165.0742857142857" stroke="#111" stroke-width="0.7"/>
<path d="M441.3,121.4 L441.3,119.3 L471.8,119.3 L471.8,121.4" stroke="#111" stroke-width="0.6" fill="none"/>
<text x="456.3" y="122.2" font-size="9.0" text-anchor="middle" font-weight="bold" fill="#111" stroke="#111" stroke-width="0.05">*</text>
<path d="M441.3,129.6 L441.3,127.5 L457.0,127.5 L457.0,129.6" stroke="#111" stroke-width="0.6" fill="none"/>
<text x="449.2" y="129.2" font-size="7.5" text-anchor="middle" font-weight="bold" fill="#111" stroke="#111" stroke-width="0.05">***</text>
<line x1="468.0" y1="138.6" x2="468.0" y2="157.6" stroke="#111" stroke-width="0.7"/>
<path d="M468.0,136.2 L466.32,138.6 L469.68,138.6 Z" fill="#111"/>
<path d="M468.0,160.0 L466.32,157.6 L469.68,157.6 Z" fill="#111"/>
<text x="470.0" y="149.2" font-size="4.8" text-anchor="start" font-weight="normal" fill="#222" stroke="#222" stroke-width="0.1">Δ = 2x</text>
<rect x="486.4" y="119.9" width="8.1" height="4.3" fill="#fff" stroke="#222" stroke-width="0.8"/>
<text x="498.0" y="124.05000000000001" font-size="5.5" text-anchor="start" font-weight="normal" fill="#111" stroke="#111" stroke-width="0.1">Myeloid</text>
<rect x="486.4" y="128.3" width="8.1" height="4.1" fill="#d8d8d8" stroke="#222" stroke-width="0.8"/>
<text x="498.0" y="132.35000000000002" font-size="5.5" text-anchor="start" font-weight="normal" fill="#111" stroke="#111" stroke-width="0.1">Erythroid</text>
<rect x="486.4" y="136.0" width="8.1" height="4.1" fill="#8a8a8a" stroke="#222" stroke-width="0.8"/>
<text x="498.0" y="140.05" font-size="5.5" text-anchor="start" font-weight="normal" fill="#111" stroke="#111" stroke-width="0.1">Mix</text>
<text x="442.5" y="194.1" font-size="5.1" text-anchor="end" font-weight="bold" fill="#222" stroke="#222" stroke-width="0.05" transform="rotate(-45 442.5 194.1)">SCF</text>
<text x="456.5" y="194.1" font-size="5.1" text-anchor="end" font-weight="bold" fill="#222" stroke="#222" stroke-width="0.05" transform="rotate(-45 456.5 194.1)">SCF + TPO</text>
<text x="473.0" y="194.1" font-size="5.1" text-anchor="end" font-weight="bold" fill="#222" stroke="#222" stroke-width="0.05" transform="rotate(-45 473.0 194.1)">SCF + CCL28</text>
<line x1="441.1" y1="188.0" x2="441.1" y2="189.5" stroke="#111" stroke-width="0.6"/>
<line x1="456.4" y1="188.0" x2="456.4" y2="189.5" stroke="#111" stroke-width="0.6"/>
<line x1="471.5" y1="188.0" x2="471.5" y2="189.5" stroke="#111" stroke-width="0.6"/>
<text x="0.2" y="258.3" font-size="11.4" font-weight="bold" fill="#000" stroke="#000" stroke-width="0.35">H</text>
<text x="83.0" y="265.7" font-size="7.9" text-anchor="middle" font-weight="normal" fill="#111" stroke="#111" stroke-width="0.1">1 month</text>
<line x1="20.1" y1="276.7" x2="20.1" y2="359.2" stroke="#111" stroke-width="0.8"/>
<line x1="20.1" y1="358.9" x2="146.0" y2="358.9" stroke="#111" stroke-width="0.8"/>
<line x1="18.3" y1="358.9" x2="20.1" y2="358.9" stroke="#111" stroke-width="0.7"/>
<text x="17.8" y="361.2" font-size="6.4" text-anchor="end" font-weight="normal" fill="#111" stroke="#111" stroke-width="0.1">0</text>
<line x1="18.3" y1="342.46" x2="20.1" y2="342.46" stroke="#111" stroke-width="0.7"/>
<text x="17.8" y="344.76" font-size="6.4" text-anchor="end" font-weight="normal" fill="#111" stroke="#111" stroke-width="0.1">2</text>
<line x1="18.3" y1="326.02" x2="20.1" y2="326.02" stroke="#111" stroke-width="0.7"/>
<text x="17.8" y="328.32" font-size="6.4" text-anchor="end" font-weight="normal" fill="#111" stroke="#111" stroke-width="0.1">4</text>
<line x1="18.3" y1="309.58" x2="20.1" y2="309.58" stroke="#111" stroke-width="0.7"/>
<text x="17.8" y="311.88" font-size="6.4" text-anchor="end" font-weight="normal" fill="#111" stroke="#111" stroke-width="0.1">6</text>
<line x1="18.3" y1="293.14" x2="20.1" y2="293.14" stroke="#111" stroke-width="0.7"/>
<text x="17.8" y="295.44" font-size="6.4" text-anchor="end" font-weight="normal" fill="#111" stroke="#111" stroke-width="0.1">8</text>
<line x1="18.3" y1="276.7" x2="20.1" y2="276.7" stroke="#111" stroke-width="0.7"/>
<text x="17.8" y="279.0" font-size="6.4" text-anchor="end" font-weight="normal" fill="#111" stroke="#111" stroke-width="0.1">10</text>
<text x="6.2" y="317.0" font-size="6.6" text-anchor="middle" font-weight="normal" fill="#111" stroke="#111" stroke-width="0.1" transform="rotate(-90 6.2 317.0)">% human CD45</text>
<line x1="20.1" y1="350.67999999999995" x2="146.0" y2="350.67999999999995" stroke="#bbb" stroke-width="0.5"/>
<line x1="60.0" y1="276.0" x2="60.0" y2="358.9" stroke="#888" stroke-width="0.8" stroke-dasharray="0.9 0.7"/>
<line x1="104.8" y1="276.0" x2="104.8" y2="358.9" stroke="#888" stroke-width="0.8" stroke-dasharray="0.9 0.7"/>
<text x="40.0" y="280.5" font-size="6.7" text-anchor="middle" font-weight="normal" fill="#111" stroke="#111" stroke-width="0.1">Exp1</text>
<text x="82.3" y="280.5" font-size="6.7" text-anchor="middle" font-weight="normal" fill="#111" stroke="#111" stroke-width="0.1">Exp2</text>
<text x="126.2" y="280.5" font-size="6.7" text-anchor="middle" font-weight="normal" fill="#111" stroke="#111" stroke-width="0.1">Exp3</text>
<line x1="23.6" y1="358.9" x2="23.6" y2="360.5" stroke="#111" stroke-width="0.7"/>
<line x1="33.0" y1="358.9" x2="33.0" y2="360.5" stroke="#111" stroke-width="0.7"/>
<line x1="42.5" y1="358.9" x2="42.5" y2="360.5" stroke="#111" stroke-width="0.7"/>
<line x1="52.0" y1="358.9" x2="52.0" y2="360.5" stroke="#111" stroke-width="0.7"/>
<line x1="67.0" y1="358.9" x2="67.0" y2="360.5" stroke="#111" stroke-width="0.7"/>
<line x1="77.0" y1="358.9" x2="77.0" y2="360.5" stroke="#111" stroke-width="0.7"/>
<line x1="86.8" y1="358.9" x2="86.8" y2="360.5" stroke="#111" stroke-width="0.7"/>
<line x1="96.3" y1="358.9" x2="96.3" y2="360.5" stroke="#111" stroke-width="0.7"/>
<line x1="112.0" y1="358.9" x2="112.0" y2="360.5" stroke="#111" stroke-width="0.7"/>
<line x1="122.0" y1="358.9" x2="122.0" y2="360.5" stroke="#111" stroke-width="0.7"/>
<line x1="131.3" y1="358.9" x2="131.3" y2="360.5" stroke="#111" stroke-width="0.7"/>
<line x1="140.5" y1="358.9" x2="140.5" y2="360.5" stroke="#111" stroke-width="0.7"/>
<circle cx="23.6" cy="334.23999999999995" r="1.5499999999999998" fill="#fff" stroke="#222" stroke-width="0.8"/>
<circle cx="23.6" cy="339.17199999999997" r="1.5499999999999998" fill="#fff" stroke="#222" stroke-width="0.8"/>
<circle cx="23.6" cy="340.816" r="1.5499999999999998" fill="#fff" stroke="#222" stroke-width="0.8"/>
<line x1="22.400000000000002" y1="338.34999999999997" x2="24.8" y2="338.34999999999997" stroke="#111" stroke-width="0.9"/>
<circle cx="33.0" cy="355.20099999999996" r="1.95" fill="#111" stroke="none" stroke-width="0.6"/>
<circle cx="33.0" cy="356.02299999999997" r="1.95" fill="#111" stroke="none" stroke-width="0.6"/>
<circle cx="33.0" cy="356.84499999999997" r="1.95" fill="#111" stroke="none" stroke-width="0.6"/>
<circle cx="33.0" cy="357.256" r="1.95" fill="#111" stroke="none" stroke-width="0.6"/>
<circle cx="33.0" cy="357.9136" r="1.95" fill="#111" stroke="none" stroke-width="0.6"/>
<circle cx="42.5" cy="344.926" r="1.95" fill="#1e3a8c" stroke="none" stroke-width="0.6"/>
<circle cx="42.5" cy="353.96799999999996" r="1.95" fill="#1e3a8c" stroke="none" stroke-width="0.6"/>
<circle cx="42.5" cy="354.78999999999996" r="1.95" fill="#1e3a8c" stroke="none" stroke-width="0.6"/>
<circle cx="42.5" cy="355.61199999999997" r="1.95" fill="#1e3a8c" stroke="none" stroke-width="0.6"/>
<circle cx="42.5" cy="356.43399999999997" r="1.95" fill="#1e3a8c" stroke="none" stroke-width="0.6"/>
<circle cx="42.5" cy="357.256" r="1.95" fill="#1e3a8c" stroke="none" stroke-width="0.6"/>
<circle cx="52.0" cy="345.748" r="1.95" fill="#8a1f1f" stroke="none" stroke-width="0.6"/>
<circle cx="52.0" cy="350.67999999999995" r="1.95" fill="#8a1f1f" stroke="none" stroke-width="0.6"/>
<circle cx="52.0" cy="352.32399999999996" r="1.95" fill="#8a1f1f" stroke="none" stroke-width="0.6"/>
<circle cx="52.0" cy="353.96799999999996" r="1.95" fill="#8a1f1f" stroke="none" stroke-width="0.6"/>
<circle cx="52.0" cy="355.61199999999997" r="1.95" fill="#8a1f1f" stroke="none" stroke-width="0.6"/>
<circle cx="52.0" cy="357.256" r="1.95" fill="#8a1f1f" stroke="none" stroke-width="0.6"/>
<circle cx="67.0" cy="334.65099999999995" r="1.5499999999999998" fill="#fff" stroke="#222" stroke-width="0.8"/>
<circle cx="67.0" cy="335.88399999999996" r="1.5499999999999998" fill="#fff" stroke="#222" stroke-width="0.8"/>
<circle cx="67.0" cy="345.748" r="1.5499999999999998" fill="#fff" stroke="#222" stroke-width="0.8"/>
<circle cx="67.0" cy="350.67999999999995" r="1.5499999999999998" fill="#fff" stroke="#222" stroke-width="0.8"/>
<line x1="65.8" y1="342.46" x2="68.2" y2="342.46" stroke="#111" stroke-width="0.9"/>
<circle cx="77.0" cy="349.85799999999995" r="1.95" fill="#111" stroke="none" stroke-width="0.6"/>
<circle cx="77.0" cy="353.96799999999996" r="1.95" fill="#111" stroke="none" stroke-width="0.6"/>
<circle cx="86.8" cy="337.52799999999996" r="1.95" fill="#1e3a8c" stroke="none" stroke-width="0.6"/>
<circle cx="86.8" cy="349.85799999999995" r="1.95" fill="#1e3a8c" stroke="none" stroke-width="0.6"/>
<circle cx="86.8" cy="351.50199999999995" r="1.95" fill="#1e3a8c" stroke="none" stroke-width="0.6"/>
<circle cx="86.8" cy="353.14599999999996" r="1.95" fill="#1e3a8c" stroke="none" stroke-width="0.6"/>
<circle cx="86.8" cy="354.78999999999996" r="1.95" fill="#1e3a8c" stroke="none" stroke-width="0.6"/>
<circle cx="86.8" cy="356.43399999999997" r="1.95" fill="#1e3a8c" stroke="none" stroke-width="0.6"/>
<circle cx="96.3" cy="344.104" r="1.95" fill="#8a1f1f" stroke="none" stroke-width="0.6"/>
<circle cx="96.3" cy="345.748" r="1.95" fill="#8a1f1f" stroke="none" stroke-width="0.6"/>
<circle cx="96.3" cy="347.392" r="1.95" fill="#8a1f1f" stroke="none" stroke-width="0.6"/>
<circle cx="96.3" cy="349.036" r="1.95" fill="#8a1f1f" stroke="none" stroke-width="0.6"/>
<circle cx="96.3" cy="353.96799999999996" r="1.95" fill="#8a1f1f" stroke="none" stroke-width="0.6"/>
<circle cx="96.3" cy="356.43399999999997" r="1.95" fill="#8a1f1f" stroke="none" stroke-width="0.6"/>
<circle cx="112.0" cy="305.46999999999997" r="1.5499999999999998" fill="#fff" stroke="#222" stroke-width="0.8"/>
<circle cx="112.0" cy="326.02" r="1.5499999999999998" fill="#fff" stroke="#222" stroke-width="0.8"/>
<circle cx="112.0" cy="328.486" r="1.5499999999999998" fill="#fff" stroke="#222" stroke-width="0.8"/>
<circle cx="112.0" cy="341.638" r="1.5499999999999998" fill="#fff" stroke="#222" stroke-width="0.8"/>
<circle cx="112.0" cy="357.256" r="1.5499999999999998" fill="#fff" stroke="#222" stroke-width="0.8"/>
<line x1="110.8" y1="330.952" x2="113.2" y2="330.952" stroke="#111" stroke-width="0.9"/>
<circle cx="122.0" cy="352.73499999999996" r="1.95" fill="#111" stroke="none" stroke-width="0.6"/>
<circle cx="122.0" cy="353.96799999999996" r="1.95" fill="#111" stroke="none" stroke-width="0.6"/>
<circle cx="122.0" cy="354.78999999999996" r="1.95" fill="#111" stroke="none" stroke-width="0.6"/>
<circle cx="122.0" cy="355.20099999999996" r="1.95" fill="#111" stroke="none" stroke-width="0.6"/>
<circle cx="131.3" cy="340.816" r="1.95" fill="#1e3a8c" stroke="none" stroke-width="0.6"/>
<circle cx="131.3" cy="347.392" r="1.95" fill="#1e3a8c" stroke="none" stroke-width="0.6"/>
<circle cx="131.3" cy="352.32399999999996" r="1.95" fill="#1e3a8c" stroke="none" stroke-width="0.6"/>
<circle cx="131.3" cy="354.78999999999996" r="1.95" fill="#1e3a8c" stroke="none" stroke-width="0.6"/>
<circle cx="140.5" cy="330.13" r="1.95" fill="#8a1f1f" stroke="none" stroke-width="0.6"/>
<circle cx="140.5" cy="340.816" r="1.95" fill="#8a1f1f" stroke="none" stroke-width="0.6"/>
<circle cx="140.5" cy="342.46" r="1.95" fill="#8a1f1f" stroke="none" stroke-width="0.6"/>
<circle cx="140.5" cy="349.85799999999995" r="1.95" fill="#8a1f1f" stroke="none" stroke-width="0.6"/>
<text x="25.200000000000003" y="365.9" font-size="6.7" text-anchor="end" font-weight="normal" fill="#111" stroke="#111" stroke-width="0.1" transform="rotate(-45 25.200000000000003 365.9)">Fresh</text>
<text x="34.6" y="365.9" font-size="6.7" text-anchor="end" font-weight="normal" fill="#111" stroke="#111" stroke-width="0.1" transform="rotate(-45 34.6 365.9)">SCF</text>
<text x="44.1" y="365.9" font-size="6.7" text-anchor="end" font-weight="normal" fill="#111" stroke="#111" stroke-width="0.1" transform="rotate(-45 44.1 365.9)">SCF + TPO</text>
<text x="53.6" y="365.9" font-size="6.7" text-anchor="end" font-weight="normal" fill="#111" stroke="#111" stroke-width="0.1" transform="rotate(-45 53.6 365.9)">SCF + CCL28</text>
<text x="68.6" y="365.9" font-size="6.7" text-anchor="end" font-weight="normal" fill="#111" stroke="#111" stroke-width="0.1" transform="rotate(-45 68.6 365.9)">Fresh</text>
<text x="78.6" y="365.9" font-size="6.7" text-anchor="end" font-weight="normal" fill="#111" stroke="#111" stroke-width="0.1" transform="rotate(-45 78.6 365.9)">SCF</text>
<text x="88.39999999999999" y="365.9" font-size="6.7" text-anchor="end" font-weight="normal" fill="#111" stroke="#111" stroke-width="0.1" transform="rotate(-45 88.39999999999999 365.9)">SCF + TPO</text>
<text x="97.89999999999999" y="365.9" font-size="6.7" text-anchor="end" font-weight="normal" fill="#111" stroke="#111" stroke-width="0.1" transform="rotate(-45 97.89999999999999 365.9)">SCF + CCL28</text>
<text x="113.6" y="365.9" font-size="6.7" text-anchor="end" font-weight="normal" fill="#111" stroke="#111" stroke-width="0.1" transform="rotate(-45 113.6 365.9)">Fresh</text>
<text x="123.6" y="365.9" font-size="6.7" text-anchor="end" font-weight="normal" fill="#111" stroke="#111" stroke-width="0.1" transform="rotate(-45 123.6 365.9)">SCF</text>
<text x="132.9" y="365.9" font-size="6.7" text-anchor="end" font-weight="normal" fill="#111" stroke="#111" stroke-width="0.1" transform="rotate(-45 132.9 365.9)">SCF + TPO</text>
<text x="142.1" y="365.9" font-size="6.7" text-anchor="end" font-weight="normal" fill="#111" stroke="#111" stroke-width="0.1" transform="rotate(-45 142.1 365.9)">SCF + CCL28</text>
<text x="159.4" y="258.4" font-size="11.4" font-weight="bold" fill="#000" stroke="#000" stroke-width="0.35">I</text>
<text x="240.3" y="265.7" font-size="7.9" text-anchor="middle" font-weight="normal" fill="#111" stroke="#111" stroke-width="0.1">4 months</text>
<line x1="177.7" y1="276.7" x2="177.7" y2="359.2" stroke="#111" stroke-width="0.8"/>
<line x1="177.7" y1="358.9" x2="303.0" y2="358.9" stroke="#111" stroke-width="0.8"/>
<line x1="175.89999999999998" y1="358.9" x2="177.7" y2="358.9" stroke="#111" stroke-width="0.7"/>
<text x="175.39999999999998" y="361.2" font-size="6.4" text-anchor="end" font-weight="normal" fill="#111" stroke="#111" stroke-width="0.1">0</text>
<line x1="175.89999999999998" y1="342.46" x2="177.7" y2="342.46" stroke="#111" stroke-width="0.7"/>
<text x="175.39999999999998" y="344.76" font-size="6.4" text-anchor="end" font-weight="normal" fill="#111" stroke="#111" stroke-width="0.1">20</text>
<line x1="175.89999999999998" y1="326.02" x2="177.7" y2="326.02" stroke="#111" stroke-width="0.7"/>
<text x="175.39999999999998" y="328.32" font-size="6.4" text-anchor="end" font-weight="normal" fill="#111" stroke="#111" stroke-width="0.1">40</text>
<line x1="175.89999999999998" y1="309.58" x2="177.7" y2="309.58" stroke="#111" stroke-width="0.7"/>
<text x="175.39999999999998" y="311.88" font-size="6.4" text-anchor="end" font-weight="normal" fill="#111" stroke="#111" stroke-width="0.1">60</text>
<line x1="175.89999999999998" y1="293.14" x2="177.7" y2="293.14" stroke="#111" stroke-width="0.7"/>
<text x="175.39999999999998" y="295.44" font-size="6.4" text-anchor="end" font-weight="normal" fill="#111" stroke="#111" stroke-width="0.1">80</text>
<line x1="175.89999999999998" y1="276.7" x2="177.7" y2="276.7" stroke="#111" stroke-width="0.7"/>
<text x="175.39999999999998" y="279.0" font-size="6.4" text-anchor="end" font-weight="normal" fill="#111" stroke="#111" stroke-width="0.1">100</text>
<text x="164.3" y="317.0" font-size="6.6" text-anchor="middle" font-weight="normal" fill="#111" stroke="#111" stroke-width="0.1" transform="rotate(-90 164.3 317.0)">% human CD45</text>
<line x1="217.4" y1="276.0" x2="217.4" y2="358.9" stroke="#888" stroke-width="0.8" stroke-dasharray="0.9 0.7"/>
<line x1="262.4" y1="276.0" x2="262.4" y2="358.9" stroke="#888" stroke-width="0.8" stroke-dasharray="0.9 0.7"/>
<text x="197.6" y="280.5" font-size="6.7" text-anchor="middle" font-weight="normal" fill="#111" stroke="#111" stroke-width="0.1">Exp1</text>
<text x="240.4" y="280.5" font-size="6.7" text-anchor="middle" font-weight="normal" fill="#111" stroke="#111" stroke-width="0.1">Exp2</text>
<text x="284.2" y="280.5" font-size="6.7" text-anchor="middle" font-weight="normal" fill="#111" stroke="#111" stroke-width="0.1">Exp3</text>
<line x1="181.3" y1="358.9" x2="181.3" y2="360.5" stroke="#111" stroke-width="0.7"/>
<line x1="190.0" y1="358.9" x2="190.0" y2="360.5" stroke="#111" stroke-width="0.7"/>
<line x1="200.0" y1="358.9" x2="200.0" y2="360.5" stroke="#111" stroke-width="0.7"/>
<line x1="209.5" y1="358.9" x2="209.5" y2="360.5" stroke="#111" stroke-width="0.7"/>
<line x1="224.5" y1="358.9" x2="224.5" y2="360.5" stroke="#111" stroke-width="0.7"/>
<line x1="234.5" y1="358.9" x2="234.5" y2="360.5" stroke="#111" stroke-width="0.7"/>
<line x1="244.5" y1="358.9" x2="244.5" y2="360.5" stroke="#111" stroke-width="0.7"/>
<line x1="253.8" y1="358.9" x2="253.8" y2="360.5" stroke="#111" stroke-width="0.7"/>
<line x1="270.0" y1="358.9" x2="270.0" y2="360.5" stroke="#111" stroke-width="0.7"/>
<line x1="279.5" y1="358.9" x2="279.5" y2="360.5" stroke="#111" stroke-width="0.7"/>
<line x1="288.8" y1="358.9" x2="288.8" y2="360.5" stroke="#111" stroke-width="0.7"/>
<line x1="298.8" y1="358.9" x2="298.8" y2="360.5" stroke="#111" stroke-width="0.7"/>
<circle cx="181.3" cy="342.46" r="1.5499999999999998" fill="#fff" stroke="#222" stroke-width="0.8"/>
<circle cx="181.3" cy="344.926" r="1.5499999999999998" fill="#fff" stroke="#222" stroke-width="0.8"/>
<circle cx="181.3" cy="353.96799999999996" r="1.5499999999999998" fill="#fff" stroke="#222" stroke-width="0.8"/>
<line x1="180.10000000000002" y1="346.57" x2="182.5" y2="346.57" stroke="#111" stroke-width="0.9"/>
<circle cx="190.0" cy="330.952" r="1.95" fill="#111" stroke="none" stroke-width="0.6"/>
<circle cx="190.0" cy="355.61199999999997" r="1.95" fill="#111" stroke="none" stroke-width="0.6"/>
<circle cx="190.0" cy="356.43399999999997" r="1.95" fill="#111" stroke="none" stroke-width="0.6"/>
<circle cx="190.0" cy="357.256" r="1.95" fill="#111" stroke="none" stroke-width="0.6"/>
<circle cx="190.0" cy="357.9136" r="1.95" fill="#111" stroke="none" stroke-width="0.6"/>
<circle cx="190.0" cy="358.489" r="1.95" fill="#111" stroke="none" stroke-width="0.6"/>
<line x1="188.6" y1="350.67999999999995" x2="191.4" y2="350.67999999999995" stroke="#111" stroke-width="0.9"/>
<circle cx="200.0" cy="312.046" r="1.95" fill="#1e3a8c" stroke="none" stroke-width="0.6"/>
<circle cx="200.0" cy="313.69" r="1.95" fill="#1e3a8c" stroke="none" stroke-width="0.6"/>
<circle cx="200.0" cy="315.334" r="1.95" fill="#1e3a8c" stroke="none" stroke-width="0.6"/>
<circle cx="200.0" cy="318.62199999999996" r="1.95" fill="#1e3a8c" stroke="none" stroke-width="0.6"/>
<circle cx="200.0" cy="349.036" r="1.95" fill="#1e3a8c" stroke="none" stroke-width="0.6"/>
<circle cx="200.0" cy="351.50199999999995" r="1.95" fill="#1e3a8c" stroke="none" stroke-width="0.6"/>
<line x1="198.6" y1="329.308" x2="201.4" y2="329.308" stroke="#111" stroke-width="0.9"/>
<circle cx="209.5" cy="317.79999999999995" r="1.95" fill="#8a1f1f" stroke="none" stroke-width="0.6"/>
<circle cx="209.5" cy="329.308" r="1.95" fill="#8a1f1f" stroke="none" stroke-width="0.6"/>
<circle cx="209.5" cy="330.952" r="1.95" fill="#8a1f1f" stroke="none" stroke-width="0.6"/>
<circle cx="209.5" cy="337.52799999999996" r="1.95" fill="#8a1f1f" stroke="none" stroke-width="0.6"/>
<line x1="208.3" y1="328.897" x2="210.7" y2="328.897" stroke="#111" stroke-width="0.9"/>
<circle cx="224.5" cy="340.816" r="1.5499999999999998" fill="#fff" stroke="#222" stroke-width="0.8"/>
<circle cx="224.5" cy="344.104" r="1.5499999999999998" fill="#fff" stroke="#222" stroke-width="0.8"/>
<circle cx="224.5" cy="346.57" r="1.5499999999999998" fill="#fff" stroke="#222" stroke-width="0.8"/>
<circle cx="224.5" cy="350.67999999999995" r="1.5499999999999998" fill="#fff" stroke="#222" stroke-width="0.8"/>
<line x1="223.3" y1="345.748" x2="225.7" y2="345.748" stroke="#111" stroke-width="0.9"/>
<circle cx="234.5" cy="346.57" r="1.95" fill="#111" stroke="none" stroke-width="0.6"/>
<circle cx="234.5" cy="348.214" r="1.95" fill="#111" stroke="none" stroke-width="0.6"/>
<circle cx="234.5" cy="349.858" r="1.95" fill="#111" stroke="none" stroke-width="0.6"/>
<circle cx="234.5" cy="351.50199999999995" r="1.95" fill="#111" stroke="none" stroke-width="0.6"/>
<circle cx="234.5" cy="353.96799999999996" r="1.95" fill="#111" stroke="none" stroke-width="0.6"/>
<circle cx="244.5" cy="323.554" r="1.95" fill="#1e3a8c" stroke="none" stroke-width="0.6"/>
<circle cx="244.5" cy="327.664" r="1.95" fill="#1e3a8c" stroke="none" stroke-width="0.6"/>
<circle cx="244.5" cy="332.596" r="1.95" fill="#1e3a8c" stroke="none" stroke-width="0.6"/>
<circle cx="244.5" cy="344.926" r="1.95" fill="#1e3a8c" stroke="none" stroke-width="0.6"/>
<circle cx="244.5" cy="350.67999999999995" r="1.95" fill="#1e3a8c" stroke="none" stroke-width="0.6"/>
<line x1="243.1" y1="335.88399999999996" x2="245.9" y2="335.88399999999996" stroke="#111" stroke-width="0.9"/>
<circle cx="253.8" cy="327.664" r="1.95" fill="#8a1f1f" stroke="none" stroke-width="0.6"/>
<circle cx="253.8" cy="333.418" r="1.95" fill="#8a1f1f" stroke="none" stroke-width="0.6"/>
<circle cx="253.8" cy="338.34999999999997" r="1.95" fill="#8a1f1f" stroke="none" stroke-width="0.6"/>
<circle cx="253.8" cy="340.816" r="1.95" fill="#8a1f1f" stroke="none" stroke-width="0.6"/>
<circle cx="253.8" cy="347.392" r="1.95" fill="#8a1f1f" stroke="none" stroke-width="0.6"/>
<line x1="252.60000000000002" y1="337.52799999999996" x2="255.0" y2="337.52799999999996" stroke="#111" stroke-width="0.9"/>
<circle cx="270.0" cy="309.58" r="1.5499999999999998" fill="#fff" stroke="#222" stroke-width="0.8"/>
<circle cx="270.0" cy="327.664" r="1.5499999999999998" fill="#fff" stroke="#222" stroke-width="0.8"/>
<circle cx="270.0" cy="335.88399999999996" r="1.5499999999999998" fill="#fff" stroke="#222" stroke-width="0.8"/>
<circle cx="270.0" cy="344.104" r="1.5499999999999998" fill="#fff" stroke="#222" stroke-width="0.8"/>
<circle cx="270.0" cy="358.489" r="1.5499999999999998" fill="#fff" stroke="#222" stroke-width="0.8"/>
<line x1="268.8" y1="335.06199999999995" x2="271.2" y2="335.06199999999995" stroke="#111" stroke-width="0.9"/>
<circle cx="279.5" cy="332.596" r="1.95" fill="#111" stroke="none" stroke-width="0.6"/>
<circle cx="279.5" cy="334.23999999999995" r="1.95" fill="#111" stroke="none" stroke-width="0.6"/>
<circle cx="279.5" cy="350.67999999999995" r="1.95" fill="#111" stroke="none" stroke-width="0.6"/>
<line x1="278.1" y1="339.17199999999997" x2="280.9" y2="339.17199999999997" stroke="#111" stroke-width="0.9"/>
<circle cx="288.8" cy="324.376" r="1.95" fill="#1e3a8c" stroke="none" stroke-width="0.6"/>
<circle cx="288.8" cy="335.06199999999995" r="1.95" fill="#1e3a8c" stroke="none" stroke-width="0.6"/>
<circle cx="288.8" cy="336.70599999999996" r="1.95" fill="#1e3a8c" stroke="none" stroke-width="0.6"/>
<circle cx="288.8" cy="345.748" r="1.95" fill="#1e3a8c" stroke="none" stroke-width="0.6"/>
<line x1="287.6" y1="335.88399999999996" x2="290.0" y2="335.88399999999996" stroke="#111" stroke-width="0.9"/>
<circle cx="298.8" cy="303.00399999999996" r="1.95" fill="#8a1f1f" stroke="none" stroke-width="0.6"/>
<circle cx="298.8" cy="304.64799999999997" r="1.95" fill="#8a1f1f" stroke="none" stroke-width="0.6"/>
<circle cx="298.8" cy="324.376" r="1.95" fill="#8a1f1f" stroke="none" stroke-width="0.6"/>
<circle cx="298.8" cy="334.23999999999995" r="1.95" fill="#8a1f1f" stroke="none" stroke-width="0.6"/>
<line x1="297.40000000000003" y1="316.15599999999995" x2="300.2" y2="316.15599999999995" stroke="#111" stroke-width="0.9"/>
<text x="182.9" y="365.9" font-size="6.7" text-anchor="end" font-weight="normal" fill="#111" stroke="#111" stroke-width="0.1" transform="rotate(-45 182.9 365.9)">Fresh</text>
<text x="191.6" y="365.9" font-size="6.7" text-anchor="end" font-weight="normal" fill="#111" stroke="#111" stroke-width="0.1" transform="rotate(-45 191.6 365.9)">SCF</text>
<text x="201.6" y="365.9" font-size="6.7" text-anchor="end" font-weight="normal" fill="#111" stroke="#111" stroke-width="0.1" transform="rotate(-45 201.6 365.9)">SCF + TPO</text>
<text x="211.1" y="365.9" font-size="6.7" text-anchor="end" font-weight="normal" fill="#111" stroke="#111" stroke-width="0.1" transform="rotate(-45 211.1 365.9)">SCF + CCL28</text>
<text x="226.1" y="365.9" font-size="6.7" text-anchor="end" font-weight="normal" fill="#111" stroke="#111" stroke-width="0.1" transform="rotate(-45 226.1 365.9)">Fresh</text>
<text x="236.1" y="365.9" font-size="6.7" text-anchor="end" font-weight="normal" fill="#111" stroke="#111" stroke-width="0.1" transform="rotate(-45 236.1 365.9)">SCF</text>
<text x="246.1" y="365.9" font-size="6.7" text-anchor="end" font-weight="normal" fill="#111" stroke="#111" stroke-width="0.1" transform="rotate(-45 246.1 365.9)">SCF + TPO</text>
<text x="255.4" y="365.9" font-size="6.7" text-anchor="end" font-weight="normal" fill="#111" stroke="#111" stroke-width="0.1" transform="rotate(-45 255.4 365.9)">SCF + CCL28</text>
<text x="271.6" y="365.9" font-size="6.7" text-anchor="end" font-weight="normal" fill="#111" stroke="#111" stroke-width="0.1" transform="rotate(-45 271.6 365.9)">Fresh</text>
<text x="281.1" y="365.9" font-size="6.7" text-anchor="end" font-weight="normal" fill="#111" stroke="#111" stroke-width="0.1" transform="rotate(-45 281.1 365.9)">SCF</text>
<text x="290.40000000000003" y="365.9" font-size="6.7" text-anchor="end" font-weight="normal" fill="#111" stroke="#111" stroke-width="0.1" transform="rotate(-45 290.40000000000003 365.9)">SCF + TPO</text>
<text x="300.40000000000003" y="365.9" font-size="6.7" text-anchor="end" font-weight="normal" fill="#111" stroke="#111" stroke-width="0.1" transform="rotate(-45 300.40000000000003 365.9)">SCF + CCL28</text>
<text x="316.0" y="258.4" font-size="11.4" font-weight="bold" fill="#000" stroke="#000" stroke-width="0.35">J</text>
<line x1="336.3" y1="276.7" x2="336.3" y2="359.2" stroke="#111" stroke-width="0.8"/>
<line x1="336.3" y1="358.9" x2="390.0" y2="358.9" stroke="#111" stroke-width="0.8"/>
<line x1="334.5" y1="358.9" x2="336.3" y2="358.9" stroke="#111" stroke-width="0.7"/>
<text x="334.0" y="361.2" font-size="6.4" text-anchor="end" font-weight="normal" fill="#111" stroke="#111" stroke-width="0.1">0</text>
<line x1="334.5" y1="342.46" x2="336.3" y2="342.46" stroke="#111" stroke-width="0.7"/>
<text x="334.0" y="344.76" font-size="6.4" text-anchor="end" font-weight="normal" fill="#111" stroke="#111" stroke-width="0.1">20</text>
<line x1="334.5" y1="326.02" x2="336.3" y2="326.02" stroke="#111" stroke-width="0.7"/>
<text x="334.0" y="328.32" font-size="6.4" text-anchor="end" font-weight="normal" fill="#111" stroke="#111" stroke-width="0.1">40</text>
<line x1="334.5" y1="309.58" x2="336.3" y2="309.58" stroke="#111" stroke-width="0.7"/>
<text x="334.0" y="311.88" font-size="6.4" text-anchor="end" font-weight="normal" fill="#111" stroke="#111" stroke-width="0.1">60</text>
<line x1="334.5" y1="293.14" x2="336.3" y2="293.14" stroke="#111" stroke-width="0.7"/>
<text x="334.0" y="295.44" font-size="6.4" text-anchor="end" font-weight="normal" fill="#111" stroke="#111" stroke-width="0.1">80</text>
<line x1="334.5" y1="276.7" x2="336.3" y2="276.7" stroke="#111" stroke-width="0.7"/>
<text x="334.0" y="279.0" font-size="6.4" text-anchor="end" font-weight="normal" fill="#111" stroke="#111" stroke-width="0.1">100</text>
<text x="323.8" y="317.0" font-size="6.6" text-anchor="middle" font-weight="normal" fill="#111" stroke="#111" stroke-width="0.1" transform="rotate(-90 323.8 317.0)">% human CD45</text>
<rect x="338.4" y="342.46" width="9.5" height="16.439999999999998" fill="#fff" stroke="#111" stroke-width="0.8"/>
<line x1="343.15" y1="342.46" x2="343.15" y2="339.17199999999997" stroke="#111" stroke-width="0.8"/>
<line x1="340.95" y1="339.17199999999997" x2="345.34999999999997" y2="339.17199999999997" stroke="#111" stroke-width="0.8"/>
<line x1="343.15" y1="358.9" x2="343.15" y2="360.5" stroke="#111" stroke-width="0.7"/>
<rect x="352.3" y="346.57" width="9.599999999999966" height="12.329999999999984" fill="#111" stroke="#111" stroke-width="0.8"/>
<line x1="357.1" y1="346.57" x2="357.1" y2="342.46" stroke="#111" stroke-width="0.8"/>
<line x1="354.90000000000003" y1="342.46" x2="359.3" y2="342.46" stroke="#111" stroke-width="0.8"/>
<line x1="357.1" y1="358.9" x2="357.1" y2="360.5" stroke="#111" stroke-width="0.7"/>
<rect x="366.6" y="333.418" width="9.299999999999955" height="25.48199999999997" fill="#1f3cb0" stroke="#111" stroke-width="0.8"/>
<line x1="371.25" y1="333.418" x2="371.25" y2="331.774" stroke="#111" stroke-width="0.8"/>
<line x1="369.05" y1="331.774" x2="373.45" y2="331.774" stroke="#111" stroke-width="0.8"/>
<line x1="371.25" y1="358.9" x2="371.25" y2="360.5" stroke="#111" stroke-width="0.7"/>
<rect x="380.2" y="327.664" width="9.400000000000034" height="31.23599999999999" fill="#b11e1e" stroke="#111" stroke-width="0.8"/>
<line x1="384.9" y1="327.664" x2="384.9" y2="321.08799999999997" stroke="#111" stroke-width="0.8"/>
<line x1="382.7" y1="321.08799999999997" x2="387.09999999999997" y2="321.08799999999997" stroke="#111" stroke-width="0.8"/>
<line x1="384.9" y1="358.9" x2="384.9" y2="360.5" stroke="#111" stroke-width="0.7"/>
<path d="M343.0,283.7 L343.0,281.3 L384.5,281.3 L384.5,283.7" stroke="#111" stroke-width="0.7" fill="none"/>
<text x="363.75" y="282.2" font-size="8.0" text-anchor="middle" font-weight="bold" fill="#111" stroke="#111" stroke-width="0.05">*</text>
<path d="M343.0,291.7 L343.0,289.3 L370.5,289.3 L370.5,291.7" stroke="#111" stroke-width="0.7" fill="none"/>
<text x="356.75" y="287.8" font-size="6.4" text-anchor="middle" font-weight="normal" fill="#111" stroke="#111" stroke-width="0.1">ns</text>
<path d="M343.0,299.9 L343.0,297.5 L357.0,297.5 L357.0,299.9" stroke="#111" stroke-width="0.7" fill="none"/>
<text x="350.0" y="298.4" font-size="8.0" text-anchor="middle" font-weight="bold" fill="#111" stroke="#111" stroke-width="0.05">**</text>
<path d="M357.0,313.7 L357.0,311.3 L384.5,311.3 L384.5,313.7" stroke="#111" stroke-width="0.7" fill="none"/>
<text x="370.75" y="312.2" font-size="8.0" text-anchor="middle" font-weight="bold" fill="#111" stroke="#111" stroke-width="0.05">*</text>
<path d="M357.0,321.9 L357.0,319.5 L370.5,319.5 L370.5,321.9" stroke="#111" stroke-width="0.7" fill="none"/>
<text x="363.75" y="318.0" font-size="6.4" text-anchor="middle" font-weight="normal" fill="#111" stroke="#111" stroke-width="0.1">ns</text>
<text x="344.75" y="365.9" font-size="6.7" text-anchor="end" font-weight="normal" fill="#111" stroke="#111" stroke-width="0.1" transform="rotate(-45 344.75 365.9)">Fresh</text>
<text x="358.70000000000005" y="365.9" font-size="6.7" text-anchor="end" font-weight="normal" fill="#111" stroke="#111" stroke-width="0.1" transform="rotate(-45 358.70000000000005 365.9)">SCF</text>
<text x="372.85" y="365.9" font-size="6.7" text-anchor="end" font-weight="normal" fill="#111" stroke="#111" stroke-width="0.1" transform="rotate(-45 372.85 365.9)">SCF + TPO</text>
<text x="386.5" y="365.9" font-size="6.7" text-anchor="end" font-weight="normal" fill="#111" stroke="#111" stroke-width="0.1" transform="rotate(-45 386.5 365.9)">SCF + CCL28</text>
<text x="405.1" y="258.4" font-size="11.4" font-weight="bold" fill="#000" stroke="#000" stroke-width="0.35">K</text>
<text x="452.6" y="266.9" font-size="7.6" text-anchor="middle" font-weight="normal" fill="#111" stroke="#111" stroke-width="0.1">CD19</text>
<line x1="430.0" y1="269.3" x2="470.4" y2="269.3" stroke="#111" stroke-width="0.8"/>
<text x="495.0" y="266.9" font-size="7.6" text-anchor="middle" font-weight="normal" fill="#111" stroke="#111" stroke-width="0.1">CD15/33</text>
<line x1="474.3" y1="269.3" x2="514.2" y2="269.3" stroke="#111" stroke-width="0.8"/>
<line x1="426.8" y1="275.3" x2="426.8" y2="313.4" stroke="#111" stroke-width="0.8"/>
<line x1="426.8" y1="320.8" x2="426.8" y2="358.9" stroke="#111" stroke-width="0.8"/>
<line x1="425.0" y1="313.4" x2="428.6" y2="313.4" stroke="#111" stroke-width="0.8"/>
<line x1="425.0" y1="320.8" x2="428.6" y2="320.8" stroke="#111" stroke-width="0.8"/>
<line x1="426.8" y1="358.8" x2="520" y2="358.8" stroke="#111" stroke-width="0.8"/>
<line x1="425.0" y1="309.204" x2="426.8" y2="309.204" stroke="#111" stroke-width="0.7"/>
<text x="423.5" y="311.504" font-size="6.4" text-anchor="end" font-weight="normal" fill="#111" stroke="#111" stroke-width="0.1">20</text>
<line x1="425.0" y1="300.728" x2="426.8" y2="300.728" stroke="#111" stroke-width="0.7"/>
<text x="423.5" y="303.028" font-size="6.4" text-anchor="end" font-weight="normal" fill="#111" stroke="#111" stroke-width="0.1">40</text>
<line x1="425.0" y1="292.252" x2="426.8" y2="292.252" stroke="#111" stroke-width="0.7"/>
<text x="423.5" y="294.552" font-size="6.4" text-anchor="end" font-weight="normal" fill="#111" stroke="#111" stroke-width="0.1">60</text>
<line x1="425.0" y1="283.776" x2="426.8" y2="283.776" stroke="#111" stroke-width="0.7"/>
<text x="423.5" y="286.076" font-size="6.4" text-anchor="end" font-weight="normal" fill="#111" stroke="#111" stroke-width="0.1">80</text>
<line x1="425.0" y1="275.3" x2="426.8" y2="275.3" stroke="#111" stroke-width="0.7"/>
<text x="423.5" y="277.6" font-size="6.4" text-anchor="end" font-weight="normal" fill="#111" stroke="#111" stroke-width="0.1">100</text>
<line x1="425.0" y1="358.8" x2="426.8" y2="358.8" stroke="#111" stroke-width="0.7"/>
<text x="423.5" y="361.1" font-size="6.4" text-anchor="end" font-weight="normal" fill="#111" stroke="#111" stroke-width="0.1">0</text>
<line x1="425.0" y1="351.2" x2="426.8" y2="351.2" stroke="#111" stroke-width="0.7"/>
<text x="423.5" y="353.5" font-size="6.4" text-anchor="end" font-weight="normal" fill="#111" stroke="#111" stroke-width="0.1">2</text>
<line x1="425.0" y1="343.6" x2="426.8" y2="343.6" stroke="#111" stroke-width="0.7"/>
<text x="423.5" y="345.90000000000003" font-size="6.4" text-anchor="end" font-weight="normal" fill="#111" stroke="#111" stroke-width="0.1">4</text>
<line x1="425.0" y1="336.0" x2="426.8" y2="336.0" stroke="#111" stroke-width="0.7"/>
<text x="423.5" y="338.3" font-size="6.4" text-anchor="end" font-weight="normal" fill="#111" stroke="#111" stroke-width="0.1">6</text>
<line x1="425.0" y1="328.40000000000003" x2="426.8" y2="328.40000000000003" stroke="#111" stroke-width="0.7"/>
<text x="423.5" y="330.70000000000005" font-size="6.4" text-anchor="end" font-weight="normal" fill="#111" stroke="#111" stroke-width="0.1">8</text>
<line x1="425.0" y1="320.8" x2="426.8" y2="320.8" stroke="#111" stroke-width="0.7"/>
<text x="423.5" y="323.1" font-size="6.4" text-anchor="end" font-weight="normal" fill="#111" stroke="#111" stroke-width="0.1">10</text>
<text x="412.6" y="315.5" font-size="6.9" text-anchor="middle" font-weight="normal" fill="#111" stroke="#111" stroke-width="0.1" transform="rotate(-90 412.6 315.5)">Percentage within CD45+</text>
<line x1="432.3" y1="358.8" x2="432.3" y2="360.4" stroke="#111" stroke-width="0.7"/>
<line x1="443.4" y1="358.8" x2="443.4" y2="360.4" stroke="#111" stroke-width="0.7"/>
<line x1="455.0" y1="358.8" x2="455.0" y2="360.4" stroke="#111" stroke-width="0.7"/>
<line x1="466.5" y1="358.8" x2="466.5" y2="360.4" stroke="#111" stroke-width="0.7"/>
<line x1="478.0" y1="358.8" x2="478.0" y2="360.4" stroke="#111" stroke-width="0.7"/>
<line x1="488.8" y1="358.8" x2="488.8" y2="360.4" stroke="#111" stroke-width="0.7"/>
<line x1="500.4" y1="358.8" x2="500.4" y2="360.4" stroke="#111" stroke-width="0.7"/>
<line x1="512.0" y1="358.8" x2="512.0" y2="360.4" stroke="#111" stroke-width="0.7"/>
<circle cx="432.3" cy="276.57140000000004" r="1.5499999999999998" fill="#fff" stroke="#222" stroke-width="0.8"/>
<circle cx="432.3" cy="277.8428" r="1.5499999999999998" fill="#fff" stroke="#222" stroke-width="0.8"/>
<circle cx="432.3" cy="279.11420000000004" r="1.5499999999999998" fill="#fff" stroke="#222" stroke-width="0.8"/>
<circle cx="432.3" cy="280.3856" r="1.5499999999999998" fill="#fff" stroke="#222" stroke-width="0.8"/>
<circle cx="432.3" cy="281.65700000000004" r="1.5499999999999998" fill="#fff" stroke="#222" stroke-width="0.8"/>
<circle cx="432.3" cy="282.9284" r="1.5499999999999998" fill="#fff" stroke="#222" stroke-width="0.8"/>
<circle cx="432.3" cy="284.19980000000004" r="1.5499999999999998" fill="#fff" stroke="#222" stroke-width="0.8"/>
<circle cx="432.3" cy="285.4712" r="1.5499999999999998" fill="#fff" stroke="#222" stroke-width="0.8"/>
<circle cx="432.3" cy="286.74260000000004" r="1.5499999999999998" fill="#fff" stroke="#222" stroke-width="0.8"/>
<line x1="428.3" y1="281.65700000000004" x2="436.3" y2="281.65700000000004" stroke="#111" stroke-width="0.9"/>
<circle cx="443.4" cy="277.41900000000004" r="1.95" fill="#111" stroke="none" stroke-width="0.6"/>
<circle cx="443.4" cy="278.6904" r="1.95" fill="#111" stroke="none" stroke-width="0.6"/>
<circle cx="443.4" cy="279.96180000000004" r="1.95" fill="#111" stroke="none" stroke-width="0.6"/>
<circle cx="443.4" cy="281.2332" r="1.95" fill="#111" stroke="none" stroke-width="0.6"/>
<circle cx="443.4" cy="282.50460000000004" r="1.95" fill="#111" stroke="none" stroke-width="0.6"/>
<circle cx="443.4" cy="283.776" r="1.95" fill="#111" stroke="none" stroke-width="0.6"/>
<circle cx="443.4" cy="285.04740000000004" r="1.95" fill="#111" stroke="none" stroke-width="0.6"/>
<circle cx="443.4" cy="286.3188" r="1.95" fill="#111" stroke="none" stroke-width="0.6"/>
<circle cx="443.4" cy="287.59020000000004" r="1.95" fill="#111" stroke="none" stroke-width="0.6"/>
<circle cx="443.4" cy="288.8616" r="1.95" fill="#111" stroke="none" stroke-width="0.6"/>
<circle cx="443.4" cy="308.3564" r="1.95" fill="#111" stroke="none" stroke-width="0.6"/>
<line x1="439.4" y1="285.4712" x2="447.4" y2="285.4712" stroke="#111" stroke-width="0.9"/>
<circle cx="455.0" cy="277.41900000000004" r="1.95" fill="#1e3a8c" stroke="none" stroke-width="0.6"/>
<circle cx="455.0" cy="278.6904" r="1.95" fill="#1e3a8c" stroke="none" stroke-width="0.6"/>
<circle cx="455.0" cy="279.96180000000004" r="1.95" fill="#1e3a8c" stroke="none" stroke-width="0.6"/>
<circle cx="455.0" cy="281.2332" r="1.95" fill="#1e3a8c" stroke="none" stroke-width="0.6"/>
<circle cx="455.0" cy="282.50460000000004" r="1.95" fill="#1e3a8c" stroke="none" stroke-width="0.6"/>
<circle cx="455.0" cy="283.776" r="1.95" fill="#1e3a8c" stroke="none" stroke-width="0.6"/>
<circle cx="455.0" cy="284.6236" r="1.95" fill="#1e3a8c" stroke="none" stroke-width="0.6"/>
<circle cx="455.0" cy="290.5568" r="1.95" fill="#1e3a8c" stroke="none" stroke-width="0.6"/>
<line x1="451.0" y1="282.0808" x2="459.0" y2="282.0808" stroke="#111" stroke-width="0.9"/>
<circle cx="466.5" cy="278.26660000000004" r="1.95" fill="#8a1f1f" stroke="none" stroke-width="0.6"/>
<circle cx="466.5" cy="279.538" r="1.95" fill="#8a1f1f" stroke="none" stroke-width="0.6"/>
<circle cx="466.5" cy="280.80940000000004" r="1.95" fill="#8a1f1f" stroke="none" stroke-width="0.6"/>
<circle cx="466.5" cy="282.0808" r="1.95" fill="#8a1f1f" stroke="none" stroke-width="0.6"/>
<circle cx="466.5" cy="283.35220000000004" r="1.95" fill="#8a1f1f" stroke="none" stroke-width="0.6"/>
<circle cx="466.5" cy="284.6236" r="1.95" fill="#8a1f1f" stroke="none" stroke-width="0.6"/>
<circle cx="466.5" cy="285.89500000000004" r="1.95" fill="#8a1f1f" stroke="none" stroke-width="0.6"/>
<circle cx="466.5" cy="289.7092" r="1.95" fill="#8a1f1f" stroke="none" stroke-width="0.6"/>
<circle cx="466.5" cy="293.0996" r="1.95" fill="#8a1f1f" stroke="none" stroke-width="0.6"/>
<line x1="462.5" y1="282.9284" x2="470.5" y2="282.9284" stroke="#111" stroke-width="0.9"/>
<circle cx="478.0" cy="345.5" r="1.5499999999999998" fill="#fff" stroke="#222" stroke-width="0.8"/>
<circle cx="478.0" cy="347.40000000000003" r="1.5499999999999998" fill="#fff" stroke="#222" stroke-width="0.8"/>
<circle cx="478.0" cy="348.92" r="1.5499999999999998" fill="#fff" stroke="#222" stroke-width="0.8"/>
<circle cx="478.0" cy="350.44" r="1.5499999999999998" fill="#fff" stroke="#222" stroke-width="0.8"/>
<circle cx="478.0" cy="351.96000000000004" r="1.5499999999999998" fill="#fff" stroke="#222" stroke-width="0.8"/>
<circle cx="478.0" cy="353.48" r="1.5499999999999998" fill="#fff" stroke="#222" stroke-width="0.8"/>
<circle cx="478.0" cy="355.0" r="1.5499999999999998" fill="#fff" stroke="#222" stroke-width="0.8"/>
<circle cx="478.0" cy="356.52000000000004" r="1.5499999999999998" fill="#fff" stroke="#222" stroke-width="0.8"/>
<line x1="474.0" y1="351.96000000000004" x2="482.0" y2="351.96000000000004" stroke="#111" stroke-width="0.9"/>
<circle cx="488.8" cy="334.1" r="1.95" fill="#111" stroke="none" stroke-width="0.6"/>
<circle cx="488.8" cy="337.52000000000004" r="1.95" fill="#111" stroke="none" stroke-width="0.6"/>
<circle cx="488.8" cy="340.18" r="1.95" fill="#111" stroke="none" stroke-width="0.6"/>
<circle cx="488.8" cy="342.46000000000004" r="1.95" fill="#111" stroke="none" stroke-width="0.6"/>
<circle cx="488.8" cy="344.74" r="1.95" fill="#111" stroke="none" stroke-width="0.6"/>
<circle cx="488.8" cy="346.64" r="1.95" fill="#111" stroke="none" stroke-width="0.6"/>
<circle cx="488.8" cy="348.54" r="1.95" fill="#111" stroke="none" stroke-width="0.6"/>
<circle cx="488.8" cy="350.44" r="1.95" fill="#111" stroke="none" stroke-width="0.6"/>
<circle cx="488.8" cy="352.34000000000003" r="1.95" fill="#111" stroke="none" stroke-width="0.6"/>
<circle cx="488.8" cy="354.24" r="1.95" fill="#111" stroke="none" stroke-width="0.6"/>
<circle cx="488.8" cy="356.14" r="1.95" fill="#111" stroke="none" stroke-width="0.6"/>
<line x1="484.8" y1="347.02000000000004" x2="492.8" y2="347.02000000000004" stroke="#111" stroke-width="0.9"/>
<circle cx="500.4" cy="337.90000000000003" r="1.95" fill="#1e3a8c" stroke="none" stroke-width="0.6"/>
<circle cx="500.4" cy="341.32" r="1.95" fill="#1e3a8c" stroke="none" stroke-width="0.6"/>
<circle cx="500.4" cy="343.6" r="1.95" fill="#1e3a8c" stroke="none" stroke-width="0.6"/>
<circle cx="500.4" cy="345.5" r="1.95" fill="#1e3a8c" stroke="none" stroke-width="0.6"/>
<circle cx="500.4" cy="347.40000000000003" r="1.95" fill="#1e3a8c" stroke="none" stroke-width="0.6"/>
<circle cx="500.4" cy="349.3" r="1.95" fill="#1e3a8c" stroke="none" stroke-width="0.6"/>
<circle cx="500.4" cy="351.2" r="1.95" fill="#1e3a8c" stroke="none" stroke-width="0.6"/>
<circle cx="500.4" cy="353.1" r="1.95" fill="#1e3a8c" stroke="none" stroke-width="0.6"/>
<circle cx="500.4" cy="355.0" r="1.95" fill="#1e3a8c" stroke="none" stroke-width="0.6"/>
<line x1="496.4" y1="349.3" x2="504.4" y2="349.3" stroke="#111" stroke-width="0.9"/>
<circle cx="512.0" cy="342.84000000000003" r="1.95" fill="#8a1f1f" stroke="none" stroke-width="0.6"/>
<circle cx="512.0" cy="344.74" r="1.95" fill="#8a1f1f" stroke="none" stroke-width="0.6"/>
<circle cx="512.0" cy="346.64" r="1.95" fill="#8a1f1f" stroke="none" stroke-width="0.6"/>
<circle cx="512.0" cy="348.54" r="1.95" fill="#8a1f1f" stroke="none" stroke-width="0.6"/>
<circle cx="512.0" cy="350.44" r="1.95" fill="#8a1f1f" stroke="none" stroke-width="0.6"/>
<circle cx="512.0" cy="352.34000000000003" r="1.95" fill="#8a1f1f" stroke="none" stroke-width="0.6"/>
<circle cx="512.0" cy="354.24" r="1.95" fill="#8a1f1f" stroke="none" stroke-width="0.6"/>
<line x1="508.0" y1="350.06" x2="516.0" y2="350.06" stroke="#111" stroke-width="0.9"/>
<text x="433.90000000000003" y="365.9" font-size="6.7" text-anchor="end" font-weight="normal" fill="#111" stroke="#111" stroke-width="0.1" transform="rotate(-45 433.90000000000003 365.9)">Fresh</text>
<text x="445.0" y="365.9" font-size="6.7" text-anchor="end" font-weight="normal" fill="#111" stroke="#111" stroke-width="0.1" transform="rotate(-45 445.0 365.9)">SCF</text>
<text x="456.6" y="365.9" font-size="6.7" text-anchor="end" font-weight="normal" fill="#111" stroke="#111" stroke-width="0.1" transform="rotate(-45 456.6 365.9)">SCF + TPO</text>
<text x="468.1" y="365.9" font-size="6.7" text-anchor="end" font-weight="normal" fill="#111" stroke="#111" stroke-width="0.1" transform="rotate(-45 468.1 365.9)">SCF + CCL28</text>
<text x="479.6" y="365.9" font-size="6.7" text-anchor="end" font-weight="normal" fill="#111" stroke="#111" stroke-width="0.1" transform="rotate(-45 479.6 365.9)">Fresh</text>
<text x="490.40000000000003" y="365.9" font-size="6.7" text-anchor="end" font-weight="normal" fill="#111" stroke="#111" stroke-width="0.1" transform="rotate(-45 490.40000000000003 365.9)">SCF</text>
<text x="502.0" y="365.9" font-size="6.7" text-anchor="end" font-weight="normal" fill="#111" stroke="#111" stroke-width="0.1" transform="rotate(-45 502.0 365.9)">SCF + TPO</text>
<text x="513.6" y="365.9" font-size="6.7" text-anchor="end" font-weight="normal" fill="#111" stroke="#111" stroke-width="0.1" transform="rotate(-45 513.6 365.9)">SCF + CCL28</text>
</svg>
</body></html>
